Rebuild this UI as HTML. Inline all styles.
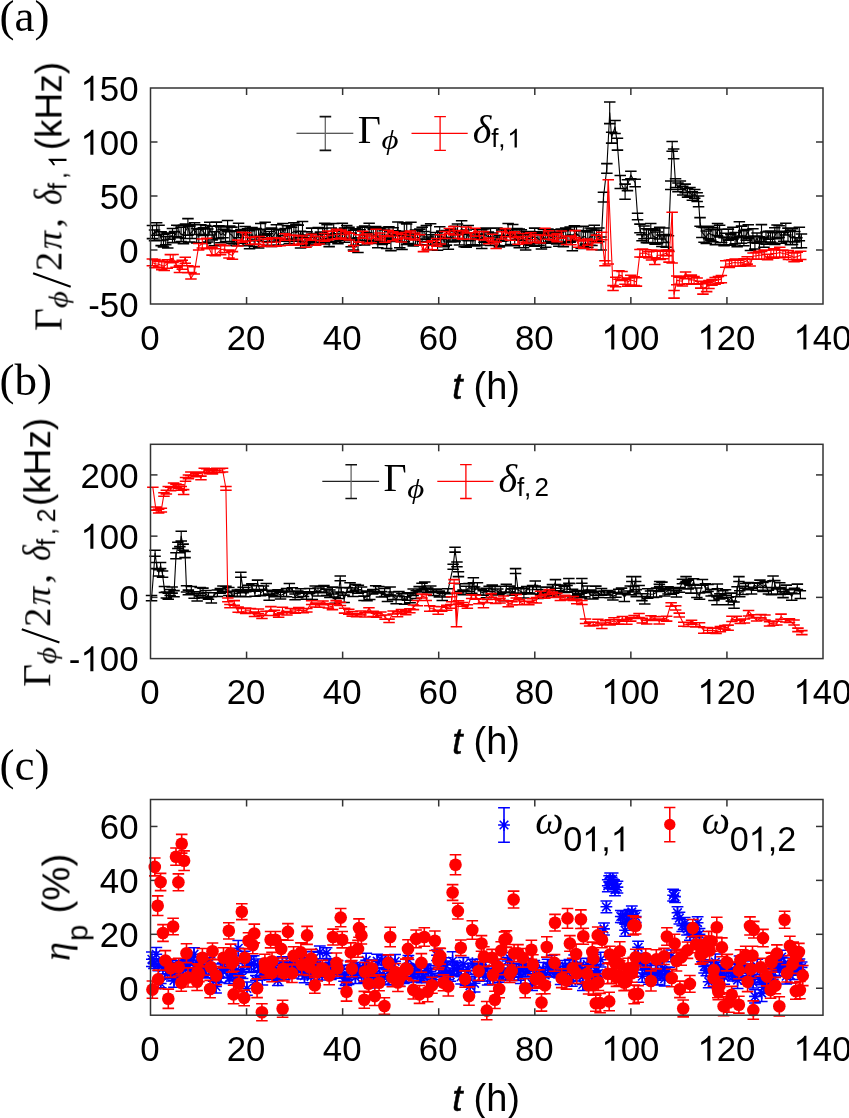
<!DOCTYPE html>
<html><head><meta charset="utf-8"><style>
html,body{margin:0;padding:0;background:#fff;overflow:hidden;}
svg{display:block;}
</style></head><body>
<svg width="849" height="1118" viewBox="0 0 849 1118">
<defs><filter id="gs" x="-20%" y="-30%" width="140%" height="160%"><feColorMatrix type="saturate" values="0"/></filter></defs>
<text filter="url(#gs)" x="140.32" y="349.50" font-family="Liberation Sans, sans-serif" font-size="34.8" >0</text>
<line x1="246.57" y1="304.0" x2="246.57" y2="297.0" stroke="#333" stroke-width="1.5"/>
<line x1="246.57" y1="88.0" x2="246.57" y2="95.0" stroke="#333" stroke-width="1.5"/>
<text filter="url(#gs)" x="226.72" y="349.50" font-family="Liberation Sans, sans-serif" font-size="34.8" >20</text>
<line x1="342.64" y1="304.0" x2="342.64" y2="297.0" stroke="#333" stroke-width="1.5"/>
<line x1="342.64" y1="88.0" x2="342.64" y2="95.0" stroke="#333" stroke-width="1.5"/>
<text filter="url(#gs)" x="322.79" y="349.50" font-family="Liberation Sans, sans-serif" font-size="34.8" >40</text>
<line x1="438.71" y1="304.0" x2="438.71" y2="297.0" stroke="#333" stroke-width="1.5"/>
<line x1="438.71" y1="88.0" x2="438.71" y2="95.0" stroke="#333" stroke-width="1.5"/>
<text filter="url(#gs)" x="418.86" y="349.50" font-family="Liberation Sans, sans-serif" font-size="34.8" >60</text>
<line x1="534.79" y1="304.0" x2="534.79" y2="297.0" stroke="#333" stroke-width="1.5"/>
<line x1="534.79" y1="88.0" x2="534.79" y2="95.0" stroke="#333" stroke-width="1.5"/>
<text filter="url(#gs)" x="514.93" y="349.50" font-family="Liberation Sans, sans-serif" font-size="34.8" >80</text>
<line x1="630.86" y1="304.0" x2="630.86" y2="297.0" stroke="#333" stroke-width="1.5"/>
<line x1="630.86" y1="88.0" x2="630.86" y2="95.0" stroke="#333" stroke-width="1.5"/>
<path transform="translate(601.33,349.50) scale(0.01699,-0.01699)" d="M763 0H583V1147Q518 1085 412.5 1023Q307 961 223 930V1104Q374 1175 487 1276Q600 1377 647 1472H763V0Z"/><text filter="url(#gs)" x="620.68" y="349.50" font-family="Liberation Sans, sans-serif" font-size="34.8" >00</text>
<line x1="726.93" y1="304.0" x2="726.93" y2="297.0" stroke="#333" stroke-width="1.5"/>
<line x1="726.93" y1="88.0" x2="726.93" y2="95.0" stroke="#333" stroke-width="1.5"/>
<path transform="translate(697.40,349.50) scale(0.01699,-0.01699)" d="M763 0H583V1147Q518 1085 412.5 1023Q307 961 223 930V1104Q374 1175 487 1276Q600 1377 647 1472H763V0Z"/><text filter="url(#gs)" x="716.75" y="349.50" font-family="Liberation Sans, sans-serif" font-size="34.8" >20</text>
<path transform="translate(793.47,349.50) scale(0.01699,-0.01699)" d="M763 0H583V1147Q518 1085 412.5 1023Q307 961 223 930V1104Q374 1175 487 1276Q600 1377 647 1472H763V0Z"/><text filter="url(#gs)" x="812.82" y="349.50" font-family="Liberation Sans, sans-serif" font-size="34.8" >40</text>
<text filter="url(#gs)" x="88.20" y="316.70" font-family="Liberation Sans, sans-serif" font-size="34.8" >-50</text>
<line x1="150.5" y1="250.00" x2="157.5" y2="250.00" stroke="#333" stroke-width="1.5"/>
<line x1="823.0" y1="250.00" x2="816.0" y2="250.00" stroke="#333" stroke-width="1.5"/>
<text filter="url(#gs)" x="119.15" y="262.70" font-family="Liberation Sans, sans-serif" font-size="34.8" >0</text>
<line x1="150.5" y1="196.00" x2="157.5" y2="196.00" stroke="#333" stroke-width="1.5"/>
<line x1="823.0" y1="196.00" x2="816.0" y2="196.00" stroke="#333" stroke-width="1.5"/>
<text filter="url(#gs)" x="99.79" y="208.70" font-family="Liberation Sans, sans-serif" font-size="34.8" >50</text>
<line x1="150.5" y1="142.00" x2="157.5" y2="142.00" stroke="#333" stroke-width="1.5"/>
<line x1="823.0" y1="142.00" x2="816.0" y2="142.00" stroke="#333" stroke-width="1.5"/>
<path transform="translate(80.44,154.70) scale(0.01699,-0.01699)" d="M763 0H583V1147Q518 1085 412.5 1023Q307 961 223 930V1104Q374 1175 487 1276Q600 1377 647 1472H763V0Z"/><text filter="url(#gs)" x="99.79" y="154.70" font-family="Liberation Sans, sans-serif" font-size="34.8" >00</text>
<path transform="translate(80.44,100.70) scale(0.01699,-0.01699)" d="M763 0H583V1147Q518 1085 412.5 1023Q307 961 223 930V1104Q374 1175 487 1276Q600 1377 647 1472H763V0Z"/><text filter="url(#gs)" x="99.79" y="100.70" font-family="Liberation Sans, sans-serif" font-size="34.8" >50</text>
<text filter="url(#gs)" x="140.32" y="704.10" font-family="Liberation Sans, sans-serif" font-size="34.8" >0</text>
<line x1="246.57" y1="658.6" x2="246.57" y2="651.6" stroke="#333" stroke-width="1.5"/>
<line x1="246.57" y1="444.3" x2="246.57" y2="451.3" stroke="#333" stroke-width="1.5"/>
<text filter="url(#gs)" x="226.72" y="704.10" font-family="Liberation Sans, sans-serif" font-size="34.8" >20</text>
<line x1="342.64" y1="658.6" x2="342.64" y2="651.6" stroke="#333" stroke-width="1.5"/>
<line x1="342.64" y1="444.3" x2="342.64" y2="451.3" stroke="#333" stroke-width="1.5"/>
<text filter="url(#gs)" x="322.79" y="704.10" font-family="Liberation Sans, sans-serif" font-size="34.8" >40</text>
<line x1="438.71" y1="658.6" x2="438.71" y2="651.6" stroke="#333" stroke-width="1.5"/>
<line x1="438.71" y1="444.3" x2="438.71" y2="451.3" stroke="#333" stroke-width="1.5"/>
<text filter="url(#gs)" x="418.86" y="704.10" font-family="Liberation Sans, sans-serif" font-size="34.8" >60</text>
<line x1="534.79" y1="658.6" x2="534.79" y2="651.6" stroke="#333" stroke-width="1.5"/>
<line x1="534.79" y1="444.3" x2="534.79" y2="451.3" stroke="#333" stroke-width="1.5"/>
<text filter="url(#gs)" x="514.93" y="704.10" font-family="Liberation Sans, sans-serif" font-size="34.8" >80</text>
<line x1="630.86" y1="658.6" x2="630.86" y2="651.6" stroke="#333" stroke-width="1.5"/>
<line x1="630.86" y1="444.3" x2="630.86" y2="451.3" stroke="#333" stroke-width="1.5"/>
<path transform="translate(601.33,704.10) scale(0.01699,-0.01699)" d="M763 0H583V1147Q518 1085 412.5 1023Q307 961 223 930V1104Q374 1175 487 1276Q600 1377 647 1472H763V0Z"/><text filter="url(#gs)" x="620.68" y="704.10" font-family="Liberation Sans, sans-serif" font-size="34.8" >00</text>
<line x1="726.93" y1="658.6" x2="726.93" y2="651.6" stroke="#333" stroke-width="1.5"/>
<line x1="726.93" y1="444.3" x2="726.93" y2="451.3" stroke="#333" stroke-width="1.5"/>
<path transform="translate(697.40,704.10) scale(0.01699,-0.01699)" d="M763 0H583V1147Q518 1085 412.5 1023Q307 961 223 930V1104Q374 1175 487 1276Q600 1377 647 1472H763V0Z"/><text filter="url(#gs)" x="716.75" y="704.10" font-family="Liberation Sans, sans-serif" font-size="34.8" >20</text>
<path transform="translate(793.47,704.10) scale(0.01699,-0.01699)" d="M763 0H583V1147Q518 1085 412.5 1023Q307 961 223 930V1104Q374 1175 487 1276Q600 1377 647 1472H763V0Z"/><text filter="url(#gs)" x="812.82" y="704.10" font-family="Liberation Sans, sans-serif" font-size="34.8" >40</text>
<text filter="url(#gs)" x="68.85" y="671.30" font-family="Liberation Sans, sans-serif" font-size="34.8" >-</text><path transform="translate(80.44,671.30) scale(0.01699,-0.01699)" d="M763 0H583V1147Q518 1085 412.5 1023Q307 961 223 930V1104Q374 1175 487 1276Q600 1377 647 1472H763V0Z"/><text filter="url(#gs)" x="99.79" y="671.30" font-family="Liberation Sans, sans-serif" font-size="34.8" >00</text>
<line x1="150.5" y1="597.37" x2="157.5" y2="597.37" stroke="#333" stroke-width="1.5"/>
<line x1="823.0" y1="597.37" x2="816.0" y2="597.37" stroke="#333" stroke-width="1.5"/>
<text filter="url(#gs)" x="119.15" y="610.07" font-family="Liberation Sans, sans-serif" font-size="34.8" >0</text>
<line x1="150.5" y1="536.14" x2="157.5" y2="536.14" stroke="#333" stroke-width="1.5"/>
<line x1="823.0" y1="536.14" x2="816.0" y2="536.14" stroke="#333" stroke-width="1.5"/>
<path transform="translate(80.44,548.84) scale(0.01699,-0.01699)" d="M763 0H583V1147Q518 1085 412.5 1023Q307 961 223 930V1104Q374 1175 487 1276Q600 1377 647 1472H763V0Z"/><text filter="url(#gs)" x="99.79" y="548.84" font-family="Liberation Sans, sans-serif" font-size="34.8" >00</text>
<line x1="150.5" y1="474.91" x2="157.5" y2="474.91" stroke="#333" stroke-width="1.5"/>
<line x1="823.0" y1="474.91" x2="816.0" y2="474.91" stroke="#333" stroke-width="1.5"/>
<text filter="url(#gs)" x="80.44" y="487.61" font-family="Liberation Sans, sans-serif" font-size="34.8" >200</text>
<text filter="url(#gs)" x="140.32" y="1060.70" font-family="Liberation Sans, sans-serif" font-size="34.8" >0</text>
<line x1="246.57" y1="1015.2" x2="246.57" y2="1008.2" stroke="#333" stroke-width="1.5"/>
<line x1="246.57" y1="799.5" x2="246.57" y2="806.5" stroke="#333" stroke-width="1.5"/>
<text filter="url(#gs)" x="226.72" y="1060.70" font-family="Liberation Sans, sans-serif" font-size="34.8" >20</text>
<line x1="342.64" y1="1015.2" x2="342.64" y2="1008.2" stroke="#333" stroke-width="1.5"/>
<line x1="342.64" y1="799.5" x2="342.64" y2="806.5" stroke="#333" stroke-width="1.5"/>
<text filter="url(#gs)" x="322.79" y="1060.70" font-family="Liberation Sans, sans-serif" font-size="34.8" >40</text>
<line x1="438.71" y1="1015.2" x2="438.71" y2="1008.2" stroke="#333" stroke-width="1.5"/>
<line x1="438.71" y1="799.5" x2="438.71" y2="806.5" stroke="#333" stroke-width="1.5"/>
<text filter="url(#gs)" x="418.86" y="1060.70" font-family="Liberation Sans, sans-serif" font-size="34.8" >60</text>
<line x1="534.79" y1="1015.2" x2="534.79" y2="1008.2" stroke="#333" stroke-width="1.5"/>
<line x1="534.79" y1="799.5" x2="534.79" y2="806.5" stroke="#333" stroke-width="1.5"/>
<text filter="url(#gs)" x="514.93" y="1060.70" font-family="Liberation Sans, sans-serif" font-size="34.8" >80</text>
<line x1="630.86" y1="1015.2" x2="630.86" y2="1008.2" stroke="#333" stroke-width="1.5"/>
<line x1="630.86" y1="799.5" x2="630.86" y2="806.5" stroke="#333" stroke-width="1.5"/>
<path transform="translate(601.33,1060.70) scale(0.01699,-0.01699)" d="M763 0H583V1147Q518 1085 412.5 1023Q307 961 223 930V1104Q374 1175 487 1276Q600 1377 647 1472H763V0Z"/><text filter="url(#gs)" x="620.68" y="1060.70" font-family="Liberation Sans, sans-serif" font-size="34.8" >00</text>
<line x1="726.93" y1="1015.2" x2="726.93" y2="1008.2" stroke="#333" stroke-width="1.5"/>
<line x1="726.93" y1="799.5" x2="726.93" y2="806.5" stroke="#333" stroke-width="1.5"/>
<path transform="translate(697.40,1060.70) scale(0.01699,-0.01699)" d="M763 0H583V1147Q518 1085 412.5 1023Q307 961 223 930V1104Q374 1175 487 1276Q600 1377 647 1472H763V0Z"/><text filter="url(#gs)" x="716.75" y="1060.70" font-family="Liberation Sans, sans-serif" font-size="34.8" >20</text>
<path transform="translate(793.47,1060.70) scale(0.01699,-0.01699)" d="M763 0H583V1147Q518 1085 412.5 1023Q307 961 223 930V1104Q374 1175 487 1276Q600 1377 647 1472H763V0Z"/><text filter="url(#gs)" x="812.82" y="1060.70" font-family="Liberation Sans, sans-serif" font-size="34.8" >40</text>
<line x1="150.5" y1="988.24" x2="157.5" y2="988.24" stroke="#333" stroke-width="1.5"/>
<line x1="823.0" y1="988.24" x2="816.0" y2="988.24" stroke="#333" stroke-width="1.5"/>
<text filter="url(#gs)" x="119.15" y="1000.94" font-family="Liberation Sans, sans-serif" font-size="34.8" >0</text>
<line x1="150.5" y1="934.31" x2="157.5" y2="934.31" stroke="#333" stroke-width="1.5"/>
<line x1="823.0" y1="934.31" x2="816.0" y2="934.31" stroke="#333" stroke-width="1.5"/>
<text filter="url(#gs)" x="99.79" y="947.01" font-family="Liberation Sans, sans-serif" font-size="34.8" >20</text>
<line x1="150.5" y1="880.39" x2="157.5" y2="880.39" stroke="#333" stroke-width="1.5"/>
<line x1="823.0" y1="880.39" x2="816.0" y2="880.39" stroke="#333" stroke-width="1.5"/>
<text filter="url(#gs)" x="99.79" y="893.09" font-family="Liberation Sans, sans-serif" font-size="34.8" >40</text>
<line x1="150.5" y1="826.46" x2="157.5" y2="826.46" stroke="#333" stroke-width="1.5"/>
<line x1="823.0" y1="826.46" x2="816.0" y2="826.46" stroke="#333" stroke-width="1.5"/>
<text filter="url(#gs)" x="99.79" y="839.16" font-family="Liberation Sans, sans-serif" font-size="34.8" >60</text>
<path d="M152.5 225.5V238.6M154.5 229.9V240.8M156.7 222.8V235.3M159.0 225.2V240.4M161.2 231.7V245.6M163.5 234.4V247.0M165.7 236.7V244.8M167.8 233.1V248.0M169.9 233.3V239.2M172.5 228.4V242.8M174.5 231.6V242.5M176.8 225.3V236.8M178.8 225.5V237.7M181.1 227.2V241.5M183.5 225.1V243.6M185.4 224.1V238.5M187.9 218.6V235.1M189.8 226.1V242.0M192.1 224.7V238.5M194.6 222.7V234.5M196.7 228.4V242.9M198.8 229.3V242.7M200.9 224.7V234.5M203.3 227.8V235.4M205.5 225.4V243.5M207.8 229.0V241.9M209.7 222.2V234.9M212.1 226.3V239.9M214.3 231.7V245.7M216.5 222.1V238.3M218.8 225.7V238.7M220.9 226.9V242.8M223.1 229.3V237.8M225.5 230.3V241.5M227.6 220.5V231.8M229.8 226.0V241.6M232.0 227.1V243.4M234.1 231.4V245.2M236.5 230.8V245.7M238.6 223.2V237.8M240.9 229.5V243.1M243.1 230.6V245.8M245.2 226.5V234.9M247.6 228.7V245.3M249.6 230.6V248.7M252.0 227.6V240.7M254.2 228.9V246.5M256.2 228.5V239.9M258.6 229.8V248.0M260.7 223.4V237.5M263.0 229.3V241.5M265.2 222.3V235.1M267.3 233.8V245.2M269.4 231.5V242.2M271.6 227.9V246.5M274.0 229.2V241.2M276.3 224.7V238.7M278.4 229.6V245.1M280.5 229.9V240.3M282.9 223.4V235.8M285.1 228.5V241.1M287.4 225.8V238.9M289.2 225.7V243.6M291.5 227.3V239.5M293.9 222.7V239.9M295.9 224.5V241.1M298.3 225.1V237.7M300.5 231.2V248.0M302.5 221.5V241.6M305.0 234.9V243.5M307.0 231.7V245.7M309.4 237.5V244.7M311.6 228.1V241.3M313.9 233.6V242.7M316.0 234.2V242.9M318.2 227.4V242.8M320.5 232.0V242.8M322.7 228.4V239.9M324.6 223.3V243.9M327.0 224.6V238.4M329.1 234.1V246.6M331.3 228.0V242.3M333.7 223.5V237.5M335.8 233.7V241.3M337.9 231.3V243.6M340.1 229.6V239.8M342.4 223.3V237.9M344.5 228.0V242.2M346.7 225.5V240.3M349.0 227.2V239.0M351.2 233.1V246.7M353.5 230.3V249.9M355.8 228.7V245.2M358.0 237.7V252.5M360.1 229.7V240.2M362.3 227.1V244.9M364.7 225.9V244.9M366.9 232.8V241.0M369.1 223.3V240.3M371.3 227.7V242.5M373.3 229.2V243.4M375.7 226.6V240.4M377.8 228.5V247.7M380.0 229.0V241.9M382.3 227.6V244.5M384.6 230.0V243.3M386.7 235.3V248.5M388.9 226.8V238.3M390.9 231.7V250.6M393.1 227.7V239.8M395.5 230.7V241.5M397.8 221.9V235.1M399.7 232.6V247.7M402.0 231.3V249.5M404.3 222.7V241.7M406.7 224.0V244.4M408.7 233.8V243.4M411.0 222.3V239.4M413.3 233.5V245.9M415.4 229.9V244.7M417.5 230.7V244.6M419.8 229.1V244.8M422.1 227.3V241.5M424.1 231.4V239.1M426.3 225.4V241.7M428.6 236.9V249.7M430.7 223.8V245.1M432.9 234.7V245.0M435.4 232.5V242.8M437.6 232.5V250.2M439.7 226.7V239.2M441.8 231.1V243.9M444.2 237.3V246.6M446.5 230.4V245.1M448.4 237.8V249.3M450.8 229.1V242.0M453.0 231.2V241.3M455.1 226.2V241.8M457.5 224.0V239.9M459.5 231.9V245.0M461.6 220.7V234.2M464.1 232.2V246.8M466.3 229.9V247.1M468.3 225.4V240.6M470.8 232.7V245.2M472.9 233.4V244.7M475.1 236.0V245.9M477.4 229.2V238.2M479.5 234.1V244.9M481.8 229.6V248.4M484.0 228.9V242.2M486.0 228.0V241.6M488.4 232.0V242.5M490.6 228.3V245.4M492.8 233.0V241.4M495.0 237.0V245.2M497.0 227.9V245.5M499.4 235.3V247.0M501.6 229.9V241.3M503.6 229.0V240.6M505.9 235.7V245.8M508.1 223.5V236.5M510.5 229.9V244.4M512.7 224.5V235.2M514.7 236.0V245.7M517.0 228.5V239.4M519.2 229.1V247.7M521.4 229.8V240.3M523.6 234.6V247.7M525.7 231.5V250.0M528.0 232.9V244.2M530.2 231.6V245.5M532.5 232.2V242.6M534.7 228.1V246.3M537.1 231.8V243.3M539.0 233.5V245.2M541.4 233.0V249.0M543.4 229.4V242.8M545.7 234.0V247.3M548.0 229.1V243.2M550.1 231.9V241.6M552.4 234.5V241.8M554.6 229.7V243.2M556.7 233.0V243.9M558.8 232.0V246.3M561.2 228.9V243.4M563.3 230.8V246.6M565.7 227.9V242.7M567.9 229.6V241.6M570.2 226.9V242.3M572.3 234.9V250.7M574.4 225.8V240.6M576.5 226.7V240.3M579.0 231.0V240.2M581.1 230.4V248.5M583.3 226.2V245.9M585.5 230.8V244.1M587.8 232.0V247.4M590.1 228.0V245.3M592.0 229.0V245.5M594.3 225.3V240.7M596.5 230.3V241.1M598.9 227.9V241.8M601.1 237.0V249.9M603.5 192.2V201.9M606.8 163.6V173.3M609.7 102.0V123.6M611.6 132.3V143.1M615.0 120.4V133.4M617.4 138.2V150.1M620.3 175.5V188.4M625.1 184.1V199.2M627.5 179.8V190.6M630.9 171.2V178.7M635.2 179.3V186.8M637.6 213.3V219.8M640.0 224.1V232.7M642.0 234.7V240.7M644.0 225.9V238.8M646.4 228.8V242.6M648.4 229.7V243.0M650.8 223.4V238.3M652.9 228.8V242.7M655.1 230.1V244.3M657.5 231.9V243.6M659.6 227.2V239.0M661.9 235.0V246.4M663.8 227.9V242.5M666.1 234.5V247.3M668.4 235.7V250.3M670.7 180.9V189.5M672.2 141.5V151.2M673.6 149.0V158.7M675.5 178.7V187.4M677.9 183.0V191.7M680.3 180.9V189.5M682.7 186.3V194.9M685.1 184.1V192.8M687.5 188.4V197.1M689.9 187.4V196.0M692.3 191.7V200.3M694.7 189.5V198.2M697.1 192.8V201.4M698.6 196.0V206.8M700.0 217.6V226.2M701.9 226.9V237.5M704.1 227.5V242.2M706.2 231.0V243.4M708.7 226.3V238.8M710.8 229.3V240.3M712.9 227.5V241.8M715.3 229.6V244.6M717.5 223.5V235.5M719.6 225.3V236.9M721.7 229.3V242.4M724.0 237.6V245.7M726.2 233.2V244.7M728.3 229.1V240.1M730.8 234.1V245.1M732.8 227.3V239.1M735.1 232.4V243.8M737.2 237.6V246.8M739.4 221.7V236.0M741.6 226.1V243.3M743.9 230.7V245.7M746.2 229.6V240.1M748.2 224.8V238.2M750.4 236.8V250.4M752.9 228.8V242.5M754.9 236.1V248.9M757.0 232.9V243.2M759.4 236.8V251.8M761.5 224.6V241.6M763.9 237.6V247.2M766.0 232.0V244.1M768.4 231.2V239.2M770.5 231.0V242.1M772.5 232.7V243.0M774.8 227.7V244.4M777.0 224.9V238.6M779.1 225.7V237.4M781.4 231.2V243.3M783.7 232.2V241.3M785.8 223.3V235.0M788.0 228.1V241.8M790.5 230.4V244.6M792.5 228.6V244.5M794.8 231.4V241.9M796.8 237.8V248.0M799.3 227.3V240.7M801.4 234.0V247.8" stroke="#000" stroke-width="1.15" fill="none"/>
<path d="M146.7 225.5h11.5M146.7 238.6h11.5M148.8 229.9h11.5M148.8 240.8h11.5M150.9 222.8h11.5M150.9 235.3h11.5M153.3 225.2h11.5M153.3 240.4h11.5M155.4 231.7h11.5M155.4 245.6h11.5M157.7 234.4h11.5M157.7 247.0h11.5M160.0 236.7h11.5M160.0 244.8h11.5M162.0 233.1h11.5M162.0 248.0h11.5M164.2 233.3h11.5M164.2 239.2h11.5M166.7 228.4h11.5M166.7 242.8h11.5M168.8 231.6h11.5M168.8 242.5h11.5M171.0 225.3h11.5M171.0 236.8h11.5M173.0 225.5h11.5M173.0 237.7h11.5M175.3 227.2h11.5M175.3 241.5h11.5M177.7 225.1h11.5M177.7 243.6h11.5M179.7 224.1h11.5M179.7 238.5h11.5M182.2 218.6h11.5M182.2 235.1h11.5M184.1 226.1h11.5M184.1 242.0h11.5M186.3 224.7h11.5M186.3 238.5h11.5M188.8 222.7h11.5M188.8 234.5h11.5M190.9 228.4h11.5M190.9 242.9h11.5M193.1 229.3h11.5M193.1 242.7h11.5M195.1 224.7h11.5M195.1 234.5h11.5M197.6 227.8h11.5M197.6 235.4h11.5M199.8 225.4h11.5M199.8 243.5h11.5M202.1 229.0h11.5M202.1 241.9h11.5M204.0 222.2h11.5M204.0 234.9h11.5M206.4 226.3h11.5M206.4 239.9h11.5M208.6 231.7h11.5M208.6 245.7h11.5M210.7 222.1h11.5M210.7 238.3h11.5M213.1 225.7h11.5M213.1 238.7h11.5M215.1 226.9h11.5M215.1 242.8h11.5M217.3 229.3h11.5M217.3 237.8h11.5M219.8 230.3h11.5M219.8 241.5h11.5M221.8 220.5h11.5M221.8 231.8h11.5M224.0 226.0h11.5M224.0 241.6h11.5M226.2 227.1h11.5M226.2 243.4h11.5M228.3 231.4h11.5M228.3 245.2h11.5M230.7 230.8h11.5M230.7 245.7h11.5M232.8 223.2h11.5M232.8 237.8h11.5M235.1 229.5h11.5M235.1 243.1h11.5M237.3 230.6h11.5M237.3 245.8h11.5M239.4 226.5h11.5M239.4 234.9h11.5M241.8 228.7h11.5M241.8 245.3h11.5M243.8 230.6h11.5M243.8 248.7h11.5M246.3 227.6h11.5M246.3 240.7h11.5M248.5 228.9h11.5M248.5 246.5h11.5M250.5 228.5h11.5M250.5 239.9h11.5M252.9 229.8h11.5M252.9 248.0h11.5M255.0 223.4h11.5M255.0 237.5h11.5M257.3 229.3h11.5M257.3 241.5h11.5M259.4 222.3h11.5M259.4 235.1h11.5M261.5 233.8h11.5M261.5 245.2h11.5M263.7 231.5h11.5M263.7 242.2h11.5M265.9 227.9h11.5M265.9 246.5h11.5M268.2 229.2h11.5M268.2 241.2h11.5M270.6 224.7h11.5M270.6 238.7h11.5M272.7 229.6h11.5M272.7 245.1h11.5M274.8 229.9h11.5M274.8 240.3h11.5M277.1 223.4h11.5M277.1 235.8h11.5M279.4 228.5h11.5M279.4 241.1h11.5M281.6 225.8h11.5M281.6 238.9h11.5M283.5 225.7h11.5M283.5 243.6h11.5M285.8 227.3h11.5M285.8 239.5h11.5M288.1 222.7h11.5M288.1 239.9h11.5M290.1 224.5h11.5M290.1 241.1h11.5M292.5 225.1h11.5M292.5 237.7h11.5M294.8 231.2h11.5M294.8 248.0h11.5M296.8 221.5h11.5M296.8 241.6h11.5M299.3 234.9h11.5M299.3 243.5h11.5M301.3 231.7h11.5M301.3 245.7h11.5M303.7 237.5h11.5M303.7 244.7h11.5M305.9 228.1h11.5M305.9 241.3h11.5M308.1 233.6h11.5M308.1 242.7h11.5M310.2 234.2h11.5M310.2 242.9h11.5M312.5 227.4h11.5M312.5 242.8h11.5M314.7 232.0h11.5M314.7 242.8h11.5M316.9 228.4h11.5M316.9 239.9h11.5M318.9 223.3h11.5M318.9 243.9h11.5M321.3 224.6h11.5M321.3 238.4h11.5M323.4 234.1h11.5M323.4 246.6h11.5M325.5 228.0h11.5M325.5 242.3h11.5M327.9 223.5h11.5M327.9 237.5h11.5M330.0 233.7h11.5M330.0 241.3h11.5M332.2 231.3h11.5M332.2 243.6h11.5M334.3 229.6h11.5M334.3 239.8h11.5M336.6 223.3h11.5M336.6 237.9h11.5M338.8 228.0h11.5M338.8 242.2h11.5M341.0 225.5h11.5M341.0 240.3h11.5M343.3 227.2h11.5M343.3 239.0h11.5M345.4 233.1h11.5M345.4 246.7h11.5M347.7 230.3h11.5M347.7 249.9h11.5M350.0 228.7h11.5M350.0 245.2h11.5M352.2 237.7h11.5M352.2 252.5h11.5M354.4 229.7h11.5M354.4 240.2h11.5M356.5 227.1h11.5M356.5 244.9h11.5M358.9 225.9h11.5M358.9 244.9h11.5M361.1 232.8h11.5M361.1 241.0h11.5M363.4 223.3h11.5M363.4 240.3h11.5M365.5 227.7h11.5M365.5 242.5h11.5M367.5 229.2h11.5M367.5 243.4h11.5M369.9 226.6h11.5M369.9 240.4h11.5M372.0 228.5h11.5M372.0 247.7h11.5M374.3 229.0h11.5M374.3 241.9h11.5M376.6 227.6h11.5M376.6 244.5h11.5M378.8 230.0h11.5M378.8 243.3h11.5M381.0 235.3h11.5M381.0 248.5h11.5M383.2 226.8h11.5M383.2 238.3h11.5M385.2 231.7h11.5M385.2 250.6h11.5M387.4 227.7h11.5M387.4 239.8h11.5M389.7 230.7h11.5M389.7 241.5h11.5M392.1 221.9h11.5M392.1 235.1h11.5M394.0 232.6h11.5M394.0 247.7h11.5M396.3 231.3h11.5M396.3 249.5h11.5M398.6 222.7h11.5M398.6 241.7h11.5M400.9 224.0h11.5M400.9 244.4h11.5M403.0 233.8h11.5M403.0 243.4h11.5M405.2 222.3h11.5M405.2 239.4h11.5M407.5 233.5h11.5M407.5 245.9h11.5M409.7 229.9h11.5M409.7 244.7h11.5M411.8 230.7h11.5M411.8 244.6h11.5M414.1 229.1h11.5M414.1 244.8h11.5M416.4 227.3h11.5M416.4 241.5h11.5M418.3 231.4h11.5M418.3 239.1h11.5M420.6 225.4h11.5M420.6 241.7h11.5M422.9 236.9h11.5M422.9 249.7h11.5M424.9 223.8h11.5M424.9 245.1h11.5M427.1 234.7h11.5M427.1 245.0h11.5M429.6 232.5h11.5M429.6 242.8h11.5M431.8 232.5h11.5M431.8 250.2h11.5M434.0 226.7h11.5M434.0 239.2h11.5M436.0 231.1h11.5M436.0 243.9h11.5M438.5 237.3h11.5M438.5 246.6h11.5M440.7 230.4h11.5M440.7 245.1h11.5M442.6 237.8h11.5M442.6 249.3h11.5M445.1 229.1h11.5M445.1 242.0h11.5M447.3 231.2h11.5M447.3 241.3h11.5M449.4 226.2h11.5M449.4 241.8h11.5M451.7 224.0h11.5M451.7 239.9h11.5M453.7 231.9h11.5M453.7 245.0h11.5M455.9 220.7h11.5M455.9 234.2h11.5M458.4 232.2h11.5M458.4 246.8h11.5M460.5 229.9h11.5M460.5 247.1h11.5M462.5 225.4h11.5M462.5 240.6h11.5M465.0 232.7h11.5M465.0 245.2h11.5M467.1 233.4h11.5M467.1 244.7h11.5M469.3 236.0h11.5M469.3 245.9h11.5M471.6 229.2h11.5M471.6 238.2h11.5M473.8 234.1h11.5M473.8 244.9h11.5M476.0 229.6h11.5M476.0 248.4h11.5M478.2 228.9h11.5M478.2 242.2h11.5M480.3 228.0h11.5M480.3 241.6h11.5M482.6 232.0h11.5M482.6 242.5h11.5M484.8 228.3h11.5M484.8 245.4h11.5M487.1 233.0h11.5M487.1 241.4h11.5M489.3 237.0h11.5M489.3 245.2h11.5M491.2 227.9h11.5M491.2 245.5h11.5M493.6 235.3h11.5M493.6 247.0h11.5M495.9 229.9h11.5M495.9 241.3h11.5M497.9 229.0h11.5M497.9 240.6h11.5M500.2 235.7h11.5M500.2 245.8h11.5M502.4 223.5h11.5M502.4 236.5h11.5M504.8 229.9h11.5M504.8 244.4h11.5M507.0 224.5h11.5M507.0 235.2h11.5M508.9 236.0h11.5M508.9 245.7h11.5M511.2 228.5h11.5M511.2 239.4h11.5M513.5 229.1h11.5M513.5 247.7h11.5M515.6 229.8h11.5M515.6 240.3h11.5M517.8 234.6h11.5M517.8 247.7h11.5M519.9 231.5h11.5M519.9 250.0h11.5M522.3 232.9h11.5M522.3 244.2h11.5M524.4 231.6h11.5M524.4 245.5h11.5M526.8 232.2h11.5M526.8 242.6h11.5M528.9 228.1h11.5M528.9 246.3h11.5M531.3 231.8h11.5M531.3 243.3h11.5M533.3 233.5h11.5M533.3 245.2h11.5M535.7 233.0h11.5M535.7 249.0h11.5M537.6 229.4h11.5M537.6 242.8h11.5M540.0 234.0h11.5M540.0 247.3h11.5M542.2 229.1h11.5M542.2 243.2h11.5M544.4 231.9h11.5M544.4 241.6h11.5M546.6 234.5h11.5M546.6 241.8h11.5M548.9 229.7h11.5M548.9 243.2h11.5M550.9 233.0h11.5M550.9 243.9h11.5M553.1 232.0h11.5M553.1 246.3h11.5M555.4 228.9h11.5M555.4 243.4h11.5M557.6 230.8h11.5M557.6 246.6h11.5M559.9 227.9h11.5M559.9 242.7h11.5M562.2 229.6h11.5M562.2 241.6h11.5M564.4 226.9h11.5M564.4 242.3h11.5M566.6 234.9h11.5M566.6 250.7h11.5M568.6 225.8h11.5M568.6 240.6h11.5M570.8 226.7h11.5M570.8 240.3h11.5M573.2 231.0h11.5M573.2 240.2h11.5M575.4 230.4h11.5M575.4 248.5h11.5M577.6 226.2h11.5M577.6 245.9h11.5M579.7 230.8h11.5M579.7 244.1h11.5M582.1 232.0h11.5M582.1 247.4h11.5M584.3 228.0h11.5M584.3 245.3h11.5M586.2 229.0h11.5M586.2 245.5h11.5M588.5 225.3h11.5M588.5 240.7h11.5M590.7 230.3h11.5M590.7 241.1h11.5M593.1 227.9h11.5M593.1 241.8h11.5M595.3 237.0h11.5M595.3 249.9h11.5M597.7 192.2h11.5M597.7 201.9h11.5M601.1 163.6h11.5M601.1 173.3h11.5M604.0 102.0h11.5M604.0 123.6h11.5M605.9 132.3h11.5M605.9 143.1h11.5M609.3 120.4h11.5M609.3 133.4h11.5M611.7 138.2h11.5M611.7 150.1h11.5M614.5 175.5h11.5M614.5 188.4h11.5M619.3 184.1h11.5M619.3 199.2h11.5M621.7 179.8h11.5M621.7 190.6h11.5M625.1 171.2h11.5M625.1 178.7h11.5M629.4 179.3h11.5M629.4 186.8h11.5M631.8 213.3h11.5M631.8 219.8h11.5M634.2 224.1h11.5M634.2 232.7h11.5M636.3 234.7h11.5M636.3 240.7h11.5M638.3 225.9h11.5M638.3 238.8h11.5M640.6 228.8h11.5M640.6 242.6h11.5M642.6 229.7h11.5M642.6 243.0h11.5M645.0 223.4h11.5M645.0 238.3h11.5M647.1 228.8h11.5M647.1 242.7h11.5M649.3 230.1h11.5M649.3 244.3h11.5M651.8 231.9h11.5M651.8 243.6h11.5M653.9 227.2h11.5M653.9 239.0h11.5M656.1 235.0h11.5M656.1 246.4h11.5M658.1 227.9h11.5M658.1 242.5h11.5M660.4 234.5h11.5M660.4 247.3h11.5M662.7 235.7h11.5M662.7 250.3h11.5M665.0 180.9h11.5M665.0 189.5h11.5M666.4 141.5h11.5M666.4 151.2h11.5M667.9 149.0h11.5M667.9 158.7h11.5M669.8 178.7h11.5M669.8 187.4h11.5M672.2 183.0h11.5M672.2 191.7h11.5M674.6 180.9h11.5M674.6 189.5h11.5M677.0 186.3h11.5M677.0 194.9h11.5M679.4 184.1h11.5M679.4 192.8h11.5M681.8 188.4h11.5M681.8 197.1h11.5M684.2 187.4h11.5M684.2 196.0h11.5M686.6 191.7h11.5M686.6 200.3h11.5M689.0 189.5h11.5M689.0 198.2h11.5M691.4 192.8h11.5M691.4 201.4h11.5M692.8 196.0h11.5M692.8 206.8h11.5M694.3 217.6h11.5M694.3 226.2h11.5M696.1 226.9h11.5M696.1 237.5h11.5M698.3 227.5h11.5M698.3 242.2h11.5M700.5 231.0h11.5M700.5 243.4h11.5M702.9 226.3h11.5M702.9 238.8h11.5M705.1 229.3h11.5M705.1 240.3h11.5M707.1 227.5h11.5M707.1 241.8h11.5M709.6 229.6h11.5M709.6 244.6h11.5M711.8 223.5h11.5M711.8 235.5h11.5M713.9 225.3h11.5M713.9 236.9h11.5M715.9 229.3h11.5M715.9 242.4h11.5M718.3 237.6h11.5M718.3 245.7h11.5M720.4 233.2h11.5M720.4 244.7h11.5M722.6 229.1h11.5M722.6 240.1h11.5M725.1 234.1h11.5M725.1 245.1h11.5M727.1 227.3h11.5M727.1 239.1h11.5M729.4 232.4h11.5M729.4 243.8h11.5M731.4 237.6h11.5M731.4 246.8h11.5M733.6 221.7h11.5M733.6 236.0h11.5M735.8 226.1h11.5M735.8 243.3h11.5M738.1 230.7h11.5M738.1 245.7h11.5M740.4 229.6h11.5M740.4 240.1h11.5M742.5 224.8h11.5M742.5 238.2h11.5M744.7 236.8h11.5M744.7 250.4h11.5M747.2 228.8h11.5M747.2 242.5h11.5M749.1 236.1h11.5M749.1 248.9h11.5M751.3 232.9h11.5M751.3 243.2h11.5M753.7 236.8h11.5M753.7 251.8h11.5M755.7 224.6h11.5M755.7 241.6h11.5M758.2 237.6h11.5M758.2 247.2h11.5M760.2 232.0h11.5M760.2 244.1h11.5M762.6 231.2h11.5M762.6 239.2h11.5M764.8 231.0h11.5M764.8 242.1h11.5M766.8 232.7h11.5M766.8 243.0h11.5M769.0 227.7h11.5M769.0 244.4h11.5M771.3 224.9h11.5M771.3 238.6h11.5M773.4 225.7h11.5M773.4 237.4h11.5M775.7 231.2h11.5M775.7 243.3h11.5M777.9 232.2h11.5M777.9 241.3h11.5M780.1 223.3h11.5M780.1 235.0h11.5M782.2 228.1h11.5M782.2 241.8h11.5M784.7 230.4h11.5M784.7 244.6h11.5M786.8 228.6h11.5M786.8 244.5h11.5M789.1 231.4h11.5M789.1 241.9h11.5M791.1 237.8h11.5M791.1 248.0h11.5M793.6 227.3h11.5M793.6 240.7h11.5M795.7 234.0h11.5M795.7 247.8h11.5" stroke="#000" stroke-width="1.55" fill="none"/>
<polyline points="152.5,232.0 154.5,235.3 156.7,229.0 159.0,232.8 161.2,238.6 163.5,240.7 165.7,240.8 167.8,240.5 169.9,236.3 172.5,235.6 174.5,237.0 176.8,231.1 178.8,231.6 181.1,234.4 183.5,234.4 185.4,231.3 187.9,226.8 189.8,234.0 192.1,231.6 194.6,228.6 196.7,235.7 198.8,236.0 200.9,229.6 203.3,231.6 205.5,234.5 207.8,235.5 209.7,228.5 212.1,233.1 214.3,238.7 216.5,230.2 218.8,232.2 220.9,234.8 223.1,233.5 225.5,235.9 227.6,226.2 229.8,233.8 232.0,235.2 234.1,238.3 236.5,238.2 238.6,230.5 240.9,236.3 243.1,238.2 245.2,230.7 247.6,237.0 249.6,239.7 252.0,234.2 254.2,237.7 256.2,234.2 258.6,238.9 260.7,230.5 263.0,235.4 265.2,228.7 267.3,239.5 269.4,236.9 271.6,237.2 274.0,235.2 276.3,231.7 278.4,237.4 280.5,235.1 282.9,229.6 285.1,234.8 287.4,232.3 289.2,234.7 291.5,233.4 293.9,231.3 295.9,232.8 298.3,231.4 300.5,239.6 302.5,231.6 305.0,239.2 307.0,238.7 309.4,241.1 311.6,234.7 313.9,238.1 316.0,238.6 318.2,235.1 320.5,237.4 322.7,234.1 324.6,233.6 327.0,231.5 329.1,240.4 331.3,235.2 333.7,230.5 335.8,237.5 337.9,237.5 340.1,234.7 342.4,230.6 344.5,235.1 346.7,232.9 349.0,233.1 351.2,239.9 353.5,240.1 355.8,236.9 358.0,245.1 360.1,235.0 362.3,236.0 364.7,235.4 366.9,236.9 369.1,231.8 371.3,235.1 373.3,236.3 375.7,233.5 377.8,238.1 380.0,235.5 382.3,236.0 384.6,236.7 386.7,241.9 388.9,232.6 390.9,241.2 393.1,233.7 395.5,236.1 397.8,228.5 399.7,240.1 402.0,240.4 404.3,232.2 406.7,234.2 408.7,238.6 411.0,230.8 413.3,239.7 415.4,237.3 417.5,237.7 419.8,236.9 422.1,234.4 424.1,235.2 426.3,233.5 428.6,243.3 430.7,234.5 432.9,239.9 435.4,237.6 437.6,241.4 439.7,232.9 441.8,237.5 444.2,242.0 446.5,237.8 448.4,243.6 450.8,235.6 453.0,236.2 455.1,234.0 457.5,231.9 459.5,238.5 461.6,227.5 464.1,239.5 466.3,238.5 468.3,233.0 470.8,238.9 472.9,239.1 475.1,240.9 477.4,233.7 479.5,239.5 481.8,239.0 484.0,235.6 486.0,234.8 488.4,237.2 490.6,236.8 492.8,237.2 495.0,241.1 497.0,236.7 499.4,241.2 501.6,235.6 503.6,234.8 505.9,240.7 508.1,230.0 510.5,237.2 512.7,229.8 514.7,240.9 517.0,233.9 519.2,238.4 521.4,235.0 523.6,241.1 525.7,240.7 528.0,238.6 530.2,238.5 532.5,237.4 534.7,237.2 537.1,237.6 539.0,239.3 541.4,241.0 543.4,236.1 545.7,240.6 548.0,236.2 550.1,236.8 552.4,238.2 554.6,236.5 556.7,238.5 558.8,239.1 561.2,236.1 563.3,238.7 565.7,235.3 567.9,235.6 570.2,234.6 572.3,242.8 574.4,233.2 576.5,233.5 579.0,235.6 581.1,239.4 583.3,236.0 585.5,237.4 587.8,239.7 590.1,236.6 592.0,237.3 594.3,233.0 596.5,235.7 598.9,234.8 601.1,243.5 603.5,197.1 606.8,168.5 609.7,112.8 611.6,137.7 615.0,126.9 617.4,144.2 620.3,182.0 625.1,191.7 627.5,185.2 630.9,174.9 635.2,183.0 637.6,216.5 640.0,228.4 642.0,237.7 644.0,232.3 646.4,235.7 648.4,236.4 650.8,230.8 652.9,235.7 655.1,237.2 657.5,237.8 659.6,233.1 661.9,240.7 663.8,235.2 666.1,240.9 668.4,243.0 670.7,185.2 672.2,146.3 673.6,153.9 675.5,183.0 677.9,187.4 680.3,185.2 682.7,190.6 685.1,188.4 687.5,192.8 689.9,191.7 692.3,196.0 694.7,193.8 697.1,197.1 698.6,201.4 700.0,221.9 701.9,232.2 704.1,234.9 706.2,237.2 708.7,232.6 710.8,234.8 712.9,234.6 715.3,237.1 717.5,229.5 719.6,231.1 721.7,235.8 724.0,241.7 726.2,238.9 728.3,234.6 730.8,239.6 732.8,233.2 735.1,238.1 737.2,242.2 739.4,228.8 741.6,234.7 743.9,238.2 746.2,234.9 748.2,231.5 750.4,243.6 752.9,235.6 754.9,242.5 757.0,238.0 759.4,244.3 761.5,233.1 763.9,242.4 766.0,238.1 768.4,235.2 770.5,236.6 772.5,237.8 774.8,236.1 777.0,231.8 779.1,231.5 781.4,237.3 783.7,236.7 785.8,229.2 788.0,235.0 790.5,237.5 792.5,236.6 794.8,236.7 796.8,242.9 799.3,234.0 801.4,240.9" stroke="#000" stroke-width="1.1" fill="none" stroke-linejoin="round"/>
<path d="M152.4 259.0V265.8M155.1 259.6V267.7M158.8 261.1V267.2M161.8 261.4V269.6M164.2 261.8V270.4M167.3 259.8V268.3M170.3 254.6V262.8M173.1 254.4V262.4M176.1 261.3V267.2M179.5 265.6V272.5M182.3 260.3V269.2M185.3 257.2V263.3M187.9 265.8V272.6M190.9 272.6V279.0M194.2 266.6V273.9M198.6 243.4V250.0M202.3 238.9V247.9M206.8 238.3V248.8M212.0 247.1V255.1M215.2 248.8V255.7M220.7 244.6V254.6M224.7 245.6V252.4M228.9 249.9V258.0M232.5 251.6V259.3M237.8 240.1V245.9M242.4 232.3V242.2M245.8 232.7V240.9M250.4 237.5V244.5M255.3 236.8V244.0M259.2 236.4V244.4M263.3 238.9V246.5M267.9 239.3V245.9M271.4 237.7V246.4M276.4 237.8V246.3M280.1 238.5V245.7M284.8 233.8V240.3M289.9 235.1V245.3M294.0 235.3V245.1M298.1 235.6V244.2M302.1 235.9V243.6M306.1 238.4V247.3M311.3 234.2V240.1M315.8 236.3V245.2M319.3 236.4V244.0M324.5 233.5V241.1M327.8 231.0V239.9M332.5 231.1V239.3M336.7 229.3V239.0M341.0 230.1V238.0M345.7 231.7V239.2M349.2 233.3V239.9M353.6 245.4V251.3M358.9 234.7V242.1M362.7 231.2V238.1M367.5 234.0V243.7M371.4 235.9V242.8M376.1 229.3V238.3M379.8 233.0V239.9M385.0 235.7V242.3M388.2 230.2V236.4M392.8 231.8V240.8M397.5 233.1V239.1M401.2 234.4V241.9M405.8 232.5V238.0M410.3 231.0V239.0M414.8 232.9V239.9M419.6 234.8V245.3M423.4 245.3V251.6M427.3 242.3V249.6M432.2 240.8V249.7M436.7 238.5V246.1M440.4 234.8V244.0M445.1 231.4V238.4M449.4 228.4V233.7M453.8 226.4V234.9M457.9 230.5V238.3M462.7 231.0V239.2M466.0 227.0V232.9M470.9 232.7V238.9M475.1 228.3V236.1M479.5 231.6V239.4M483.7 231.6V239.9M488.7 238.1V243.8M492.2 234.3V241.2M496.2 241.9V248.5M501.7 231.7V238.9M505.3 228.6V236.7M510.5 233.0V240.2M514.8 231.8V237.8M518.0 236.6V244.2M523.0 233.5V241.9M526.5 236.5V243.4M530.8 232.7V239.8M535.2 234.7V242.1M540.4 235.0V243.0M545.0 228.3V235.4M548.7 230.8V239.3M553.3 234.9V240.0M557.1 233.6V241.6M561.4 231.0V238.2M566.5 235.9V244.5M570.9 236.1V244.7M575.0 230.6V237.6M578.7 239.6V247.3M583.7 241.0V248.3M587.7 239.1V245.2M591.9 240.5V249.6M596.4 235.1V242.7M601.8 232.2V239.7M604.9 260.8V265.7M608.3 179.8V264.0M613.1 285.6V290.5M615.8 277.2V286.7M619.0 270.7V279.3M622.1 271.4V280.4M625.0 279.2V284.2M627.8 278.0V286.1M630.7 275.2V284.9M634.2 276.7V285.5M636.5 277.7V286.1M639.9 249.5V257.0M642.6 249.1V257.3M645.7 249.7V256.7M648.9 251.7V258.0M651.5 250.0V260.0M654.8 257.8V264.4M657.3 251.1V259.3M660.3 251.1V259.5M663.1 250.3V258.7M666.6 250.1V255.6M669.0 251.5V262.1M672.2 212.2V263.0M674.1 290.5V298.1M676.8 275.9V284.7M679.3 277.2V284.2M682.3 276.2V286.0M685.6 271.9V278.6M688.8 275.9V283.8M691.4 275.1V284.3M694.1 276.4V283.8M697.2 277.9V284.2M700.7 281.3V288.1M702.9 283.8V294.1M706.7 282.1V291.6M708.9 280.4V288.5M712.1 279.4V285.3M715.2 277.5V284.2M718.4 276.4V283.3M721.3 275.4V282.8M725.7 260.8V267.2M729.4 260.2V267.5M731.8 259.8V266.2M735.1 258.9V266.1M738.0 260.1V265.9M740.7 259.1V266.1M744.0 258.8V265.4M747.2 256.7V264.1M750.1 259.0V266.0M753.1 252.9V259.1M756.0 252.6V259.3M758.9 251.3V258.9M761.7 251.4V259.3M764.3 250.1V259.0M767.5 254.2V259.8M770.9 250.0V257.0M773.7 248.8V258.2M776.4 250.0V257.0M779.7 247.2V257.6M782.9 250.1V257.1M785.4 250.4V257.3M788.4 250.6V259.4M791.9 252.7V259.7M794.0 253.0V261.8M797.3 252.2V261.1M800.7 251.2V259.4" stroke="#f00" stroke-width="1.15" fill="none"/>
<path d="M146.6 259.0h11.5M146.6 265.8h11.5M149.3 259.6h11.5M149.3 267.7h11.5M153.1 261.1h11.5M153.1 267.2h11.5M156.0 261.4h11.5M156.0 269.6h11.5M158.5 261.8h11.5M158.5 270.4h11.5M161.5 259.8h11.5M161.5 268.3h11.5M164.6 254.6h11.5M164.6 262.8h11.5M167.3 254.4h11.5M167.3 262.4h11.5M170.3 261.3h11.5M170.3 267.2h11.5M173.7 265.6h11.5M173.7 272.5h11.5M176.5 260.3h11.5M176.5 269.2h11.5M179.5 257.2h11.5M179.5 263.3h11.5M182.1 265.8h11.5M182.1 272.6h11.5M185.2 272.6h11.5M185.2 279.0h11.5M188.5 266.6h11.5M188.5 273.9h11.5M192.9 243.4h11.5M192.9 250.0h11.5M196.6 238.9h11.5M196.6 247.9h11.5M201.0 238.3h11.5M201.0 248.8h11.5M206.3 247.1h11.5M206.3 255.1h11.5M209.5 248.8h11.5M209.5 255.7h11.5M214.9 244.6h11.5M214.9 254.6h11.5M219.0 245.6h11.5M219.0 252.4h11.5M223.2 249.9h11.5M223.2 258.0h11.5M226.7 251.6h11.5M226.7 259.3h11.5M232.1 240.1h11.5M232.1 245.9h11.5M236.6 232.3h11.5M236.6 242.2h11.5M240.1 232.7h11.5M240.1 240.9h11.5M244.7 237.5h11.5M244.7 244.5h11.5M249.6 236.8h11.5M249.6 244.0h11.5M253.4 236.4h11.5M253.4 244.4h11.5M257.6 238.9h11.5M257.6 246.5h11.5M262.1 239.3h11.5M262.1 245.9h11.5M265.7 237.7h11.5M265.7 246.4h11.5M270.7 237.8h11.5M270.7 246.3h11.5M274.4 238.5h11.5M274.4 245.7h11.5M279.1 233.8h11.5M279.1 240.3h11.5M284.2 235.1h11.5M284.2 245.3h11.5M288.3 235.3h11.5M288.3 245.1h11.5M292.4 235.6h11.5M292.4 244.2h11.5M296.4 235.9h11.5M296.4 243.6h11.5M300.3 238.4h11.5M300.3 247.3h11.5M305.6 234.2h11.5M305.6 240.1h11.5M310.0 236.3h11.5M310.0 245.2h11.5M313.6 236.4h11.5M313.6 244.0h11.5M318.7 233.5h11.5M318.7 241.1h11.5M322.0 231.0h11.5M322.0 239.9h11.5M326.7 231.1h11.5M326.7 239.3h11.5M331.0 229.3h11.5M331.0 239.0h11.5M335.2 230.1h11.5M335.2 238.0h11.5M340.0 231.7h11.5M340.0 239.2h11.5M343.5 233.3h11.5M343.5 239.9h11.5M347.9 245.4h11.5M347.9 251.3h11.5M353.1 234.7h11.5M353.1 242.1h11.5M357.0 231.2h11.5M357.0 238.1h11.5M361.7 234.0h11.5M361.7 243.7h11.5M365.6 235.9h11.5M365.6 242.8h11.5M370.3 229.3h11.5M370.3 238.3h11.5M374.1 233.0h11.5M374.1 239.9h11.5M379.2 235.7h11.5M379.2 242.3h11.5M382.5 230.2h11.5M382.5 236.4h11.5M387.1 231.8h11.5M387.1 240.8h11.5M391.7 233.1h11.5M391.7 239.1h11.5M395.5 234.4h11.5M395.5 241.9h11.5M400.0 232.5h11.5M400.0 238.0h11.5M404.6 231.0h11.5M404.6 239.0h11.5M409.0 232.9h11.5M409.0 239.9h11.5M413.9 234.8h11.5M413.9 245.3h11.5M417.7 245.3h11.5M417.7 251.6h11.5M421.5 242.3h11.5M421.5 249.6h11.5M426.4 240.8h11.5M426.4 249.7h11.5M431.0 238.5h11.5M431.0 246.1h11.5M434.6 234.8h11.5M434.6 244.0h11.5M439.3 231.4h11.5M439.3 238.4h11.5M443.6 228.4h11.5M443.6 233.7h11.5M448.0 226.4h11.5M448.0 234.9h11.5M452.2 230.5h11.5M452.2 238.3h11.5M457.0 231.0h11.5M457.0 239.2h11.5M460.3 227.0h11.5M460.3 232.9h11.5M465.1 232.7h11.5M465.1 238.9h11.5M469.4 228.3h11.5M469.4 236.1h11.5M473.8 231.6h11.5M473.8 239.4h11.5M478.0 231.6h11.5M478.0 239.9h11.5M483.0 238.1h11.5M483.0 243.8h11.5M486.5 234.3h11.5M486.5 241.2h11.5M490.4 241.9h11.5M490.4 248.5h11.5M496.0 231.7h11.5M496.0 238.9h11.5M499.6 228.6h11.5M499.6 236.7h11.5M504.7 233.0h11.5M504.7 240.2h11.5M509.0 231.8h11.5M509.0 237.8h11.5M512.3 236.6h11.5M512.3 244.2h11.5M517.2 233.5h11.5M517.2 241.9h11.5M520.8 236.5h11.5M520.8 243.4h11.5M525.1 232.7h11.5M525.1 239.8h11.5M529.4 234.7h11.5M529.4 242.1h11.5M534.6 235.0h11.5M534.6 243.0h11.5M539.3 228.3h11.5M539.3 235.4h11.5M543.0 230.8h11.5M543.0 239.3h11.5M547.6 234.9h11.5M547.6 240.0h11.5M551.3 233.6h11.5M551.3 241.6h11.5M555.7 231.0h11.5M555.7 238.2h11.5M560.8 235.9h11.5M560.8 244.5h11.5M565.2 236.1h11.5M565.2 244.7h11.5M569.3 230.6h11.5M569.3 237.6h11.5M572.9 239.6h11.5M572.9 247.3h11.5M578.0 241.0h11.5M578.0 248.3h11.5M582.0 239.1h11.5M582.0 245.2h11.5M586.2 240.5h11.5M586.2 249.6h11.5M590.7 235.1h11.5M590.7 242.7h11.5M596.0 232.2h11.5M596.0 239.7h11.5M599.2 260.8h11.5M599.2 265.7h11.5M602.5 179.8h11.5M602.5 264.0h11.5M607.3 285.6h11.5M607.3 290.5h11.5M610.0 277.2h11.5M610.0 286.7h11.5M613.2 270.7h11.5M613.2 279.3h11.5M616.3 271.4h11.5M616.3 280.4h11.5M619.2 279.2h11.5M619.2 284.2h11.5M622.0 278.0h11.5M622.0 286.1h11.5M625.0 275.2h11.5M625.0 284.9h11.5M628.4 276.7h11.5M628.4 285.5h11.5M630.7 277.7h11.5M630.7 286.1h11.5M634.2 249.5h11.5M634.2 257.0h11.5M636.8 249.1h11.5M636.8 257.3h11.5M639.9 249.7h11.5M639.9 256.7h11.5M643.1 251.7h11.5M643.1 258.0h11.5M645.8 250.0h11.5M645.8 260.0h11.5M649.0 257.8h11.5M649.0 264.4h11.5M651.6 251.1h11.5M651.6 259.3h11.5M654.6 251.1h11.5M654.6 259.5h11.5M657.3 250.3h11.5M657.3 258.7h11.5M660.8 250.1h11.5M660.8 255.6h11.5M663.3 251.5h11.5M663.3 262.1h11.5M666.4 212.2h11.5M666.4 263.0h11.5M668.3 290.5h11.5M668.3 298.1h11.5M671.0 275.9h11.5M671.0 284.7h11.5M673.6 277.2h11.5M673.6 284.2h11.5M676.6 276.2h11.5M676.6 286.0h11.5M679.8 271.9h11.5M679.8 278.6h11.5M683.1 275.9h11.5M683.1 283.8h11.5M685.6 275.1h11.5M685.6 284.3h11.5M688.3 276.4h11.5M688.3 283.8h11.5M691.4 277.9h11.5M691.4 284.2h11.5M695.0 281.3h11.5M695.0 288.1h11.5M697.2 283.8h11.5M697.2 294.1h11.5M700.9 282.1h11.5M700.9 291.6h11.5M703.2 280.4h11.5M703.2 288.5h11.5M706.3 279.4h11.5M706.3 285.3h11.5M709.4 277.5h11.5M709.4 284.2h11.5M712.7 276.4h11.5M712.7 283.3h11.5M715.6 275.4h11.5M715.6 282.8h11.5M720.0 260.8h11.5M720.0 267.2h11.5M723.6 260.2h11.5M723.6 267.5h11.5M726.1 259.8h11.5M726.1 266.2h11.5M729.4 258.9h11.5M729.4 266.1h11.5M732.3 260.1h11.5M732.3 265.9h11.5M734.9 259.1h11.5M734.9 266.1h11.5M738.3 258.8h11.5M738.3 265.4h11.5M741.4 256.7h11.5M741.4 264.1h11.5M744.4 259.0h11.5M744.4 266.0h11.5M747.3 252.9h11.5M747.3 259.1h11.5M750.3 252.6h11.5M750.3 259.3h11.5M753.1 251.3h11.5M753.1 258.9h11.5M755.9 251.4h11.5M755.9 259.3h11.5M758.5 250.1h11.5M758.5 259.0h11.5M761.8 254.2h11.5M761.8 259.8h11.5M765.2 250.0h11.5M765.2 257.0h11.5M767.9 248.8h11.5M767.9 258.2h11.5M770.7 250.0h11.5M770.7 257.0h11.5M774.0 247.2h11.5M774.0 257.6h11.5M777.1 250.1h11.5M777.1 257.1h11.5M779.6 250.4h11.5M779.6 257.3h11.5M782.7 250.6h11.5M782.7 259.4h11.5M786.2 252.7h11.5M786.2 259.7h11.5M788.3 253.0h11.5M788.3 261.8h11.5M791.5 252.2h11.5M791.5 261.1h11.5M795.0 251.2h11.5M795.0 259.4h11.5" stroke="#f00" stroke-width="1.55" fill="none"/>
<polyline points="152.4,262.4 155.1,263.7 158.8,264.2 161.8,265.5 164.2,266.1 167.3,264.1 170.3,258.7 173.1,258.4 176.1,264.2 179.5,271.9 182.3,264.8 185.3,257.8 187.9,269.2 190.9,278.5 194.2,273.3 198.6,246.7 202.3,243.4 206.8,243.5 212.0,254.4 215.2,255.1 220.7,249.6 224.7,249.0 228.9,254.0 232.5,255.5 237.8,245.4 242.4,237.2 245.8,233.4 250.4,241.0 255.3,240.4 259.2,240.4 263.3,242.7 267.9,242.6 271.4,242.1 276.4,242.1 280.1,242.1 284.8,234.4 289.9,240.2 294.0,240.2 298.1,239.9 302.1,239.8 306.1,242.9 311.3,234.7 315.8,240.7 319.3,240.2 324.5,237.3 327.8,235.4 332.5,235.2 336.7,234.2 341.0,234.0 345.7,235.4 349.2,233.9 353.6,250.8 358.9,238.4 362.7,231.8 367.5,238.9 371.4,239.3 376.1,233.8 379.8,236.5 385.0,239.0 388.2,230.8 392.8,236.3 397.5,236.1 401.2,238.2 405.8,235.2 410.3,235.0 414.8,236.4 419.6,240.0 423.4,251.1 427.3,246.0 432.2,245.2 436.7,242.3 440.4,239.4 445.1,234.9 449.4,231.0 453.8,230.6 457.9,234.4 462.7,235.1 466.0,227.5 470.9,235.8 475.1,229.0 479.5,235.5 483.7,235.8 488.7,243.3 492.2,237.8 496.2,248.0 501.7,235.3 505.3,229.3 510.5,236.6 514.8,232.3 518.0,240.4 523.0,237.7 526.5,240.0 530.8,233.3 535.2,238.4 540.4,242.3 545.0,228.9 548.7,235.0 553.3,237.4 557.1,237.6 561.4,234.6 566.5,240.2 570.9,240.4 575.0,234.1 578.7,246.6 583.7,247.7 587.7,242.1 591.9,245.0 596.4,238.9 601.8,236.0 604.9,265.1 608.3,179.8 613.1,290.0 615.8,281.9 619.0,275.0 622.1,275.9 625.0,281.7 627.8,282.0 630.7,280.0 634.2,281.1 636.5,281.9 639.9,253.2 642.6,253.2 645.7,253.2 648.9,254.8 651.5,255.0 654.8,263.8 657.3,255.2 660.3,255.3 663.1,254.5 666.6,252.9 669.0,256.8 672.2,212.2 674.1,294.3 676.8,280.3 679.3,280.7 682.3,281.1 685.6,272.4 688.8,279.9 691.4,279.7 694.1,280.1 697.2,281.1 700.7,284.7 702.9,289.0 706.7,286.8 708.9,284.4 712.1,282.3 715.2,280.8 718.4,279.9 721.3,279.1 725.7,264.0 729.4,263.9 731.8,263.0 735.1,262.5 738.0,263.0 740.7,262.6 744.0,262.1 747.2,260.4 750.1,265.4 753.1,256.0 756.0,256.0 758.9,255.1 761.7,255.3 764.3,254.5 767.5,259.3 770.9,253.5 773.7,253.5 776.4,253.5 779.7,252.4 782.9,253.6 785.4,253.8 788.4,255.0 791.9,256.2 794.0,257.4 797.3,256.6 800.7,255.3" stroke="#f00" stroke-width="1.1" fill="none" stroke-linejoin="round"/>
<path d="M151.6 595.4V600.8M155.1 550.2V556.3M156.7 562.5V568.6M158.7 569.8V575.9M160.6 562.5V568.6M162.5 571.0V577.2M164.4 586.4V592.5M166.4 591.9V598.0M168.3 593.1V599.2M170.2 589.4V595.5M172.1 587.0V593.1M174.0 590.6V596.8M176.0 552.7V558.8M177.9 542.3V548.4M179.8 546.6V552.7M181.2 531.2V541.0M183.2 544.1V550.2M185.1 551.5V557.6M186.5 585.7V591.9M188.3 590.1V594.8M191.3 586.4V593.7M194.2 591.8V598.2M197.1 593.5V601.0M200.1 587.4V595.6M203.0 588.1V597.6M205.9 590.5V598.0M208.5 592.8V599.3M211.4 596.8V602.9M214.2 592.7V596.5M217.4 590.0V596.5M220.3 588.6V593.2M222.9 585.9V591.2M225.9 586.3V592.1M228.8 587.4V595.4M231.8 591.8V596.6M234.4 591.3V596.4M237.3 590.1V596.7M240.3 589.6V596.2M240.8 572.3V577.2M243.1 587.2V592.6M245.9 591.7V596.7M248.7 585.2V590.4M251.9 583.8V589.4M254.9 591.1V596.2M257.6 580.1V585.8M260.6 589.6V595.7M263.5 585.9V595.3M266.3 583.5V590.3M269.1 594.0V600.2M271.9 591.7V594.9M274.8 590.9V596.6M277.9 589.8V596.7M280.5 592.2V599.0M283.7 591.0V596.5M286.6 588.6V596.7M289.4 583.5V591.1M292.3 587.7V591.9M295.1 593.9V599.7M297.8 591.0V597.5M300.7 588.8V593.1M303.6 591.8V596.4M306.5 593.0V599.3M309.6 588.5V593.4M312.3 592.5V599.5M315.1 586.0V591.7M318.0 588.0V595.9M320.9 586.2V592.8M324.0 585.6V591.9M326.6 589.1V595.6M329.9 590.0V597.5M332.4 587.1V594.0M335.2 597.0V603.2M338.2 591.9V598.4M340.2 575.9V580.8M341.2 587.6V592.9M344.2 595.1V602.4M347.1 587.5V592.5M350.0 582.7V587.9M352.9 591.5V596.4M355.4 584.6V590.0M358.4 585.3V593.3M361.6 587.0V592.1M364.0 596.1V600.4M367.0 591.1V600.8M369.8 591.9V599.5M372.7 589.5V594.0M375.6 585.8V591.4M378.8 586.4V592.9M381.4 591.6V596.9M384.6 588.4V596.4M387.4 594.4V601.4M390.1 587.0V594.9M393.1 591.9V599.6M396.1 595.9V603.8M399.0 591.6V595.9M401.8 593.7V599.6M404.6 596.8V604.3M407.5 592.8V600.2M410.2 593.6V602.7M413.2 588.9V595.5M416.2 590.7V598.5M419.2 586.6V591.9M422.0 583.2V590.0M424.7 581.9V588.8M427.7 588.1V592.7M430.8 586.0V591.5M433.6 589.0V595.4M436.5 589.1V592.5M439.3 591.0V597.0M442.2 593.1V600.4M444.9 592.6V596.9M447.8 588.8V593.8M453.1 564.3V569.2M455.0 547.2V552.1M457.0 561.9V566.8M458.4 571.7V576.6M460.1 583.7V591.6M463.0 589.9V594.7M466.1 586.3V594.3M469.1 583.6V591.2M471.8 586.3V593.3M473.3 577.8V582.7M474.6 586.9V594.7M477.4 582.7V588.9M480.7 589.0V595.0M483.2 590.6V595.1M486.5 588.2V597.7M489.1 586.3V591.2M492.2 585.1V594.1M495.1 586.4V593.2M497.8 588.9V594.9M500.7 586.3V593.4M503.5 592.1V600.6M506.3 584.2V592.7M509.2 586.1V592.1M512.4 588.9V595.2M515.2 588.1V594.3M515.6 568.6V573.5M518.1 587.8V592.9M521.0 588.7V594.3M523.9 588.6V597.9M526.6 586.4V592.7M529.6 586.7V592.9M532.5 585.5V593.9M535.3 581.0V586.1M538.0 589.5V598.5M540.9 587.0V594.7M543.9 591.5V597.3M547.0 587.1V593.3M549.9 590.0V595.8M552.5 584.6V593.2M555.4 579.6V584.5M555.5 588.2V593.9M558.2 590.8V596.9M561.1 585.1V591.6M564.3 586.5V592.5M567.0 585.4V592.2M568.9 578.4V583.3M569.8 583.5V591.7M572.6 589.3V597.9M575.6 591.2V595.9M578.5 590.8V594.8M581.4 593.2V597.8M581.9 578.4V583.3M584.1 590.5V596.8M587.3 585.9V591.8M590.0 590.1V599.0M592.9 592.6V598.9M595.9 586.1V595.2M598.6 591.2V597.4M601.5 588.5V595.1M604.3 590.9V594.2M607.2 590.5V595.0M610.1 591.0V597.8M612.9 592.5V600.0M616.0 592.8V597.2M618.7 589.2V593.2M621.5 588.1V593.9M624.4 593.1V601.4M627.6 590.9V594.7M630.2 586.0V594.8M631.8 576.6V581.5M633.3 586.5V592.0M635.7 576.6V581.5M636.3 589.6V596.6M639.1 585.5V593.8M642.0 593.7V600.6M644.8 596.5V604.0M647.7 588.8V598.3M650.5 591.0V597.5M653.5 590.5V597.4M656.5 588.1V596.9M659.3 584.3V591.4M659.7 581.5V586.4M662.0 582.1V588.4M664.8 589.9V595.9M668.0 586.8V594.0M670.8 587.9V594.2M673.6 588.6V593.2M676.5 590.5V597.0M679.4 587.4V592.3M682.4 579.3V583.7M685.2 583.0V588.8M686.1 576.6V581.5M688.1 580.1V589.0M690.9 585.2V593.1M693.6 578.8V584.4M696.8 588.0V597.4M699.5 593.0V599.2M702.5 579.4V585.3M705.4 583.7V592.4M708.1 584.4V591.5M711.1 589.5V595.9M713.9 595.4V600.5M716.9 596.6V604.7M717.3 583.9V588.8M719.9 593.8V599.0M722.8 590.7V598.1M725.5 589.8V595.3M728.2 597.3V604.8M731.4 593.1V601.1M734.1 601.9V608.3M737.0 586.7V596.7M738.9 576.6V581.5M739.7 590.8V596.8M743.0 586.2V594.5M745.6 583.5V588.5M748.4 582.4V589.8M751.5 588.3V594.0M754.3 582.7V587.2M757.4 583.2V590.3M760.0 580.1V587.2M763.0 582.4V591.4M765.7 581.5V587.5M768.5 590.3V593.9M771.4 587.6V594.7M773.0 575.9V580.8M774.7 580.6V587.4M777.5 588.9V594.1M779.8 582.7V587.6M780.2 588.1V594.5M783.1 591.6V597.6M786.2 585.1V594.3M788.9 589.6V593.6M791.7 592.9V600.3M794.5 588.3V593.8M797.3 584.1V589.5M800.4 590.7V598.4" stroke="#000" stroke-width="1.15" fill="none"/>
<path d="M145.8 595.4h11.5M145.8 600.8h11.5M149.3 550.2h11.5M149.3 556.3h11.5M151.0 562.5h11.5M151.0 568.6h11.5M152.9 569.8h11.5M152.9 575.9h11.5M154.8 562.5h11.5M154.8 568.6h11.5M156.8 571.0h11.5M156.8 577.2h11.5M158.7 586.4h11.5M158.7 592.5h11.5M160.6 591.9h11.5M160.6 598.0h11.5M162.5 593.1h11.5M162.5 599.2h11.5M164.4 589.4h11.5M164.4 595.5h11.5M166.4 587.0h11.5M166.4 593.1h11.5M168.3 590.6h11.5M168.3 596.8h11.5M170.2 552.7h11.5M170.2 558.8h11.5M172.1 542.3h11.5M172.1 548.4h11.5M174.1 546.6h11.5M174.1 552.7h11.5M175.5 531.2h11.5M175.5 541.0h11.5M177.4 544.1h11.5M177.4 550.2h11.5M179.3 551.5h11.5M179.3 557.6h11.5M180.8 585.7h11.5M180.8 591.9h11.5M182.6 590.1h11.5M182.6 594.8h11.5M185.5 586.4h11.5M185.5 593.7h11.5M188.4 591.8h11.5M188.4 598.2h11.5M191.4 593.5h11.5M191.4 601.0h11.5M194.4 587.4h11.5M194.4 595.6h11.5M197.2 588.1h11.5M197.2 597.6h11.5M200.1 590.5h11.5M200.1 598.0h11.5M202.7 592.8h11.5M202.7 599.3h11.5M205.6 596.8h11.5M205.6 602.9h11.5M208.4 592.7h11.5M208.4 596.5h11.5M211.6 590.0h11.5M211.6 596.5h11.5M214.6 588.6h11.5M214.6 593.2h11.5M217.2 585.9h11.5M217.2 591.2h11.5M220.2 586.3h11.5M220.2 592.1h11.5M223.1 587.4h11.5M223.1 595.4h11.5M226.0 591.8h11.5M226.0 596.6h11.5M228.6 591.3h11.5M228.6 596.4h11.5M231.6 590.1h11.5M231.6 596.7h11.5M234.6 589.6h11.5M234.6 596.2h11.5M235.1 572.3h11.5M235.1 577.2h11.5M237.4 587.2h11.5M237.4 592.6h11.5M240.1 591.7h11.5M240.1 596.7h11.5M243.0 585.2h11.5M243.0 590.4h11.5M246.1 583.8h11.5M246.1 589.4h11.5M249.2 591.1h11.5M249.2 596.2h11.5M251.8 580.1h11.5M251.8 585.8h11.5M254.8 589.6h11.5M254.8 595.7h11.5M257.7 585.9h11.5M257.7 595.3h11.5M260.5 583.5h11.5M260.5 590.3h11.5M263.4 594.0h11.5M263.4 600.2h11.5M266.2 591.7h11.5M266.2 594.9h11.5M269.0 590.9h11.5M269.0 596.6h11.5M272.1 589.8h11.5M272.1 596.7h11.5M274.8 592.2h11.5M274.8 599.0h11.5M278.0 591.0h11.5M278.0 596.5h11.5M280.8 588.6h11.5M280.8 596.7h11.5M283.6 583.5h11.5M283.6 591.1h11.5M286.6 587.7h11.5M286.6 591.9h11.5M289.3 593.9h11.5M289.3 599.7h11.5M292.1 591.0h11.5M292.1 597.5h11.5M295.0 588.8h11.5M295.0 593.1h11.5M297.8 591.8h11.5M297.8 596.4h11.5M300.7 593.0h11.5M300.7 599.3h11.5M303.8 588.5h11.5M303.8 593.4h11.5M306.6 592.5h11.5M306.6 599.5h11.5M309.4 586.0h11.5M309.4 591.7h11.5M312.3 588.0h11.5M312.3 595.9h11.5M315.2 586.2h11.5M315.2 592.8h11.5M318.2 585.6h11.5M318.2 591.9h11.5M320.9 589.1h11.5M320.9 595.6h11.5M324.1 590.0h11.5M324.1 597.5h11.5M326.7 587.1h11.5M326.7 594.0h11.5M329.5 597.0h11.5M329.5 603.2h11.5M332.5 591.9h11.5M332.5 598.4h11.5M334.5 575.9h11.5M334.5 580.8h11.5M335.5 587.6h11.5M335.5 592.9h11.5M338.4 595.1h11.5M338.4 602.4h11.5M341.4 587.5h11.5M341.4 592.5h11.5M344.3 582.7h11.5M344.3 587.9h11.5M347.2 591.5h11.5M347.2 596.4h11.5M349.7 584.6h11.5M349.7 590.0h11.5M352.6 585.3h11.5M352.6 593.3h11.5M355.8 587.0h11.5M355.8 592.1h11.5M358.3 596.1h11.5M358.3 600.4h11.5M361.3 591.1h11.5M361.3 600.8h11.5M364.0 591.9h11.5M364.0 599.5h11.5M367.0 589.5h11.5M367.0 594.0h11.5M369.9 585.8h11.5M369.9 591.4h11.5M373.0 586.4h11.5M373.0 592.9h11.5M375.7 591.6h11.5M375.7 596.9h11.5M378.9 588.4h11.5M378.9 596.4h11.5M381.7 594.4h11.5M381.7 601.4h11.5M384.4 587.0h11.5M384.4 594.9h11.5M387.4 591.9h11.5M387.4 599.6h11.5M390.4 595.9h11.5M390.4 603.8h11.5M393.2 591.6h11.5M393.2 595.9h11.5M396.1 593.7h11.5M396.1 599.6h11.5M398.9 596.8h11.5M398.9 604.3h11.5M401.7 592.8h11.5M401.7 600.2h11.5M404.4 593.6h11.5M404.4 602.7h11.5M407.4 588.9h11.5M407.4 595.5h11.5M410.5 590.7h11.5M410.5 598.5h11.5M413.4 586.6h11.5M413.4 591.9h11.5M416.3 583.2h11.5M416.3 590.0h11.5M419.0 581.9h11.5M419.0 588.8h11.5M422.0 588.1h11.5M422.0 592.7h11.5M425.0 586.0h11.5M425.0 591.5h11.5M427.9 589.0h11.5M427.9 595.4h11.5M430.7 589.1h11.5M430.7 592.5h11.5M433.6 591.0h11.5M433.6 597.0h11.5M436.5 593.1h11.5M436.5 600.4h11.5M439.1 592.6h11.5M439.1 596.9h11.5M442.0 588.8h11.5M442.0 593.8h11.5M447.4 564.3h11.5M447.4 569.2h11.5M449.3 547.2h11.5M449.3 552.1h11.5M451.2 561.9h11.5M451.2 566.8h11.5M452.7 571.7h11.5M452.7 576.6h11.5M454.4 583.7h11.5M454.4 591.6h11.5M457.3 589.9h11.5M457.3 594.7h11.5M460.4 586.3h11.5M460.4 594.3h11.5M463.3 583.6h11.5M463.3 591.2h11.5M466.1 586.3h11.5M466.1 593.3h11.5M467.6 577.8h11.5M467.6 582.7h11.5M468.9 586.9h11.5M468.9 594.7h11.5M471.7 582.7h11.5M471.7 588.9h11.5M474.9 589.0h11.5M474.9 595.0h11.5M477.4 590.6h11.5M477.4 595.1h11.5M480.7 588.2h11.5M480.7 597.7h11.5M483.4 586.3h11.5M483.4 591.2h11.5M486.5 585.1h11.5M486.5 594.1h11.5M489.4 586.4h11.5M489.4 593.2h11.5M492.0 588.9h11.5M492.0 594.9h11.5M494.9 586.3h11.5M494.9 593.4h11.5M497.7 592.1h11.5M497.7 600.6h11.5M500.6 584.2h11.5M500.6 592.7h11.5M503.5 586.1h11.5M503.5 592.1h11.5M506.6 588.9h11.5M506.6 595.2h11.5M509.5 588.1h11.5M509.5 594.3h11.5M509.8 568.6h11.5M509.8 573.5h11.5M512.4 587.8h11.5M512.4 592.9h11.5M515.3 588.7h11.5M515.3 594.3h11.5M518.1 588.6h11.5M518.1 597.9h11.5M520.9 586.4h11.5M520.9 592.7h11.5M523.9 586.7h11.5M523.9 592.9h11.5M526.8 585.5h11.5M526.8 593.9h11.5M529.5 581.0h11.5M529.5 586.1h11.5M532.2 589.5h11.5M532.2 598.5h11.5M535.1 587.0h11.5M535.1 594.7h11.5M538.1 591.5h11.5M538.1 597.3h11.5M541.3 587.1h11.5M541.3 593.3h11.5M544.1 590.0h11.5M544.1 595.8h11.5M546.7 584.6h11.5M546.7 593.2h11.5M549.7 579.6h11.5M549.7 584.5h11.5M549.7 588.2h11.5M549.7 593.9h11.5M552.5 590.8h11.5M552.5 596.9h11.5M555.3 585.1h11.5M555.3 591.6h11.5M558.5 586.5h11.5M558.5 592.5h11.5M561.3 585.4h11.5M561.3 592.2h11.5M563.1 578.4h11.5M563.1 583.3h11.5M564.0 583.5h11.5M564.0 591.7h11.5M566.8 589.3h11.5M566.8 597.9h11.5M569.9 591.2h11.5M569.9 595.9h11.5M572.8 590.8h11.5M572.8 594.8h11.5M575.7 593.2h11.5M575.7 597.8h11.5M576.1 578.4h11.5M576.1 583.3h11.5M578.4 590.5h11.5M578.4 596.8h11.5M581.5 585.9h11.5M581.5 591.8h11.5M584.2 590.1h11.5M584.2 599.0h11.5M587.2 592.6h11.5M587.2 598.9h11.5M590.1 586.1h11.5M590.1 595.2h11.5M592.9 591.2h11.5M592.9 597.4h11.5M595.8 588.5h11.5M595.8 595.1h11.5M598.5 590.9h11.5M598.5 594.2h11.5M601.5 590.5h11.5M601.5 595.0h11.5M604.3 591.0h11.5M604.3 597.8h11.5M607.1 592.5h11.5M607.1 600.0h11.5M610.2 592.8h11.5M610.2 597.2h11.5M613.0 589.2h11.5M613.0 593.2h11.5M615.8 588.1h11.5M615.8 593.9h11.5M618.6 593.1h11.5M618.6 601.4h11.5M621.8 590.9h11.5M621.8 594.7h11.5M624.5 586.0h11.5M624.5 594.8h11.5M626.1 576.6h11.5M626.1 581.5h11.5M627.6 586.5h11.5M627.6 592.0h11.5M629.9 576.6h11.5M629.9 581.5h11.5M630.5 589.6h11.5M630.5 596.6h11.5M633.4 585.5h11.5M633.4 593.8h11.5M636.2 593.7h11.5M636.2 600.6h11.5M639.0 596.5h11.5M639.0 604.0h11.5M642.0 588.8h11.5M642.0 598.3h11.5M644.8 591.0h11.5M644.8 597.5h11.5M647.7 590.5h11.5M647.7 597.4h11.5M650.8 588.1h11.5M650.8 596.9h11.5M653.6 584.3h11.5M653.6 591.4h11.5M653.9 581.5h11.5M653.9 586.4h11.5M656.2 582.1h11.5M656.2 588.4h11.5M659.0 589.9h11.5M659.0 595.9h11.5M662.3 586.8h11.5M662.3 594.0h11.5M665.1 587.9h11.5M665.1 594.2h11.5M667.9 588.6h11.5M667.9 593.2h11.5M670.7 590.5h11.5M670.7 597.0h11.5M673.6 587.4h11.5M673.6 592.3h11.5M676.7 579.3h11.5M676.7 583.7h11.5M679.4 583.0h11.5M679.4 588.8h11.5M680.3 576.6h11.5M680.3 581.5h11.5M682.4 580.1h11.5M682.4 589.0h11.5M685.1 585.2h11.5M685.1 593.1h11.5M687.8 578.8h11.5M687.8 584.4h11.5M691.1 588.0h11.5M691.1 597.4h11.5M693.8 593.0h11.5M693.8 599.2h11.5M696.7 579.4h11.5M696.7 585.3h11.5M699.6 583.7h11.5M699.6 592.4h11.5M702.3 584.4h11.5M702.3 591.5h11.5M705.4 589.5h11.5M705.4 595.9h11.5M708.2 595.4h11.5M708.2 600.5h11.5M711.2 596.6h11.5M711.2 604.7h11.5M711.6 583.9h11.5M711.6 588.8h11.5M714.1 593.8h11.5M714.1 599.0h11.5M717.0 590.7h11.5M717.0 598.1h11.5M719.8 589.8h11.5M719.8 595.3h11.5M722.5 597.3h11.5M722.5 604.8h11.5M725.6 593.1h11.5M725.6 601.1h11.5M728.3 601.9h11.5M728.3 608.3h11.5M731.3 586.7h11.5M731.3 596.7h11.5M733.2 576.6h11.5M733.2 581.5h11.5M734.0 590.8h11.5M734.0 596.8h11.5M737.2 586.2h11.5M737.2 594.5h11.5M739.8 583.5h11.5M739.8 588.5h11.5M742.6 582.4h11.5M742.6 589.8h11.5M745.8 588.3h11.5M745.8 594.0h11.5M748.6 582.7h11.5M748.6 587.2h11.5M751.6 583.2h11.5M751.6 590.3h11.5M754.2 580.1h11.5M754.2 587.2h11.5M757.2 582.4h11.5M757.2 591.4h11.5M759.9 581.5h11.5M759.9 587.5h11.5M762.7 590.3h11.5M762.7 593.9h11.5M765.6 587.6h11.5M765.6 594.7h11.5M767.3 575.9h11.5M767.3 580.8h11.5M769.0 580.6h11.5M769.0 587.4h11.5M771.7 588.9h11.5M771.7 594.1h11.5M774.0 582.7h11.5M774.0 587.6h11.5M774.5 588.1h11.5M774.5 594.5h11.5M777.3 591.6h11.5M777.3 597.6h11.5M780.5 585.1h11.5M780.5 594.3h11.5M783.2 589.6h11.5M783.2 593.6h11.5M786.0 592.9h11.5M786.0 600.3h11.5M788.7 588.3h11.5M788.7 593.8h11.5M791.6 584.1h11.5M791.6 589.5h11.5M794.6 590.7h11.5M794.6 598.4h11.5" stroke="#000" stroke-width="1.55" fill="none"/>
<polyline points="151.6,598.1 155.1,553.3 156.7,565.5 158.7,572.9 160.6,565.5 162.5,574.1 164.4,589.4 166.4,594.9 168.3,596.1 170.2,592.5 172.1,590.0 174.0,593.7 176.0,555.7 177.9,545.3 179.8,549.6 181.2,536.1 183.2,547.2 185.1,554.5 186.5,588.8 188.3,592.4 191.3,590.0 194.2,595.0 197.1,597.3 200.1,591.5 203.0,592.9 205.9,594.2 208.5,596.0 211.4,599.9 214.2,594.6 217.4,593.2 220.3,590.9 222.9,588.6 225.9,589.2 228.8,591.4 231.8,594.2 234.4,593.8 237.3,593.4 240.3,592.9 240.8,574.7 243.1,589.9 245.9,594.2 248.7,587.8 251.9,586.6 254.9,593.7 257.6,582.9 260.6,592.7 263.5,590.6 266.3,586.9 269.1,597.1 271.9,593.3 274.8,593.8 277.9,593.2 280.5,595.6 283.7,593.7 286.6,592.7 289.4,587.3 292.3,589.8 295.1,596.8 297.8,594.3 300.7,591.0 303.6,594.1 306.5,596.2 309.6,591.0 312.3,596.0 315.1,588.8 318.0,591.9 320.9,589.5 324.0,588.8 326.6,592.3 329.9,593.8 332.4,590.5 335.2,600.1 338.2,595.2 340.2,578.4 341.2,590.2 344.2,598.8 347.1,590.0 350.0,585.3 352.9,593.9 355.4,587.3 358.4,589.3 361.6,589.5 364.0,598.2 367.0,595.9 369.8,595.7 372.7,591.8 375.6,588.6 378.8,589.7 381.4,594.2 384.6,592.4 387.4,597.9 390.1,591.0 393.1,595.7 396.1,599.9 399.0,593.7 401.8,596.7 404.6,600.6 407.5,596.5 410.2,598.1 413.2,592.2 416.2,594.6 419.2,589.2 422.0,586.6 424.7,585.4 427.7,590.4 430.8,588.7 433.6,592.2 436.5,590.8 439.3,594.0 442.2,596.7 444.9,594.8 447.8,591.3 453.1,566.8 455.0,549.6 457.0,564.3 458.4,574.1 460.1,587.7 463.0,592.3 466.1,590.3 469.1,587.4 471.8,589.8 473.3,580.2 474.6,590.8 477.4,585.8 480.7,592.0 483.2,592.8 486.5,592.9 489.1,588.7 492.2,589.6 495.1,589.8 497.8,591.9 500.7,589.8 503.5,596.4 506.3,588.4 509.2,589.1 512.4,592.1 515.2,591.2 515.6,571.0 518.1,590.3 521.0,591.5 523.9,593.3 526.6,589.5 529.6,589.8 532.5,589.7 535.3,583.6 538.0,594.0 540.9,590.8 543.9,594.4 547.0,590.2 549.9,592.9 552.5,588.9 555.4,582.1 555.5,591.0 558.2,593.8 561.1,588.3 564.3,589.5 567.0,588.8 568.9,580.8 569.8,587.6 572.6,593.6 575.6,593.6 578.5,592.8 581.4,595.5 581.9,580.8 584.1,593.6 587.3,588.9 590.0,594.6 592.9,595.7 595.9,590.6 598.6,594.3 601.5,591.8 604.3,592.6 607.2,592.7 610.1,594.4 612.9,596.2 616.0,595.0 618.7,591.2 621.5,591.0 624.4,597.3 627.6,592.8 630.2,590.4 631.8,579.0 633.3,589.2 635.7,579.0 636.3,593.1 639.1,589.7 642.0,597.1 644.8,600.3 647.7,593.6 650.5,594.2 653.5,594.0 656.5,592.5 659.3,587.9 659.7,583.9 662.0,585.3 664.8,592.9 668.0,590.4 670.8,591.0 673.6,590.9 676.5,593.8 679.4,589.8 682.4,581.5 685.2,585.9 686.1,579.0 688.1,584.5 690.9,589.2 693.6,581.6 696.8,592.7 699.5,596.1 702.5,582.3 705.4,588.1 708.1,587.9 711.1,592.7 713.9,598.0 716.9,600.6 717.3,586.4 719.9,596.4 722.8,594.4 725.5,592.5 728.2,601.1 731.4,597.1 734.1,605.1 737.0,591.7 738.9,579.0 739.7,593.8 743.0,590.4 745.6,586.0 748.4,586.1 751.5,591.2 754.3,584.9 757.4,586.7 760.0,583.7 763.0,586.9 765.7,584.5 768.5,592.1 771.4,591.1 773.0,578.4 774.7,584.0 777.5,591.5 779.8,585.1 780.2,591.3 783.1,594.6 786.2,589.7 788.9,591.6 791.7,596.6 794.5,591.1 797.3,586.8 800.4,594.5" stroke="#000" stroke-width="1.1" fill="none" stroke-linejoin="round"/>
<path d="M152.8 487.2V487.2M156.0 507.0V510.1M158.7 509.2V512.9M161.3 508.2V511.9M163.9 492.7V496.3M166.4 490.2V493.9M168.3 486.5V490.2M170.7 487.2V490.8M173.6 482.9V486.5M176.0 484.1V487.8M178.8 484.7V488.4M181.2 486.5V490.2M183.6 489.6V494.5M185.6 477.5V481.2M188.4 474.9V478.6M190.8 471.9V475.5M193.7 471.9V475.5M196.1 473.1V476.8M197.6 471.9V475.5M200.9 476.1V479.8M204.3 468.2V471.9M206.7 468.8V472.5M209.6 470.0V473.7M212.5 470.2V473.9M214.9 468.8V472.5M216.8 468.2V471.9M219.7 468.8V472.5M222.6 468.2V471.9M225.9 486.5V490.2M227.8 598.0V601.7M230.0 604.4V607.8M234.3 600.6V605.2M238.1 607.1V612.2M241.5 608.4V612.4M245.7 608.0V613.5M250.4 608.6V612.9M254.6 611.9V616.4M258.5 609.0V613.5M261.9 615.3V618.5M266.0 611.3V615.4M270.8 606.6V611.1M274.4 610.3V615.5M278.7 614.0V617.2M282.5 607.2V612.5M286.9 611.4V615.0M290.5 608.5V612.7M295.2 609.0V613.3M298.8 607.4V612.7M303.3 608.7V612.7M306.8 608.5V612.0M311.7 600.7V604.5M315.7 603.1V606.9M319.4 603.2V607.2M323.1 600.9V604.8M328.3 603.6V607.9M332.4 604.3V609.6M336.2 600.6V604.5M340.4 602.2V605.5M344.6 608.3V613.1M348.8 609.3V614.1M352.2 611.4V616.1M356.6 613.4V616.8M361.0 610.9V614.9M364.9 612.7V617.0M368.9 607.8V612.1M373.2 611.2V616.6M376.4 613.1V617.3M380.9 611.9V615.5M385.1 615.0V619.1M389.1 619.1V622.4M393.1 610.9V614.0M397.5 611.8V616.7M401.5 609.6V613.4M405.7 611.1V614.7M409.9 608.8V612.7M413.5 604.9V609.6M417.4 600.4V605.8M422.0 593.9V597.9M426.3 594.6V600.4M429.7 605.7V611.3M433.9 606.5V611.0M438.2 610.3V614.2M441.8 606.8V611.1M446.7 605.2V610.3M450.7 604.4V608.3M451.7 596.8V601.7M454.1 579.6V583.3M456.5 593.1V626.8M458.5 600.8V604.1M462.9 602.5V606.3M467.3 604.8V608.3M471.6 594.8V598.4M475.5 595.2V599.1M479.0 598.8V603.8M483.5 602.4V607.8M487.4 599.4V602.7M491.3 593.6V597.2M495.8 599.3V603.4M500.0 598.3V602.9M503.5 596.0V600.8M508.3 600.8V606.7M512.0 601.6V605.0M516.2 594.4V597.9M519.6 599.6V604.8M524.4 601.4V604.7M528.9 601.3V604.7M532.3 598.8V602.8M536.3 597.4V602.9M540.5 591.2V595.7M545.0 594.7V598.3M549.3 589.6V594.1M552.5 592.1V597.3M556.9 593.2V597.5M560.4 596.9V600.5M564.9 595.3V599.6M569.6 596.5V600.0M573.3 596.5V600.4M576.7 599.3V603.8M582.0 600.4V604.5M585.6 618.9V623.5M589.7 621.9V626.0M593.2 622.3V625.6M597.9 619.2V624.9M601.9 622.9V628.4M605.5 620.8V624.7M610.2 619.8V625.0M614.0 617.7V623.7M618.6 619.8V624.1M622.3 616.5V621.3M626.8 619.3V624.3M630.8 617.6V621.1M634.0 615.5V618.5M639.1 613.4V617.6M642.3 618.3V622.9M646.8 620.1V623.9M651.0 615.8V619.5M654.9 616.7V620.4M659.2 619.0V623.9M663.5 616.4V619.9M666.6 616.3V621.1M671.2 602.7V606.3M675.7 605.8V610.0M679.3 613.1V617.0M683.8 622.3V626.3M688.1 622.2V626.4M691.5 620.2V624.2M695.8 622.8V627.0M699.6 622.7V626.7M703.7 627.5V633.3M707.5 627.6V633.1M712.6 628.2V632.5M716.0 628.1V633.4M720.4 626.5V631.7M724.9 625.5V628.9M728.1 625.1V630.3M731.9 616.3V621.4M736.4 616.3V619.7M740.3 620.2V623.5M744.4 619.0V622.9M748.5 610.4V615.9M753.2 614.7V617.9M756.6 617.6V621.0M761.0 614.6V618.0M765.0 615.0V620.0M769.5 621.8V625.9M773.2 621.0V625.2M776.8 621.2V625.0M781.1 614.1V619.3M785.7 619.2V622.0M789.4 618.7V622.5M794.0 619.9V624.9M798.0 628.1V631.6M801.9 630.6V634.6" stroke="#f00" stroke-width="1.15" fill="none"/>
<path d="M147.1 487.2h11.5M147.1 487.2h11.5M150.2 507.0h11.5M150.2 510.1h11.5M152.9 509.2h11.5M152.9 512.9h11.5M155.6 508.2h11.5M155.6 511.9h11.5M158.2 492.7h11.5M158.2 496.3h11.5M160.6 490.2h11.5M160.6 493.9h11.5M162.5 486.5h11.5M162.5 490.2h11.5M164.9 487.2h11.5M164.9 490.8h11.5M167.8 482.9h11.5M167.8 486.5h11.5M170.2 484.1h11.5M170.2 487.8h11.5M173.1 484.7h11.5M173.1 488.4h11.5M175.5 486.5h11.5M175.5 490.2h11.5M177.9 489.6h11.5M177.9 494.5h11.5M179.8 477.5h11.5M179.8 481.2h11.5M182.7 474.9h11.5M182.7 478.6h11.5M185.1 471.9h11.5M185.1 475.5h11.5M188.0 471.9h11.5M188.0 475.5h11.5M190.4 473.1h11.5M190.4 476.8h11.5M191.8 471.9h11.5M191.8 475.5h11.5M195.2 476.1h11.5M195.2 479.8h11.5M198.5 468.2h11.5M198.5 471.9h11.5M201.0 468.8h11.5M201.0 472.5h11.5M203.8 470.0h11.5M203.8 473.7h11.5M206.7 470.2h11.5M206.7 473.9h11.5M209.1 468.8h11.5M209.1 472.5h11.5M211.0 468.2h11.5M211.0 471.9h11.5M213.9 468.8h11.5M213.9 472.5h11.5M216.8 468.2h11.5M216.8 471.9h11.5M220.2 486.5h11.5M220.2 490.2h11.5M222.1 598.0h11.5M222.1 601.7h11.5M224.2 604.4h11.5M224.2 607.8h11.5M228.5 600.6h11.5M228.5 605.2h11.5M232.4 607.1h11.5M232.4 612.2h11.5M235.8 608.4h11.5M235.8 612.4h11.5M240.0 608.0h11.5M240.0 613.5h11.5M244.7 608.6h11.5M244.7 612.9h11.5M248.8 611.9h11.5M248.8 616.4h11.5M252.7 609.0h11.5M252.7 613.5h11.5M256.2 615.3h11.5M256.2 618.5h11.5M260.3 611.3h11.5M260.3 615.4h11.5M265.1 606.6h11.5M265.1 611.1h11.5M268.7 610.3h11.5M268.7 615.5h11.5M272.9 614.0h11.5M272.9 617.2h11.5M276.7 607.2h11.5M276.7 612.5h11.5M281.2 611.4h11.5M281.2 615.0h11.5M284.7 608.5h11.5M284.7 612.7h11.5M289.5 609.0h11.5M289.5 613.3h11.5M293.0 607.4h11.5M293.0 612.7h11.5M297.5 608.7h11.5M297.5 612.7h11.5M301.1 608.5h11.5M301.1 612.0h11.5M305.9 600.7h11.5M305.9 604.5h11.5M309.9 603.1h11.5M309.9 606.9h11.5M313.7 603.2h11.5M313.7 607.2h11.5M317.3 600.9h11.5M317.3 604.8h11.5M322.6 603.6h11.5M322.6 607.9h11.5M326.7 604.3h11.5M326.7 609.6h11.5M330.4 600.6h11.5M330.4 604.5h11.5M334.7 602.2h11.5M334.7 605.5h11.5M338.8 608.3h11.5M338.8 613.1h11.5M343.0 609.3h11.5M343.0 614.1h11.5M346.5 611.4h11.5M346.5 616.1h11.5M350.8 613.4h11.5M350.8 616.8h11.5M355.2 610.9h11.5M355.2 614.9h11.5M359.2 612.7h11.5M359.2 617.0h11.5M363.2 607.8h11.5M363.2 612.1h11.5M367.4 611.2h11.5M367.4 616.6h11.5M370.7 613.1h11.5M370.7 617.3h11.5M375.1 611.9h11.5M375.1 615.5h11.5M379.3 615.0h11.5M379.3 619.1h11.5M383.3 619.1h11.5M383.3 622.4h11.5M387.4 610.9h11.5M387.4 614.0h11.5M391.8 611.8h11.5M391.8 616.7h11.5M395.7 609.6h11.5M395.7 613.4h11.5M400.0 611.1h11.5M400.0 614.7h11.5M404.1 608.8h11.5M404.1 612.7h11.5M407.7 604.9h11.5M407.7 609.6h11.5M411.6 600.4h11.5M411.6 605.8h11.5M416.3 593.9h11.5M416.3 597.9h11.5M420.5 594.6h11.5M420.5 600.4h11.5M424.0 605.7h11.5M424.0 611.3h11.5M428.2 606.5h11.5M428.2 611.0h11.5M432.4 610.3h11.5M432.4 614.2h11.5M436.0 606.8h11.5M436.0 611.1h11.5M441.0 605.2h11.5M441.0 610.3h11.5M445.0 604.4h11.5M445.0 608.3h11.5M445.9 596.8h11.5M445.9 601.7h11.5M448.3 579.6h11.5M448.3 583.3h11.5M450.7 593.1h11.5M450.7 626.8h11.5M452.8 600.8h11.5M452.8 604.1h11.5M457.1 602.5h11.5M457.1 606.3h11.5M461.6 604.8h11.5M461.6 608.3h11.5M465.9 594.8h11.5M465.9 598.4h11.5M469.7 595.2h11.5M469.7 599.1h11.5M473.2 598.8h11.5M473.2 603.8h11.5M477.7 602.4h11.5M477.7 607.8h11.5M481.7 599.4h11.5M481.7 602.7h11.5M485.5 593.6h11.5M485.5 597.2h11.5M490.0 599.3h11.5M490.0 603.4h11.5M494.3 598.3h11.5M494.3 602.9h11.5M497.8 596.0h11.5M497.8 600.8h11.5M502.5 600.8h11.5M502.5 606.7h11.5M506.3 601.6h11.5M506.3 605.0h11.5M510.5 594.4h11.5M510.5 597.9h11.5M513.8 599.6h11.5M513.8 604.8h11.5M518.6 601.4h11.5M518.6 604.7h11.5M523.1 601.3h11.5M523.1 604.7h11.5M526.5 598.8h11.5M526.5 602.8h11.5M530.6 597.4h11.5M530.6 602.9h11.5M534.8 591.2h11.5M534.8 595.7h11.5M539.2 594.7h11.5M539.2 598.3h11.5M543.6 589.6h11.5M543.6 594.1h11.5M546.7 592.1h11.5M546.7 597.3h11.5M551.1 593.2h11.5M551.1 597.5h11.5M554.6 596.9h11.5M554.6 600.5h11.5M559.1 595.3h11.5M559.1 599.6h11.5M563.8 596.5h11.5M563.8 600.0h11.5M567.6 596.5h11.5M567.6 600.4h11.5M571.0 599.3h11.5M571.0 603.8h11.5M576.2 600.4h11.5M576.2 604.5h11.5M579.8 618.9h11.5M579.8 623.5h11.5M583.9 621.9h11.5M583.9 626.0h11.5M587.4 622.3h11.5M587.4 625.6h11.5M592.2 619.2h11.5M592.2 624.9h11.5M596.1 622.9h11.5M596.1 628.4h11.5M599.8 620.8h11.5M599.8 624.7h11.5M604.4 619.8h11.5M604.4 625.0h11.5M608.2 617.7h11.5M608.2 623.7h11.5M612.9 619.8h11.5M612.9 624.1h11.5M616.6 616.5h11.5M616.6 621.3h11.5M621.1 619.3h11.5M621.1 624.3h11.5M625.0 617.6h11.5M625.0 621.1h11.5M628.3 615.5h11.5M628.3 618.5h11.5M633.3 613.4h11.5M633.3 617.6h11.5M636.5 618.3h11.5M636.5 622.9h11.5M641.0 620.1h11.5M641.0 623.9h11.5M645.2 615.8h11.5M645.2 619.5h11.5M649.2 616.7h11.5M649.2 620.4h11.5M653.4 619.0h11.5M653.4 623.9h11.5M657.7 616.4h11.5M657.7 619.9h11.5M660.9 616.3h11.5M660.9 621.1h11.5M665.4 602.7h11.5M665.4 606.3h11.5M669.9 605.8h11.5M669.9 610.0h11.5M673.5 613.1h11.5M673.5 617.0h11.5M678.0 622.3h11.5M678.0 626.3h11.5M682.3 622.2h11.5M682.3 626.4h11.5M685.8 620.2h11.5M685.8 624.2h11.5M690.0 622.8h11.5M690.0 627.0h11.5M693.8 622.7h11.5M693.8 626.7h11.5M698.0 627.5h11.5M698.0 633.3h11.5M701.7 627.6h11.5M701.7 633.1h11.5M706.9 628.2h11.5M706.9 632.5h11.5M710.3 628.1h11.5M710.3 633.4h11.5M714.6 626.5h11.5M714.6 631.7h11.5M719.1 625.5h11.5M719.1 628.9h11.5M722.4 625.1h11.5M722.4 630.3h11.5M726.2 616.3h11.5M726.2 621.4h11.5M730.6 616.3h11.5M730.6 619.7h11.5M734.5 620.2h11.5M734.5 623.5h11.5M738.7 619.0h11.5M738.7 622.9h11.5M742.8 610.4h11.5M742.8 615.9h11.5M747.5 614.7h11.5M747.5 617.9h11.5M750.9 617.6h11.5M750.9 621.0h11.5M755.3 614.6h11.5M755.3 618.0h11.5M759.2 615.0h11.5M759.2 620.0h11.5M763.8 621.8h11.5M763.8 625.9h11.5M767.5 621.0h11.5M767.5 625.2h11.5M771.1 621.2h11.5M771.1 625.0h11.5M775.3 614.1h11.5M775.3 619.3h11.5M780.0 619.2h11.5M780.0 622.0h11.5M783.7 618.7h11.5M783.7 622.5h11.5M788.3 619.9h11.5M788.3 624.9h11.5M792.2 628.1h11.5M792.2 631.6h11.5M796.1 630.6h11.5M796.1 634.6h11.5" stroke="#f00" stroke-width="1.55" fill="none"/>
<polyline points="152.8,487.2 156.0,510.1 158.7,511.0 161.3,510.1 163.9,494.5 166.4,492.1 168.3,488.4 170.7,489.0 173.6,484.7 176.0,485.9 178.8,486.5 181.2,488.4 183.6,494.5 185.6,479.3 188.4,476.8 190.8,473.7 193.7,473.7 196.1,474.9 197.6,473.7 200.9,478.0 204.3,470.0 206.7,470.6 209.6,471.9 212.5,472.0 214.9,470.6 216.8,470.0 219.7,470.6 222.6,470.0 225.9,488.4 227.8,599.8 230.0,606.1 234.3,602.9 238.1,611.8 241.5,612.0 245.7,610.7 250.4,610.7 254.6,616.0 258.5,611.3 261.9,618.2 266.0,613.4 270.8,608.8 274.4,612.9 278.7,616.9 282.5,609.9 286.9,613.2 290.5,610.6 295.2,611.2 298.8,610.1 303.3,610.7 306.8,610.3 311.7,602.6 315.7,605.0 319.4,605.2 323.1,601.2 328.3,605.7 332.4,606.9 336.2,604.1 340.4,602.5 344.6,610.7 348.8,611.7 352.2,613.8 356.6,615.1 361.0,612.9 364.9,614.8 368.9,608.2 373.2,613.9 376.4,615.2 380.9,612.2 385.1,617.1 389.1,620.7 393.1,612.5 397.5,614.2 401.5,611.5 405.7,612.9 409.9,610.8 413.5,607.2 417.4,603.1 422.0,595.9 426.3,597.5 429.7,608.5 433.9,608.8 438.2,612.3 441.8,607.2 446.7,607.7 450.7,606.3 451.7,599.2 454.1,583.3 456.5,626.8 458.5,602.5 462.9,606.0 467.3,608.0 471.6,595.2 475.5,595.6 479.0,601.3 483.5,605.1 487.4,599.7 491.3,593.9 495.8,601.3 500.0,598.7 503.5,598.4 508.3,603.7 512.0,603.3 516.2,594.7 519.6,602.2 524.4,604.4 528.9,604.4 532.3,600.8 536.3,600.1 540.5,591.6 545.0,598.0 549.3,590.0 552.5,594.7 556.9,595.4 560.4,598.7 564.9,599.2 569.6,598.2 573.3,598.4 576.7,601.6 582.0,602.4 585.6,621.2 589.7,625.6 593.2,625.4 597.9,622.1 601.9,625.6 605.5,622.8 610.2,622.4 614.0,620.7 618.6,623.7 622.3,618.9 626.8,621.8 630.8,617.9 634.0,618.2 639.1,615.5 642.3,622.5 646.8,622.0 651.0,617.7 654.9,618.6 659.2,621.4 663.5,618.2 666.6,618.7 671.2,603.0 675.7,607.9 679.3,615.1 683.8,624.3 688.1,624.3 691.5,620.6 695.8,624.9 699.6,624.7 703.7,630.4 707.5,630.4 712.6,630.4 716.0,630.8 720.4,629.1 724.9,627.2 728.1,627.7 731.9,618.8 736.4,616.6 740.3,621.8 744.4,620.9 748.5,610.8 753.2,616.3 756.6,620.7 761.0,617.7 765.0,617.5 769.5,623.8 773.2,623.1 776.8,623.1 781.1,616.7 785.7,620.6 789.4,620.6 794.0,624.5 798.0,631.3 801.9,632.6" stroke="#f00" stroke-width="1.1" fill="none" stroke-linejoin="round"/>
<path d="M151.9 952.1V966.4M146.0 952.1h11.8M146.0 966.4h11.8M154.0 958.8V968.4M148.1 958.8h11.8M148.1 968.4h11.8M156.3 947.4V961.1M150.4 947.4h11.8M150.4 961.1h11.8M158.4 958.8V970.8M152.5 958.8h11.8M152.5 970.8h11.8M160.7 979.2V987.8M154.8 979.2h11.8M154.8 987.8h11.8M162.8 961.8V974.1M156.9 961.8h11.8M156.9 974.1h11.8M165.2 960.0V967.2M159.3 960.0h11.8M159.3 967.2h11.8M167.5 969.0V978.6M161.6 969.0h11.8M161.6 978.6h11.8M169.6 962.9V975.2M163.7 962.9h11.8M163.7 975.2h11.8M171.9 962.6V981.0M166.0 962.6h11.8M166.0 981.0h11.8M174.0 973.6V987.2M168.1 973.6h11.8M168.1 987.2h11.8M176.2 960.6V970.5M170.3 960.6h11.8M170.3 970.5h11.8M178.3 969.5V979.4M172.4 969.5h11.8M172.4 979.4h11.8M180.8 962.5V977.4M174.9 962.5h11.8M174.9 977.4h11.8M183.0 961.8V977.2M177.1 961.8h11.8M177.1 977.2h11.8M185.1 958.7V967.8M179.2 958.7h11.8M179.2 967.8h11.8M187.4 959.7V968.9M181.5 959.7h11.8M181.5 968.9h11.8M189.5 964.8V976.4M183.6 964.8h11.8M183.6 976.4h11.8M191.7 957.3V963.4M185.8 957.3h11.8M185.8 963.4h11.8M194.0 947.7V960.7M188.1 947.7h11.8M188.1 960.7h11.8M196.2 956.5V974.4M190.3 956.5h11.8M190.3 974.4h11.8M198.2 963.9V976.3M192.3 963.9h11.8M192.3 976.3h11.8M200.5 962.2V977.0M194.6 962.2h11.8M194.6 977.0h11.8M202.9 964.8V975.9M197.0 964.8h11.8M197.0 975.9h11.8M204.8 965.4V978.0M198.9 965.4h11.8M198.9 978.0h11.8M207.2 953.4V966.0M201.3 953.4h11.8M201.3 966.0h11.8M209.5 957.5V968.5M203.6 957.5h11.8M203.6 968.5h11.8M211.5 964.0V977.6M205.6 964.0h11.8M205.6 977.6h11.8M213.7 968.2V981.3M207.8 968.2h11.8M207.8 981.3h11.8M216.0 979.8V993.0M210.1 979.8h11.8M210.1 993.0h11.8M218.2 973.5V982.7M212.3 973.5h11.8M212.3 982.7h11.8M220.5 964.0V982.6M214.6 964.0h11.8M214.6 982.6h11.8M222.8 963.1V977.3M216.9 963.1h11.8M216.9 977.3h11.8M224.7 955.4V969.5M218.8 955.4h11.8M218.8 969.5h11.8M227.1 961.2V977.8M221.2 961.2h11.8M221.2 977.8h11.8M229.4 972.1V983.4M223.5 972.1h11.8M223.5 983.4h11.8M231.3 969.1V981.0M225.4 969.1h11.8M225.4 981.0h11.8M233.6 965.5V979.6M227.7 965.5h11.8M227.7 979.6h11.8M235.8 961.4V979.9M229.9 961.4h11.8M229.9 979.9h11.8M238.3 940.5V956.1M232.4 940.5h11.8M232.4 956.1h11.8M240.3 971.5V976.9M234.4 971.5h11.8M234.4 976.9h11.8M242.5 960.4V978.5M236.6 960.4h11.8M236.6 978.5h11.8M244.7 951.2V963.5M238.8 951.2h11.8M238.8 963.5h11.8M246.9 981.9V995.2M241.0 981.9h11.8M241.0 995.2h11.8M249.1 959.3V972.5M243.2 959.3h11.8M243.2 972.5h11.8M251.3 956.7V971.5M245.4 956.7h11.8M245.4 971.5h11.8M253.7 955.7V971.6M247.8 955.7h11.8M247.8 971.6h11.8M255.9 975.6V984.8M250.0 975.6h11.8M250.0 984.8h11.8M257.9 959.1V972.3M252.0 959.1h11.8M252.0 972.3h11.8M260.2 964.0V977.0M254.3 964.0h11.8M254.3 977.0h11.8M262.3 966.2V985.0M256.4 966.2h11.8M256.4 985.0h11.8M264.6 970.2V979.7M258.7 970.2h11.8M258.7 979.7h11.8M266.8 967.1V978.1M260.9 967.1h11.8M260.9 978.1h11.8M269.2 959.2V971.6M263.3 959.2h11.8M263.3 971.6h11.8M271.2 967.9V977.8M265.3 967.9h11.8M265.3 977.8h11.8M273.6 958.3V977.9M267.7 958.3h11.8M267.7 977.9h11.8M275.8 964.0V979.3M269.9 964.0h11.8M269.9 979.3h11.8M277.8 975.2V985.6M271.9 975.2h11.8M271.9 985.6h11.8M280.2 962.0V974.6M274.3 962.0h11.8M274.3 974.6h11.8M282.4 956.8V970.7M276.5 956.8h11.8M276.5 970.7h11.8M284.6 967.5V979.8M278.7 967.5h11.8M278.7 979.8h11.8M286.6 957.7V970.8M280.7 957.7h11.8M280.7 970.8h11.8M288.8 968.4V977.6M282.9 968.4h11.8M282.9 977.6h11.8M291.0 958.3V972.4M285.1 958.3h11.8M285.1 972.4h11.8M293.4 962.7V978.0M287.5 962.7h11.8M287.5 978.0h11.8M295.5 958.1V969.4M289.6 958.1h11.8M289.6 969.4h11.8M297.6 964.7V974.9M291.7 964.7h11.8M291.7 974.9h11.8M299.9 957.7V969.4M294.0 957.7h11.8M294.0 969.4h11.8M302.4 966.6V978.9M296.5 966.6h11.8M296.5 978.9h11.8M304.5 968.6V982.7M298.6 968.6h11.8M298.6 982.7h11.8M306.4 951.8V966.4M300.5 951.8h11.8M300.5 966.4h11.8M308.7 967.7V976.8M302.8 967.7h11.8M302.8 976.8h11.8M311.1 968.9V984.4M305.2 968.9h11.8M305.2 984.4h11.8M313.3 951.6V966.5M307.4 951.6h11.8M307.4 966.5h11.8M315.3 962.3V975.8M309.4 962.3h11.8M309.4 975.8h11.8M317.6 958.7V969.8M311.7 958.7h11.8M311.7 969.8h11.8M319.8 946.0V958.7M313.9 946.0h11.8M313.9 958.7h11.8M322.2 971.0V980.1M316.3 971.0h11.8M316.3 980.1h11.8M324.4 963.4V977.2M318.5 963.4h11.8M318.5 977.2h11.8M326.5 947.8V958.4M320.6 947.8h11.8M320.6 958.4h11.8M328.8 959.3V973.3M322.9 959.3h11.8M322.9 973.3h11.8M330.8 962.2V979.5M324.9 962.2h11.8M324.9 979.5h11.8M333.1 960.1V976.4M327.2 960.1h11.8M327.2 976.4h11.8M335.3 960.6V974.4M329.4 960.6h11.8M329.4 974.4h11.8M337.5 960.8V973.5M331.6 960.8h11.8M331.6 973.5h11.8M339.7 968.0V978.2M333.8 968.0h11.8M333.8 978.2h11.8M341.8 965.2V972.6M335.9 965.2h11.8M335.9 972.6h11.8M344.1 973.9V988.6M338.2 973.9h11.8M338.2 988.6h11.8M346.3 969.3V985.6M340.4 969.3h11.8M340.4 985.6h11.8M348.5 974.4V984.4M342.6 974.4h11.8M342.6 984.4h11.8M350.7 961.1V976.7M344.8 961.1h11.8M344.8 976.7h11.8M353.2 964.5V974.2M347.3 964.5h11.8M347.3 974.2h11.8M355.4 970.9V983.4M349.5 970.9h11.8M349.5 983.4h11.8M357.3 962.8V977.5M351.4 962.8h11.8M351.4 977.5h11.8M359.8 962.5V972.9M353.9 962.5h11.8M353.9 972.9h11.8M361.7 967.4V983.5M355.8 967.4h11.8M355.8 983.5h11.8M364.1 966.1V982.3M358.2 966.1h11.8M358.2 982.3h11.8M366.2 953.3V967.6M360.3 953.3h11.8M360.3 967.6h11.8M368.6 960.1V970.9M362.7 960.1h11.8M362.7 970.9h11.8M370.6 974.5V988.1M364.7 974.5h11.8M364.7 988.1h11.8M372.8 965.8V977.6M366.9 965.8h11.8M366.9 977.6h11.8M375.1 968.6V979.6M369.2 968.6h11.8M369.2 979.6h11.8M377.2 954.3V968.2M371.3 954.3h11.8M371.3 968.2h11.8M379.4 968.1V982.7M373.5 968.1h11.8M373.5 982.7h11.8M381.8 955.7V965.0M375.9 955.7h11.8M375.9 965.0h11.8M384.1 967.4V983.9M378.2 967.4h11.8M378.2 983.9h11.8M386.3 958.5V969.7M380.4 958.5h11.8M380.4 969.7h11.8M388.4 973.5V984.8M382.5 973.5h11.8M382.5 984.8h11.8M390.5 954.7V971.2M384.6 954.7h11.8M384.6 971.2h11.8M392.8 972.4V985.0M386.9 972.4h11.8M386.9 985.0h11.8M395.1 954.4V968.2M389.2 954.4h11.8M389.2 968.2h11.8M397.1 970.5V978.0M391.2 970.5h11.8M391.2 978.0h11.8M399.6 972.4V986.3M393.7 972.4h11.8M393.7 986.3h11.8M401.7 971.2V983.1M395.8 971.2h11.8M395.8 983.1h11.8M403.8 973.1V983.5M397.9 973.1h11.8M397.9 983.5h11.8M406.2 970.6V982.4M400.3 970.6h11.8M400.3 982.4h11.8M408.4 955.4V963.6M402.5 955.4h11.8M402.5 963.6h11.8M410.5 965.0V977.7M404.6 965.0h11.8M404.6 977.7h11.8M412.5 966.3V981.9M406.6 966.3h11.8M406.6 981.9h11.8M415.0 966.1V979.1M409.1 966.1h11.8M409.1 979.1h11.8M417.1 965.1V980.8M411.2 965.1h11.8M411.2 980.8h11.8M419.1 964.2V977.0M413.2 964.2h11.8M413.2 977.0h11.8M421.6 972.6V982.7M415.7 972.6h11.8M415.7 982.7h11.8M423.6 971.8V981.9M417.7 971.8h11.8M417.7 981.9h11.8M425.8 964.1V972.3M419.9 964.1h11.8M419.9 972.3h11.8M428.3 965.4V978.0M422.4 965.4h11.8M422.4 978.0h11.8M430.4 965.8V977.1M424.5 965.8h11.8M424.5 977.1h11.8M432.4 973.2V985.8M426.5 973.2h11.8M426.5 985.8h11.8M434.6 973.2V985.8M428.7 973.2h11.8M428.7 985.8h11.8M437.0 949.9V960.5M431.1 949.9h11.8M431.1 960.5h11.8M439.0 960.9V974.0M433.1 960.9h11.8M433.1 974.0h11.8M441.6 962.5V975.8M435.7 962.5h11.8M435.7 975.8h11.8M443.5 963.0V977.1M437.6 963.0h11.8M437.6 977.1h11.8M445.8 957.8V971.9M439.9 957.8h11.8M439.9 971.9h11.8M448.1 973.3V985.9M442.2 973.3h11.8M442.2 985.9h11.8M450.3 968.1V981.3M444.4 968.1h11.8M444.4 981.3h11.8M452.6 951.7V970.5M446.7 951.7h11.8M446.7 970.5h11.8M454.5 962.9V975.2M448.6 962.9h11.8M448.6 975.2h11.8M457.0 962.2V975.3M451.1 962.2h11.8M451.1 975.3h11.8M458.9 965.8V976.0M453.0 965.8h11.8M453.0 976.0h11.8M461.2 969.6V983.9M455.3 969.6h11.8M455.3 983.9h11.8M463.4 957.6V970.5M457.5 957.6h11.8M457.5 970.5h11.8M465.6 970.9V985.4M459.7 970.9h11.8M459.7 985.4h11.8M468.1 963.7V976.9M462.2 963.7h11.8M462.2 976.9h11.8M470.0 978.9V992.7M464.1 978.9h11.8M464.1 992.7h11.8M472.4 959.3V966.9M466.5 959.3h11.8M466.5 966.9h11.8M474.6 974.6V992.0M468.7 974.6h11.8M468.7 992.0h11.8M476.7 965.0V976.5M470.8 965.0h11.8M470.8 976.5h11.8M479.1 966.5V981.2M473.2 966.5h11.8M473.2 981.2h11.8M481.1 958.9V970.9M475.2 958.9h11.8M475.2 970.9h11.8M483.3 967.2V981.1M477.4 967.2h11.8M477.4 981.1h11.8M485.5 962.1V975.6M479.6 962.1h11.8M479.6 975.6h11.8M487.7 968.2V985.1M481.8 968.2h11.8M481.8 985.1h11.8M490.0 971.4V984.1M484.1 971.4h11.8M484.1 984.1h11.8M492.1 954.3V960.9M486.2 954.3h11.8M486.2 960.9h11.8M494.4 961.3V971.2M488.5 961.3h11.8M488.5 971.2h11.8M496.8 959.5V976.9M490.9 959.5h11.8M490.9 976.9h11.8M499.0 974.5V990.1M493.1 974.5h11.8M493.1 990.1h11.8M500.9 970.0V977.0M495.0 970.0h11.8M495.0 977.0h11.8M503.2 964.6V980.5M497.3 964.6h11.8M497.3 980.5h11.8M505.4 967.9V979.6M499.5 967.9h11.8M499.5 979.6h11.8M507.6 957.4V964.6M501.7 957.4h11.8M501.7 964.6h11.8M509.8 952.6V964.6M503.9 952.6h11.8M503.9 964.6h11.8M512.3 964.7V977.3M506.4 964.7h11.8M506.4 977.3h11.8M514.3 968.3V980.4M508.4 968.3h11.8M508.4 980.4h11.8M516.4 963.3V974.0M510.5 963.3h11.8M510.5 974.0h11.8M518.7 963.7V980.2M512.8 963.7h11.8M512.8 980.2h11.8M520.8 969.5V983.5M514.9 969.5h11.8M514.9 983.5h11.8M523.1 960.1V974.1M517.2 960.1h11.8M517.2 974.1h11.8M525.3 958.4V976.2M519.4 958.4h11.8M519.4 976.2h11.8M527.6 965.2V977.0M521.7 965.2h11.8M521.7 977.0h11.8M529.7 960.8V973.5M523.8 960.8h11.8M523.8 973.5h11.8M532.1 976.7V990.5M526.2 976.7h11.8M526.2 990.5h11.8M534.2 960.4V969.8M528.3 960.4h11.8M528.3 969.8h11.8M536.5 967.4V981.4M530.6 967.4h11.8M530.6 981.4h11.8M538.5 970.6V981.9M532.6 970.6h11.8M532.6 981.9h11.8M540.7 973.0V981.1M534.8 973.0h11.8M534.8 981.1h11.8M543.2 962.4V977.8M537.3 962.4h11.8M537.3 977.8h11.8M545.2 968.0V981.9M539.3 968.0h11.8M539.3 981.9h11.8M547.6 959.3V973.1M541.7 959.3h11.8M541.7 973.1h11.8M549.7 963.8V976.9M543.8 963.8h11.8M543.8 976.9h11.8M551.7 955.3V972.9M545.8 955.3h11.8M545.8 972.9h11.8M554.1 969.3V976.2M548.2 969.3h11.8M548.2 976.2h11.8M556.3 969.8V976.9M550.4 969.8h11.8M550.4 976.9h11.8M558.6 960.6V971.6M552.7 960.6h11.8M552.7 971.6h11.8M560.7 969.5V984.4M554.8 969.5h11.8M554.8 984.4h11.8M563.0 963.2V981.4M557.1 963.2h11.8M557.1 981.4h11.8M565.1 960.5V973.1M559.2 960.5h11.8M559.2 973.1h11.8M567.5 963.2V977.3M561.6 963.2h11.8M561.6 977.3h11.8M569.5 959.4V975.7M563.6 959.4h11.8M563.6 975.7h11.8M571.8 975.9V986.2M565.9 975.9h11.8M565.9 986.2h11.8M574.2 955.1V969.7M568.3 955.1h11.8M568.3 969.7h11.8M576.3 971.1V980.9M570.4 971.1h11.8M570.4 980.9h11.8M578.4 963.8V974.4M572.5 963.8h11.8M572.5 974.4h11.8M580.6 958.5V972.0M574.7 958.5h11.8M574.7 972.0h11.8M582.9 978.4V990.6M577.0 978.4h11.8M577.0 990.6h11.8M585.0 965.6V977.4M579.1 965.6h11.8M579.1 977.4h11.8M587.3 958.2V971.0M581.4 958.2h11.8M581.4 971.0h11.8M589.5 970.7V982.0M583.6 970.7h11.8M583.6 982.0h11.8M591.7 971.8V981.3M585.8 971.8h11.8M585.8 981.3h11.8M593.7 954.3V967.8M587.8 954.3h11.8M587.8 967.8h11.8M596.2 964.3V976.4M590.3 964.3h11.8M590.3 976.4h11.8M598.5 965.0V981.8M592.6 965.0h11.8M592.6 981.8h11.8M600.6 952.3V967.1M594.7 952.3h11.8M594.7 967.1h11.8M604.0 923.0V934.9M598.1 923.0h11.8M598.1 934.9h11.8M606.4 900.9V912.7M600.5 900.9h11.8M600.5 912.7h11.8M607.8 879.8V891.7M601.9 879.8h11.8M601.9 891.7h11.8M609.2 875.8V887.7M603.3 875.8h11.8M603.3 887.7h11.8M610.2 873.1V885.0M604.3 873.1h11.8M604.3 885.0h11.8M611.6 877.2V889.0M605.7 877.2h11.8M605.7 889.0h11.8M612.6 873.1V885.0M606.7 873.1h11.8M606.7 885.0h11.8M614.0 879.8V891.7M608.1 879.8h11.8M608.1 891.7h11.8M615.0 883.9V895.8M609.1 883.9h11.8M609.1 895.8h11.8M617.4 881.2V893.1M611.5 881.2h11.8M611.5 893.1h11.8M620.8 910.6V922.4M614.9 910.6h11.8M614.9 922.4h11.8M622.7 910.9V922.7M616.8 910.9h11.8M616.8 922.7h11.8M625.1 924.3V936.2M619.2 924.3h11.8M619.2 936.2h11.8M627.0 914.1V926.0M621.1 914.1h11.8M621.1 926.0h11.8M629.4 909.5V921.4M623.5 909.5h11.8M623.5 921.4h11.8M631.8 906.0V917.9M625.9 906.0h11.8M625.9 917.9h11.8M633.3 910.9V922.7M627.4 910.9h11.8M627.4 922.7h11.8M635.7 910.6V922.4M629.8 910.6h11.8M629.8 922.4h11.8M638.1 941.3V953.2M632.2 941.3h11.8M632.2 953.2h11.8M640.5 958.0V969.9M634.6 958.0h11.8M634.6 969.9h11.8M642.3 970.0V982.3M636.4 970.0h11.8M636.4 982.3h11.8M644.5 958.8V972.9M638.6 958.8h11.8M638.6 972.9h11.8M646.9 964.0V974.8M641.0 964.0h11.8M641.0 974.8h11.8M648.8 968.5V984.2M642.9 968.5h11.8M642.9 984.2h11.8M651.2 962.9V982.2M645.3 962.9h11.8M645.3 982.2h11.8M653.4 972.0V984.9M647.5 972.0h11.8M647.5 984.9h11.8M655.6 965.6V980.2M649.7 965.6h11.8M649.7 980.2h11.8M657.8 963.0V984.4M651.9 963.0h11.8M651.9 984.4h11.8M660.1 968.5V980.1M654.2 968.5h11.8M654.2 980.1h11.8M662.4 960.7V975.7M656.5 960.7h11.8M656.5 975.7h11.8M664.6 971.5V985.9M658.7 971.5h11.8M658.7 985.9h11.8M666.7 967.1V976.0M660.8 967.1h11.8M660.8 976.0h11.8M669.0 967.3V980.2M663.1 967.3h11.8M663.1 980.2h11.8M671.2 950.0V961.8M665.3 950.0h11.8M665.3 961.8h11.8M673.1 889.3V901.1M667.2 889.3h11.8M667.2 901.1h11.8M675.0 890.6V902.5M669.1 890.6h11.8M669.1 902.5h11.8M677.5 906.8V918.7M671.6 906.8h11.8M671.6 918.7h11.8M679.4 912.2V924.1M673.5 912.2h11.8M673.5 924.1h11.8M682.3 919.8V931.6M676.4 919.8h11.8M676.4 931.6h11.8M684.7 917.6V929.5M678.8 917.6h11.8M678.8 929.5h11.8M687.1 923.0V934.9M681.2 923.0h11.8M681.2 934.9h11.8M689.9 928.4V940.2M684.0 928.4h11.8M684.0 940.2h11.8M692.8 923.0V934.9M686.9 923.0h11.8M686.9 934.9h11.8M695.7 925.7V937.5M689.8 925.7h11.8M689.8 937.5h11.8M697.6 916.8V928.7M691.7 916.8h11.8M691.7 928.7h11.8M699.5 928.4V940.2M693.6 928.4h11.8M693.6 940.2h11.8M702.0 950.0V961.8M696.1 950.0h11.8M696.1 961.8h11.8M704.2 959.7V973.0M698.3 959.7h11.8M698.3 973.0h11.8M706.4 965.1V975.7M700.5 965.1h11.8M700.5 975.7h11.8M708.7 975.7V987.7M702.8 975.7h11.8M702.8 987.7h11.8M710.9 961.6V976.8M705.0 961.6h11.8M705.0 976.8h11.8M713.3 960.5V971.2M707.4 960.5h11.8M707.4 971.2h11.8M715.3 954.1V970.1M709.4 954.1h11.8M709.4 970.1h11.8M717.6 967.5V983.4M711.7 967.5h11.8M711.7 983.4h11.8M719.9 965.0V978.8M714.0 965.0h11.8M714.0 978.8h11.8M721.9 960.5V973.5M716.0 960.5h11.8M716.0 973.5h11.8M724.2 969.8V984.2M718.3 969.8h11.8M718.3 984.2h11.8M726.4 960.8V976.8M720.5 960.8h11.8M720.5 976.8h11.8M728.7 964.4V979.0M722.8 964.4h11.8M722.8 979.0h11.8M731.0 963.7V975.9M725.1 963.7h11.8M725.1 975.9h11.8M732.9 971.8V981.0M727.0 971.8h11.8M727.0 981.0h11.8M735.4 962.5V979.2M729.5 962.5h11.8M729.5 979.2h11.8M737.6 971.7V988.5M731.7 971.7h11.8M731.7 988.5h11.8M739.6 955.9V969.0M733.7 955.9h11.8M733.7 969.0h11.8M741.8 960.4V977.9M735.9 960.4h11.8M735.9 977.9h11.8M744.1 961.0V973.1M738.2 961.0h11.8M738.2 973.1h11.8M746.4 975.5V984.2M740.5 975.5h11.8M740.5 984.2h11.8M748.4 963.9V982.5M742.5 963.9h11.8M742.5 982.5h11.8M750.8 969.8V982.1M744.9 969.8h11.8M744.9 982.1h11.8M753.1 977.2V987.9M747.2 977.2h11.8M747.2 987.9h11.8M755.0 989.7V1003.1M749.1 989.7h11.8M749.1 1003.1h11.8M757.3 959.2V974.2M751.4 959.2h11.8M751.4 974.2h11.8M759.6 974.4V984.0M753.7 974.4h11.8M753.7 984.0h11.8M761.7 984.7V1001.5M755.8 984.7h11.8M755.8 1001.5h11.8M764.0 980.9V993.6M758.1 980.9h11.8M758.1 993.6h11.8M766.3 968.6V982.6M760.4 968.6h11.8M760.4 982.6h11.8M768.5 974.0V987.2M762.6 974.0h11.8M762.6 987.2h11.8M770.7 975.2V985.1M764.8 975.2h11.8M764.8 985.1h11.8M772.8 971.3V987.2M766.9 971.3h11.8M766.9 987.2h11.8M775.2 958.0V975.6M769.3 958.0h11.8M769.3 975.6h11.8M777.1 961.8V972.3M771.2 961.8h11.8M771.2 972.3h11.8M779.5 958.9V975.9M773.6 958.9h11.8M773.6 975.9h11.8M781.6 950.2V964.0M775.7 950.2h11.8M775.7 964.0h11.8M784.0 957.9V970.9M778.1 957.9h11.8M778.1 970.9h11.8M786.2 968.4V984.0M780.3 968.4h11.8M780.3 984.0h11.8M788.2 962.0V971.1M782.3 962.0h11.8M782.3 971.1h11.8M790.5 967.7V982.9M784.6 967.7h11.8M784.6 982.9h11.8M792.6 963.4V979.5M786.7 963.4h11.8M786.7 979.5h11.8M794.9 962.3V973.9M789.0 962.3h11.8M789.0 973.9h11.8M797.1 959.3V973.4M791.2 959.3h11.8M791.2 973.4h11.8M799.4 959.0V969.8M793.5 959.0h11.8M793.5 969.8h11.8M801.6 961.9V973.0M795.7 961.9h11.8M795.7 973.0h11.8" stroke="#00f" stroke-width="1.5" fill="none"/>
<path d="M146.0 959.3h11.8M151.9 953.4v11.8M147.6 955.0l8.6 8.6M147.6 963.6l8.6 -8.6M148.1 963.6h11.8M154.0 957.7v11.8M149.7 959.3l8.6 8.6M149.7 967.9l8.6 -8.6M150.4 954.3h11.8M156.3 948.4v11.8M152.0 950.0l8.6 8.6M152.0 958.6l8.6 -8.6M152.5 964.8h11.8M158.4 958.9v11.8M154.1 960.5l8.6 8.6M154.1 969.1l8.6 -8.6M154.8 983.5h11.8M160.7 977.6v11.8M156.4 979.2l8.6 8.6M156.4 987.8l8.6 -8.6M156.9 967.9h11.8M162.8 962.0v11.8M158.5 963.6l8.6 8.6M158.5 972.2l8.6 -8.6M159.3 963.6h11.8M165.2 957.7v11.8M160.9 959.3l8.6 8.6M160.9 967.9l8.6 -8.6M161.6 973.8h11.8M167.5 967.9v11.8M163.2 969.5l8.6 8.6M163.2 978.1l8.6 -8.6M163.7 969.1h11.8M169.6 963.2v11.8M165.3 964.8l8.6 8.6M165.3 973.4l8.6 -8.6M166.0 971.8h11.8M171.9 965.9v11.8M167.6 967.5l8.6 8.6M167.6 976.1l8.6 -8.6M168.1 980.4h11.8M174.0 974.5v11.8M169.7 976.1l8.6 8.6M169.7 984.7l8.6 -8.6M170.3 965.5h11.8M176.2 959.6v11.8M171.9 961.2l8.6 8.6M171.9 969.8l8.6 -8.6M172.4 974.5h11.8M178.3 968.6v11.8M174.0 970.2l8.6 8.6M174.0 978.8l8.6 -8.6M174.9 969.9h11.8M180.8 964.0v11.8M176.5 965.6l8.6 8.6M176.5 974.2l8.6 -8.6M177.1 969.5h11.8M183.0 963.6v11.8M178.7 965.2l8.6 8.6M178.7 973.8l8.6 -8.6M179.2 963.3h11.8M185.1 957.4v11.8M180.8 959.0l8.6 8.6M180.8 967.6l8.6 -8.6M181.5 964.3h11.8M187.4 958.4v11.8M183.1 960.0l8.6 8.6M183.1 968.6l8.6 -8.6M183.6 970.6h11.8M189.5 964.7v11.8M185.2 966.3l8.6 8.6M185.2 974.9l8.6 -8.6M185.8 960.4h11.8M191.7 954.5v11.8M187.4 956.1l8.6 8.6M187.4 964.7l8.6 -8.6M188.1 954.2h11.8M194.0 948.3v11.8M189.7 949.9l8.6 8.6M189.7 958.5l8.6 -8.6M190.3 965.4h11.8M196.2 959.5v11.8M191.9 961.1l8.6 8.6M191.9 969.7l8.6 -8.6M192.3 970.1h11.8M198.2 964.2v11.8M193.9 965.8l8.6 8.6M193.9 974.4l8.6 -8.6M194.6 969.6h11.8M200.5 963.7v11.8M196.2 965.3l8.6 8.6M196.2 973.9l8.6 -8.6M197.0 970.4h11.8M202.9 964.5v11.8M198.6 966.1l8.6 8.6M198.6 974.7l8.6 -8.6M198.9 971.7h11.8M204.8 965.8v11.8M200.5 967.4l8.6 8.6M200.5 976.0l8.6 -8.6M201.3 959.7h11.8M207.2 953.8v11.8M202.9 955.4l8.6 8.6M202.9 964.0l8.6 -8.6M203.6 963.0h11.8M209.5 957.1v11.8M205.2 958.7l8.6 8.6M205.2 967.3l8.6 -8.6M205.6 970.8h11.8M211.5 964.9v11.8M207.2 966.5l8.6 8.6M207.2 975.1l8.6 -8.6M207.8 974.7h11.8M213.7 968.8v11.8M209.4 970.4l8.6 8.6M209.4 979.0l8.6 -8.6M210.1 986.4h11.8M216.0 980.5v11.8M211.7 982.1l8.6 8.6M211.7 990.7l8.6 -8.6M212.3 978.1h11.8M218.2 972.2v11.8M213.9 973.8l8.6 8.6M213.9 982.4l8.6 -8.6M214.6 973.3h11.8M220.5 967.4v11.8M216.2 969.0l8.6 8.6M216.2 977.6l8.6 -8.6M216.9 970.2h11.8M222.8 964.3v11.8M218.5 965.9l8.6 8.6M218.5 974.5l8.6 -8.6M218.8 962.4h11.8M224.7 956.5v11.8M220.4 958.1l8.6 8.6M220.4 966.7l8.6 -8.6M221.2 969.5h11.8M227.1 963.6v11.8M222.8 965.2l8.6 8.6M222.8 973.8l8.6 -8.6M223.5 977.7h11.8M229.4 971.8v11.8M225.1 973.4l8.6 8.6M225.1 982.0l8.6 -8.6M225.4 975.1h11.8M231.3 969.2v11.8M227.0 970.8l8.6 8.6M227.0 979.4l8.6 -8.6M227.7 972.5h11.8M233.6 966.6v11.8M229.3 968.2l8.6 8.6M229.3 976.8l8.6 -8.6M229.9 970.6h11.8M235.8 964.7v11.8M231.5 966.3l8.6 8.6M231.5 974.9l8.6 -8.6M232.4 948.3h11.8M238.3 942.4v11.8M234.0 944.0l8.6 8.6M234.0 952.6l8.6 -8.6M234.4 974.2h11.8M240.3 968.3v11.8M236.0 969.9l8.6 8.6M236.0 978.5l8.6 -8.6M236.6 969.5h11.8M242.5 963.6v11.8M238.2 965.2l8.6 8.6M238.2 973.8l8.6 -8.6M238.8 957.4h11.8M244.7 951.5v11.8M240.4 953.1l8.6 8.6M240.4 961.7l8.6 -8.6M241.0 988.5h11.8M246.9 982.6v11.8M242.6 984.2l8.6 8.6M242.6 992.8l8.6 -8.6M243.2 965.9h11.8M249.1 960.0v11.8M244.8 961.6l8.6 8.6M244.8 970.2l8.6 -8.6M245.4 964.1h11.8M251.3 958.2v11.8M247.0 959.8l8.6 8.6M247.0 968.4l8.6 -8.6M247.8 963.6h11.8M253.7 957.7v11.8M249.4 959.3l8.6 8.6M249.4 967.9l8.6 -8.6M250.0 980.2h11.8M255.9 974.3v11.8M251.6 975.9l8.6 8.6M251.6 984.5l8.6 -8.6M252.0 965.7h11.8M257.9 959.8v11.8M253.6 961.4l8.6 8.6M253.6 970.0l8.6 -8.6M254.3 970.5h11.8M260.2 964.6v11.8M255.9 966.2l8.6 8.6M255.9 974.8l8.6 -8.6M256.4 975.6h11.8M262.3 969.7v11.8M258.0 971.3l8.6 8.6M258.0 979.9l8.6 -8.6M258.7 975.0h11.8M264.6 969.1v11.8M260.3 970.7l8.6 8.6M260.3 979.3l8.6 -8.6M260.9 972.6h11.8M266.8 966.7v11.8M262.5 968.3l8.6 8.6M262.5 976.9l8.6 -8.6M263.3 965.4h11.8M269.2 959.5v11.8M264.9 961.1l8.6 8.6M264.9 969.7l8.6 -8.6M265.3 972.9h11.8M271.2 967.0v11.8M266.9 968.6l8.6 8.6M266.9 977.2l8.6 -8.6M267.7 968.1h11.8M273.6 962.2v11.8M269.3 963.8l8.6 8.6M269.3 972.4l8.6 -8.6M269.9 971.7h11.8M275.8 965.8v11.8M271.5 967.4l8.6 8.6M271.5 976.0l8.6 -8.6M271.9 980.4h11.8M277.8 974.5v11.8M273.5 976.1l8.6 8.6M273.5 984.7l8.6 -8.6M274.3 968.3h11.8M280.2 962.4v11.8M275.9 964.0l8.6 8.6M275.9 972.6l8.6 -8.6M276.5 963.8h11.8M282.4 957.9v11.8M278.1 959.5l8.6 8.6M278.1 968.1l8.6 -8.6M278.7 973.6h11.8M284.6 967.7v11.8M280.3 969.3l8.6 8.6M280.3 977.9l8.6 -8.6M280.7 964.3h11.8M286.6 958.4v11.8M282.3 960.0l8.6 8.6M282.3 968.6l8.6 -8.6M282.9 973.0h11.8M288.8 967.1v11.8M284.5 968.7l8.6 8.6M284.5 977.3l8.6 -8.6M285.1 965.3h11.8M291.0 959.4v11.8M286.7 961.0l8.6 8.6M286.7 969.6l8.6 -8.6M287.5 970.3h11.8M293.4 964.4v11.8M289.1 966.0l8.6 8.6M289.1 974.6l8.6 -8.6M289.6 963.7h11.8M295.5 957.8v11.8M291.2 959.4l8.6 8.6M291.2 968.0l8.6 -8.6M291.7 969.8h11.8M297.6 963.9v11.8M293.3 965.5l8.6 8.6M293.3 974.1l8.6 -8.6M294.0 963.5h11.8M299.9 957.6v11.8M295.6 959.2l8.6 8.6M295.6 967.8l8.6 -8.6M296.5 972.7h11.8M302.4 966.8v11.8M298.1 968.4l8.6 8.6M298.1 977.0l8.6 -8.6M298.6 975.7h11.8M304.5 969.8v11.8M300.2 971.4l8.6 8.6M300.2 980.0l8.6 -8.6M300.5 959.1h11.8M306.4 953.2v11.8M302.1 954.8l8.6 8.6M302.1 963.4l8.6 -8.6M302.8 972.3h11.8M308.7 966.4v11.8M304.4 968.0l8.6 8.6M304.4 976.6l8.6 -8.6M305.2 976.7h11.8M311.1 970.8v11.8M306.8 972.4l8.6 8.6M306.8 981.0l8.6 -8.6M307.4 959.0h11.8M313.3 953.1v11.8M309.0 954.7l8.6 8.6M309.0 963.3l8.6 -8.6M309.4 969.1h11.8M315.3 963.2v11.8M311.0 964.8l8.6 8.6M311.0 973.4l8.6 -8.6M311.7 964.2h11.8M317.6 958.3v11.8M313.3 959.9l8.6 8.6M313.3 968.5l8.6 -8.6M313.9 952.3h11.8M319.8 946.4v11.8M315.5 948.0l8.6 8.6M315.5 956.6l8.6 -8.6M316.3 975.6h11.8M322.2 969.7v11.8M317.9 971.3l8.6 8.6M317.9 979.9l8.6 -8.6M318.5 970.3h11.8M324.4 964.4v11.8M320.1 966.0l8.6 8.6M320.1 974.6l8.6 -8.6M320.6 953.1h11.8M326.5 947.2v11.8M322.2 948.8l8.6 8.6M322.2 957.4l8.6 -8.6M322.9 966.3h11.8M328.8 960.4v11.8M324.5 962.0l8.6 8.6M324.5 970.6l8.6 -8.6M324.9 970.9h11.8M330.8 965.0v11.8M326.5 966.6l8.6 8.6M326.5 975.2l8.6 -8.6M327.2 968.3h11.8M333.1 962.4v11.8M328.8 964.0l8.6 8.6M328.8 972.6l8.6 -8.6M329.4 967.5h11.8M335.3 961.6v11.8M331.0 963.2l8.6 8.6M331.0 971.8l8.6 -8.6M331.6 967.1h11.8M337.5 961.2v11.8M333.2 962.8l8.6 8.6M333.2 971.4l8.6 -8.6M333.8 973.1h11.8M339.7 967.2v11.8M335.4 968.8l8.6 8.6M335.4 977.4l8.6 -8.6M335.9 968.9h11.8M341.8 963.0v11.8M337.5 964.6l8.6 8.6M337.5 973.2l8.6 -8.6M338.2 981.3h11.8M344.1 975.4v11.8M339.8 977.0l8.6 8.6M339.8 985.6l8.6 -8.6M340.4 977.4h11.8M346.3 971.5v11.8M342.0 973.1l8.6 8.6M342.0 981.7l8.6 -8.6M342.6 979.4h11.8M348.5 973.5v11.8M344.2 975.1l8.6 8.6M344.2 983.7l8.6 -8.6M344.8 968.9h11.8M350.7 963.0v11.8M346.4 964.6l8.6 8.6M346.4 973.2l8.6 -8.6M347.3 969.4h11.8M353.2 963.5v11.8M348.9 965.1l8.6 8.6M348.9 973.7l8.6 -8.6M349.5 977.2h11.8M355.4 971.3v11.8M351.1 972.9l8.6 8.6M351.1 981.5l8.6 -8.6M351.4 970.1h11.8M357.3 964.2v11.8M353.0 965.8l8.6 8.6M353.0 974.4l8.6 -8.6M353.9 967.7h11.8M359.8 961.8v11.8M355.5 963.4l8.6 8.6M355.5 972.0l8.6 -8.6M355.8 975.4h11.8M361.7 969.5v11.8M357.4 971.1l8.6 8.6M357.4 979.7l8.6 -8.6M358.2 974.2h11.8M364.1 968.3v11.8M359.8 969.9l8.6 8.6M359.8 978.5l8.6 -8.6M360.3 960.4h11.8M366.2 954.5v11.8M361.9 956.1l8.6 8.6M361.9 964.7l8.6 -8.6M362.7 965.5h11.8M368.6 959.6v11.8M364.3 961.2l8.6 8.6M364.3 969.8l8.6 -8.6M364.7 981.3h11.8M370.6 975.4v11.8M366.3 977.0l8.6 8.6M366.3 985.6l8.6 -8.6M366.9 971.7h11.8M372.8 965.8v11.8M368.5 967.4l8.6 8.6M368.5 976.0l8.6 -8.6M369.2 974.1h11.8M375.1 968.2v11.8M370.8 969.8l8.6 8.6M370.8 978.4l8.6 -8.6M371.3 961.2h11.8M377.2 955.3v11.8M372.9 956.9l8.6 8.6M372.9 965.5l8.6 -8.6M373.5 975.4h11.8M379.4 969.5v11.8M375.1 971.1l8.6 8.6M375.1 979.7l8.6 -8.6M375.9 960.4h11.8M381.8 954.5v11.8M377.5 956.1l8.6 8.6M377.5 964.7l8.6 -8.6M378.2 975.7h11.8M384.1 969.8v11.8M379.8 971.4l8.6 8.6M379.8 980.0l8.6 -8.6M380.4 964.1h11.8M386.3 958.2v11.8M382.0 959.8l8.6 8.6M382.0 968.4l8.6 -8.6M382.5 979.1h11.8M388.4 973.2v11.8M384.1 974.8l8.6 8.6M384.1 983.4l8.6 -8.6M384.6 963.0h11.8M390.5 957.1v11.8M386.2 958.7l8.6 8.6M386.2 967.3l8.6 -8.6M386.9 978.7h11.8M392.8 972.8v11.8M388.5 974.4l8.6 8.6M388.5 983.0l8.6 -8.6M389.2 961.3h11.8M395.1 955.4v11.8M390.8 957.0l8.6 8.6M390.8 965.6l8.6 -8.6M391.2 974.3h11.8M397.1 968.4v11.8M392.8 970.0l8.6 8.6M392.8 978.6l8.6 -8.6M393.7 979.3h11.8M399.6 973.4v11.8M395.3 975.0l8.6 8.6M395.3 983.6l8.6 -8.6M395.8 977.2h11.8M401.7 971.3v11.8M397.4 972.9l8.6 8.6M397.4 981.5l8.6 -8.6M397.9 978.3h11.8M403.8 972.4v11.8M399.5 974.0l8.6 8.6M399.5 982.6l8.6 -8.6M400.3 976.5h11.8M406.2 970.6v11.8M401.9 972.2l8.6 8.6M401.9 980.8l8.6 -8.6M402.5 959.5h11.8M408.4 953.6v11.8M404.1 955.2l8.6 8.6M404.1 963.8l8.6 -8.6M404.6 971.4h11.8M410.5 965.5v11.8M406.2 967.1l8.6 8.6M406.2 975.7l8.6 -8.6M406.6 974.1h11.8M412.5 968.2v11.8M408.2 969.8l8.6 8.6M408.2 978.4l8.6 -8.6M409.1 972.6h11.8M415.0 966.7v11.8M410.7 968.3l8.6 8.6M410.7 976.9l8.6 -8.6M411.2 973.0h11.8M417.1 967.1v11.8M412.8 968.7l8.6 8.6M412.8 977.3l8.6 -8.6M413.2 970.6h11.8M419.1 964.7v11.8M414.8 966.3l8.6 8.6M414.8 974.9l8.6 -8.6M415.7 977.6h11.8M421.6 971.7v11.8M417.3 973.3l8.6 8.6M417.3 981.9l8.6 -8.6M417.7 976.9h11.8M423.6 971.0v11.8M419.3 972.6l8.6 8.6M419.3 981.2l8.6 -8.6M419.9 968.2h11.8M425.8 962.3v11.8M421.5 963.9l8.6 8.6M421.5 972.5l8.6 -8.6M422.4 971.7h11.8M428.3 965.8v11.8M424.0 967.4l8.6 8.6M424.0 976.0l8.6 -8.6M424.5 971.5h11.8M430.4 965.6v11.8M426.1 967.2l8.6 8.6M426.1 975.8l8.6 -8.6M426.5 979.5h11.8M432.4 973.6v11.8M428.1 975.2l8.6 8.6M428.1 983.8l8.6 -8.6M428.7 979.5h11.8M434.6 973.6v11.8M430.3 975.2l8.6 8.6M430.3 983.8l8.6 -8.6M431.1 955.2h11.8M437.0 949.3v11.8M432.7 950.9l8.6 8.6M432.7 959.5l8.6 -8.6M433.1 967.4h11.8M439.0 961.5v11.8M434.7 963.1l8.6 8.6M434.7 971.7l8.6 -8.6M435.7 969.2h11.8M441.6 963.3v11.8M437.3 964.9l8.6 8.6M437.3 973.5l8.6 -8.6M437.6 970.0h11.8M443.5 964.1v11.8M439.2 965.7l8.6 8.6M439.2 974.3l8.6 -8.6M439.9 964.9h11.8M445.8 959.0v11.8M441.5 960.6l8.6 8.6M441.5 969.2l8.6 -8.6M442.2 979.6h11.8M448.1 973.7v11.8M443.8 975.3l8.6 8.6M443.8 983.9l8.6 -8.6M444.4 974.7h11.8M450.3 968.8v11.8M446.0 970.4l8.6 8.6M446.0 979.0l8.6 -8.6M446.7 961.1h11.8M452.6 955.2v11.8M448.3 956.8l8.6 8.6M448.3 965.4l8.6 -8.6M448.6 969.0h11.8M454.5 963.1v11.8M450.2 964.7l8.6 8.6M450.2 973.3l8.6 -8.6M451.1 968.8h11.8M457.0 962.9v11.8M452.7 964.5l8.6 8.6M452.7 973.1l8.6 -8.6M453.0 970.9h11.8M458.9 965.0v11.8M454.6 966.6l8.6 8.6M454.6 975.2l8.6 -8.6M455.3 976.7h11.8M461.2 970.8v11.8M456.9 972.4l8.6 8.6M456.9 981.0l8.6 -8.6M457.5 964.0h11.8M463.4 958.1v11.8M459.1 959.7l8.6 8.6M459.1 968.3l8.6 -8.6M459.7 978.1h11.8M465.6 972.2v11.8M461.3 973.8l8.6 8.6M461.3 982.4l8.6 -8.6M462.2 970.3h11.8M468.1 964.4v11.8M463.8 966.0l8.6 8.6M463.8 974.6l8.6 -8.6M464.1 985.8h11.8M470.0 979.9v11.8M465.7 981.5l8.6 8.6M465.7 990.1l8.6 -8.6M466.5 963.1h11.8M472.4 957.2v11.8M468.1 958.8l8.6 8.6M468.1 967.4l8.6 -8.6M468.7 983.3h11.8M474.6 977.4v11.8M470.3 979.0l8.6 8.6M470.3 987.6l8.6 -8.6M470.8 970.7h11.8M476.7 964.8v11.8M472.4 966.4l8.6 8.6M472.4 975.0l8.6 -8.6M473.2 973.9h11.8M479.1 968.0v11.8M474.8 969.6l8.6 8.6M474.8 978.2l8.6 -8.6M475.2 964.9h11.8M481.1 959.0v11.8M476.8 960.6l8.6 8.6M476.8 969.2l8.6 -8.6M477.4 974.1h11.8M483.3 968.2v11.8M479.0 969.8l8.6 8.6M479.0 978.4l8.6 -8.6M479.6 968.9h11.8M485.5 963.0v11.8M481.2 964.6l8.6 8.6M481.2 973.2l8.6 -8.6M481.8 976.7h11.8M487.7 970.8v11.8M483.4 972.4l8.6 8.6M483.4 981.0l8.6 -8.6M484.1 977.7h11.8M490.0 971.8v11.8M485.7 973.4l8.6 8.6M485.7 982.0l8.6 -8.6M486.2 957.6h11.8M492.1 951.7v11.8M487.8 953.3l8.6 8.6M487.8 961.9l8.6 -8.6M488.5 966.3h11.8M494.4 960.4v11.8M490.1 962.0l8.6 8.6M490.1 970.6l8.6 -8.6M490.9 968.2h11.8M496.8 962.3v11.8M492.5 963.9l8.6 8.6M492.5 972.5l8.6 -8.6M493.1 982.3h11.8M499.0 976.4v11.8M494.7 978.0l8.6 8.6M494.7 986.6l8.6 -8.6M495.0 973.5h11.8M500.9 967.6v11.8M496.6 969.2l8.6 8.6M496.6 977.8l8.6 -8.6M497.3 972.5h11.8M503.2 966.6v11.8M498.9 968.2l8.6 8.6M498.9 976.8l8.6 -8.6M499.5 973.8h11.8M505.4 967.9v11.8M501.1 969.5l8.6 8.6M501.1 978.1l8.6 -8.6M501.7 961.0h11.8M507.6 955.1v11.8M503.3 956.7l8.6 8.6M503.3 965.3l8.6 -8.6M503.9 958.6h11.8M509.8 952.7v11.8M505.5 954.3l8.6 8.6M505.5 962.9l8.6 -8.6M506.4 971.0h11.8M512.3 965.1v11.8M508.0 966.7l8.6 8.6M508.0 975.3l8.6 -8.6M508.4 974.4h11.8M514.3 968.5v11.8M510.0 970.1l8.6 8.6M510.0 978.7l8.6 -8.6M510.5 968.6h11.8M516.4 962.7v11.8M512.1 964.3l8.6 8.6M512.1 972.9l8.6 -8.6M512.8 971.9h11.8M518.7 966.0v11.8M514.4 967.6l8.6 8.6M514.4 976.2l8.6 -8.6M514.9 976.5h11.8M520.8 970.6v11.8M516.5 972.2l8.6 8.6M516.5 980.8l8.6 -8.6M517.2 967.1h11.8M523.1 961.2v11.8M518.8 962.8l8.6 8.6M518.8 971.4l8.6 -8.6M519.4 967.3h11.8M525.3 961.4v11.8M521.0 963.0l8.6 8.6M521.0 971.6l8.6 -8.6M521.7 971.1h11.8M527.6 965.2v11.8M523.3 966.8l8.6 8.6M523.3 975.4l8.6 -8.6M523.8 967.2h11.8M529.7 961.3v11.8M525.4 962.9l8.6 8.6M525.4 971.5l8.6 -8.6M526.2 983.6h11.8M532.1 977.7v11.8M527.8 979.3l8.6 8.6M527.8 987.9l8.6 -8.6M528.3 965.1h11.8M534.2 959.2v11.8M529.9 960.8l8.6 8.6M529.9 969.4l8.6 -8.6M530.6 974.4h11.8M536.5 968.5v11.8M532.2 970.1l8.6 8.6M532.2 978.7l8.6 -8.6M532.6 976.3h11.8M538.5 970.4v11.8M534.2 972.0l8.6 8.6M534.2 980.6l8.6 -8.6M534.8 977.0h11.8M540.7 971.1v11.8M536.4 972.7l8.6 8.6M536.4 981.3l8.6 -8.6M537.3 970.1h11.8M543.2 964.2v11.8M538.9 965.8l8.6 8.6M538.9 974.4l8.6 -8.6M539.3 974.9h11.8M545.2 969.0v11.8M540.9 970.6l8.6 8.6M540.9 979.2l8.6 -8.6M541.7 966.2h11.8M547.6 960.3v11.8M543.3 961.9l8.6 8.6M543.3 970.5l8.6 -8.6M543.8 970.4h11.8M549.7 964.5v11.8M545.4 966.1l8.6 8.6M545.4 974.7l8.6 -8.6M545.8 964.1h11.8M551.7 958.2v11.8M547.4 959.8l8.6 8.6M547.4 968.4l8.6 -8.6M548.2 972.8h11.8M554.1 966.9v11.8M549.8 968.5l8.6 8.6M549.8 977.1l8.6 -8.6M550.4 973.3h11.8M556.3 967.4v11.8M552.0 969.0l8.6 8.6M552.0 977.6l8.6 -8.6M552.7 966.1h11.8M558.6 960.2v11.8M554.3 961.8l8.6 8.6M554.3 970.4l8.6 -8.6M554.8 976.9h11.8M560.7 971.0v11.8M556.4 972.6l8.6 8.6M556.4 981.2l8.6 -8.6M557.1 972.3h11.8M563.0 966.4v11.8M558.7 968.0l8.6 8.6M558.7 976.6l8.6 -8.6M559.2 966.8h11.8M565.1 960.9v11.8M560.8 962.5l8.6 8.6M560.8 971.1l8.6 -8.6M561.6 970.3h11.8M567.5 964.4v11.8M563.2 966.0l8.6 8.6M563.2 974.6l8.6 -8.6M563.6 967.6h11.8M569.5 961.7v11.8M565.2 963.3l8.6 8.6M565.2 971.9l8.6 -8.6M565.9 981.0h11.8M571.8 975.1v11.8M567.5 976.7l8.6 8.6M567.5 985.3l8.6 -8.6M568.3 962.4h11.8M574.2 956.5v11.8M569.9 958.1l8.6 8.6M569.9 966.7l8.6 -8.6M570.4 976.0h11.8M576.3 970.1v11.8M572.0 971.7l8.6 8.6M572.0 980.3l8.6 -8.6M572.5 969.1h11.8M578.4 963.2v11.8M574.1 964.8l8.6 8.6M574.1 973.4l8.6 -8.6M574.7 965.2h11.8M580.6 959.3v11.8M576.3 960.9l8.6 8.6M576.3 969.5l8.6 -8.6M577.0 984.5h11.8M582.9 978.6v11.8M578.6 980.2l8.6 8.6M578.6 988.8l8.6 -8.6M579.1 971.5h11.8M585.0 965.6v11.8M580.7 967.2l8.6 8.6M580.7 975.8l8.6 -8.6M581.4 964.6h11.8M587.3 958.7v11.8M583.0 960.3l8.6 8.6M583.0 968.9l8.6 -8.6M583.6 976.4h11.8M589.5 970.5v11.8M585.2 972.1l8.6 8.6M585.2 980.7l8.6 -8.6M585.8 976.6h11.8M591.7 970.7v11.8M587.4 972.3l8.6 8.6M587.4 980.9l8.6 -8.6M587.8 961.1h11.8M593.7 955.2v11.8M589.4 956.8l8.6 8.6M589.4 965.4l8.6 -8.6M590.3 970.4h11.8M596.2 964.5v11.8M591.9 966.1l8.6 8.6M591.9 974.7l8.6 -8.6M592.6 973.4h11.8M598.5 967.5v11.8M594.2 969.1l8.6 8.6M594.2 977.7l8.6 -8.6M594.7 959.7h11.8M600.6 953.8v11.8M596.3 955.4l8.6 8.6M596.3 964.0l8.6 -8.6M598.1 928.9h11.8M604.0 923.0v11.8M599.7 924.6l8.6 8.6M599.7 933.2l8.6 -8.6M600.5 906.8h11.8M606.4 900.9v11.8M602.1 902.5l8.6 8.6M602.1 911.1l8.6 -8.6M601.9 885.8h11.8M607.8 879.9v11.8M603.5 881.5l8.6 8.6M603.5 890.1l8.6 -8.6M603.3 881.7h11.8M609.2 875.8v11.8M604.9 877.4l8.6 8.6M604.9 886.0l8.6 -8.6M604.3 879.0h11.8M610.2 873.1v11.8M605.9 874.7l8.6 8.6M605.9 883.3l8.6 -8.6M605.7 883.1h11.8M611.6 877.2v11.8M607.3 878.8l8.6 8.6M607.3 887.4l8.6 -8.6M606.7 879.0h11.8M612.6 873.1v11.8M608.3 874.7l8.6 8.6M608.3 883.3l8.6 -8.6M608.1 885.8h11.8M614.0 879.9v11.8M609.7 881.5l8.6 8.6M609.7 890.1l8.6 -8.6M609.1 889.8h11.8M615.0 883.9v11.8M610.7 885.5l8.6 8.6M610.7 894.1l8.6 -8.6M611.5 887.1h11.8M617.4 881.2v11.8M613.1 882.8l8.6 8.6M613.1 891.4l8.6 -8.6M614.9 916.5h11.8M620.8 910.6v11.8M616.5 912.2l8.6 8.6M616.5 920.8l8.6 -8.6M616.8 916.8h11.8M622.7 910.9v11.8M618.4 912.5l8.6 8.6M618.4 921.1l8.6 -8.6M619.2 930.3h11.8M625.1 924.4v11.8M620.8 926.0l8.6 8.6M620.8 934.6l8.6 -8.6M621.1 920.0h11.8M627.0 914.1v11.8M622.7 915.7l8.6 8.6M622.7 924.3l8.6 -8.6M623.5 915.4h11.8M629.4 909.5v11.8M625.1 911.1l8.6 8.6M625.1 919.7l8.6 -8.6M625.9 911.9h11.8M631.8 906.0v11.8M627.5 907.6l8.6 8.6M627.5 916.2l8.6 -8.6M627.4 916.8h11.8M633.3 910.9v11.8M629.0 912.5l8.6 8.6M629.0 921.1l8.6 -8.6M629.8 916.5h11.8M635.7 910.6v11.8M631.4 912.2l8.6 8.6M631.4 920.8l8.6 -8.6M632.2 947.3h11.8M638.1 941.4v11.8M633.8 943.0l8.6 8.6M633.8 951.6l8.6 -8.6M634.6 964.0h11.8M640.5 958.1v11.8M636.2 959.7l8.6 8.6M636.2 968.3l8.6 -8.6M636.4 976.2h11.8M642.3 970.3v11.8M638.0 971.9l8.6 8.6M638.0 980.5l8.6 -8.6M638.6 965.8h11.8M644.5 959.9v11.8M640.2 961.5l8.6 8.6M640.2 970.1l8.6 -8.6M641.0 969.4h11.8M646.9 963.5v11.8M642.6 965.1l8.6 8.6M642.6 973.7l8.6 -8.6M642.9 976.3h11.8M648.8 970.4v11.8M644.5 972.0l8.6 8.6M644.5 980.6l8.6 -8.6M645.3 972.6h11.8M651.2 966.7v11.8M646.9 968.3l8.6 8.6M646.9 976.9l8.6 -8.6M647.5 978.5h11.8M653.4 972.6v11.8M649.1 974.2l8.6 8.6M649.1 982.8l8.6 -8.6M649.7 972.9h11.8M655.6 967.0v11.8M651.3 968.6l8.6 8.6M651.3 977.2l8.6 -8.6M651.9 973.7h11.8M657.8 967.8v11.8M653.5 969.4l8.6 8.6M653.5 978.0l8.6 -8.6M654.2 974.3h11.8M660.1 968.4v11.8M655.8 970.0l8.6 8.6M655.8 978.6l8.6 -8.6M656.5 968.2h11.8M662.4 962.3v11.8M658.1 963.9l8.6 8.6M658.1 972.5l8.6 -8.6M658.7 978.7h11.8M664.6 972.8v11.8M660.3 974.4l8.6 8.6M660.3 983.0l8.6 -8.6M660.8 971.6h11.8M666.7 965.7v11.8M662.4 967.3l8.6 8.6M662.4 975.9l8.6 -8.6M663.1 973.7h11.8M669.0 967.8v11.8M664.7 969.4l8.6 8.6M664.7 978.0l8.6 -8.6M665.3 955.9h11.8M671.2 950.0v11.8M666.9 951.6l8.6 8.6M666.9 960.2l8.6 -8.6M667.2 895.2h11.8M673.1 889.3v11.8M668.8 890.9l8.6 8.6M668.8 899.5l8.6 -8.6M669.1 896.6h11.8M675.0 890.7v11.8M670.8 892.3l8.6 8.6M670.8 900.9l8.6 -8.6M671.6 912.7h11.8M677.5 906.8v11.8M673.2 908.4l8.6 8.6M673.2 917.0l8.6 -8.6M673.5 918.1h11.8M679.4 912.2v11.8M675.1 913.8l8.6 8.6M675.1 922.4l8.6 -8.6M676.4 925.7h11.8M682.3 919.8v11.8M678.0 921.4l8.6 8.6M678.0 930.0l8.6 -8.6M678.8 923.5h11.8M684.7 917.6v11.8M680.4 919.2l8.6 8.6M680.4 927.8l8.6 -8.6M681.2 928.9h11.8M687.1 923.0v11.8M682.8 924.6l8.6 8.6M682.8 933.2l8.6 -8.6M684.0 934.3h11.8M689.9 928.4v11.8M685.6 930.0l8.6 8.6M685.6 938.6l8.6 -8.6M686.9 928.9h11.8M692.8 923.0v11.8M688.5 924.6l8.6 8.6M688.5 933.2l8.6 -8.6M689.8 931.6h11.8M695.7 925.7v11.8M691.4 927.3l8.6 8.6M691.4 935.9l8.6 -8.6M691.7 922.7h11.8M697.6 916.8v11.8M693.3 918.4l8.6 8.6M693.3 927.0l8.6 -8.6M693.6 934.3h11.8M699.5 928.4v11.8M695.2 930.0l8.6 8.6M695.2 938.6l8.6 -8.6M696.1 955.9h11.8M702.0 950.0v11.8M697.7 951.6l8.6 8.6M697.7 960.2l8.6 -8.6M698.3 966.4h11.8M704.2 960.5v11.8M699.9 962.1l8.6 8.6M699.9 970.7l8.6 -8.6M700.5 970.4h11.8M706.4 964.5v11.8M702.1 966.1l8.6 8.6M702.1 974.7l8.6 -8.6M702.8 981.7h11.8M708.7 975.8v11.8M704.4 977.4l8.6 8.6M704.4 986.0l8.6 -8.6M705.0 969.2h11.8M710.9 963.3v11.8M706.6 964.9l8.6 8.6M706.6 973.5l8.6 -8.6M707.4 965.8h11.8M713.3 959.9v11.8M709.0 961.5l8.6 8.6M709.0 970.1l8.6 -8.6M709.4 962.1h11.8M715.3 956.2v11.8M711.0 957.8l8.6 8.6M711.0 966.4l8.6 -8.6M711.7 975.4h11.8M717.6 969.5v11.8M713.3 971.1l8.6 8.6M713.3 979.7l8.6 -8.6M714.0 971.9h11.8M719.9 966.0v11.8M715.6 967.6l8.6 8.6M715.6 976.2l8.6 -8.6M716.0 967.0h11.8M721.9 961.1v11.8M717.6 962.7l8.6 8.6M717.6 971.3l8.6 -8.6M718.3 977.0h11.8M724.2 971.1v11.8M719.9 972.7l8.6 8.6M719.9 981.3l8.6 -8.6M720.5 968.8h11.8M726.4 962.9v11.8M722.1 964.5l8.6 8.6M722.1 973.1l8.6 -8.6M722.8 971.7h11.8M728.7 965.8v11.8M724.4 967.4l8.6 8.6M724.4 976.0l8.6 -8.6M725.1 969.8h11.8M731.0 963.9v11.8M726.7 965.5l8.6 8.6M726.7 974.1l8.6 -8.6M727.0 976.4h11.8M732.9 970.5v11.8M728.6 972.1l8.6 8.6M728.6 980.7l8.6 -8.6M729.5 970.8h11.8M735.4 964.9v11.8M731.1 966.5l8.6 8.6M731.1 975.1l8.6 -8.6M731.7 980.1h11.8M737.6 974.2v11.8M733.3 975.8l8.6 8.6M733.3 984.4l8.6 -8.6M733.7 962.5h11.8M739.6 956.6v11.8M735.3 958.2l8.6 8.6M735.3 966.8l8.6 -8.6M735.9 969.2h11.8M741.8 963.3v11.8M737.5 964.9l8.6 8.6M737.5 973.5l8.6 -8.6M738.2 967.0h11.8M744.1 961.1v11.8M739.8 962.7l8.6 8.6M739.8 971.3l8.6 -8.6M740.5 979.9h11.8M746.4 974.0v11.8M742.1 975.6l8.6 8.6M742.1 984.2l8.6 -8.6M742.5 973.2h11.8M748.4 967.3v11.8M744.1 968.9l8.6 8.6M744.1 977.5l8.6 -8.6M744.9 975.9h11.8M750.8 970.0v11.8M746.5 971.6l8.6 8.6M746.5 980.2l8.6 -8.6M747.2 982.5h11.8M753.1 976.6v11.8M748.8 978.2l8.6 8.6M748.8 986.8l8.6 -8.6M749.1 996.4h11.8M755.0 990.5v11.8M750.7 992.1l8.6 8.6M750.7 1000.7l8.6 -8.6M751.4 966.7h11.8M757.3 960.8v11.8M753.0 962.4l8.6 8.6M753.0 971.0l8.6 -8.6M753.7 979.2h11.8M759.6 973.3v11.8M755.3 974.9l8.6 8.6M755.3 983.5l8.6 -8.6M755.8 993.1h11.8M761.7 987.2v11.8M757.4 988.8l8.6 8.6M757.4 997.4l8.6 -8.6M758.1 987.3h11.8M764.0 981.4v11.8M759.7 983.0l8.6 8.6M759.7 991.6l8.6 -8.6M760.4 975.6h11.8M766.3 969.7v11.8M762.0 971.3l8.6 8.6M762.0 979.9l8.6 -8.6M762.6 980.6h11.8M768.5 974.7v11.8M764.2 976.3l8.6 8.6M764.2 984.9l8.6 -8.6M764.8 980.2h11.8M770.7 974.3v11.8M766.4 975.9l8.6 8.6M766.4 984.5l8.6 -8.6M766.9 979.2h11.8M772.8 973.3v11.8M768.5 974.9l8.6 8.6M768.5 983.5l8.6 -8.6M769.3 966.8h11.8M775.2 960.9v11.8M770.9 962.5l8.6 8.6M770.9 971.1l8.6 -8.6M771.2 967.1h11.8M777.1 961.2v11.8M772.8 962.8l8.6 8.6M772.8 971.4l8.6 -8.6M773.6 967.4h11.8M779.5 961.5v11.8M775.2 963.1l8.6 8.6M775.2 971.7l8.6 -8.6M775.7 957.1h11.8M781.6 951.2v11.8M777.3 952.8l8.6 8.6M777.3 961.4l8.6 -8.6M778.1 964.4h11.8M784.0 958.5v11.8M779.7 960.1l8.6 8.6M779.7 968.7l8.6 -8.6M780.3 976.2h11.8M786.2 970.3v11.8M781.9 971.9l8.6 8.6M781.9 980.5l8.6 -8.6M782.3 966.5h11.8M788.2 960.6v11.8M783.9 962.2l8.6 8.6M783.9 970.8l8.6 -8.6M784.6 975.3h11.8M790.5 969.4v11.8M786.2 971.0l8.6 8.6M786.2 979.6l8.6 -8.6M786.7 971.5h11.8M792.6 965.6v11.8M788.3 967.2l8.6 8.6M788.3 975.8l8.6 -8.6M789.0 968.1h11.8M794.9 962.2v11.8M790.6 963.8l8.6 8.6M790.6 972.4l8.6 -8.6M791.2 966.3h11.8M797.1 960.4v11.8M792.8 962.0l8.6 8.6M792.8 970.6l8.6 -8.6M793.5 964.4h11.8M799.4 958.5v11.8M795.1 960.1l8.6 8.6M795.1 968.7l8.6 -8.6M795.7 967.4h11.8M801.6 961.5v11.8M797.3 963.1l8.6 8.6M797.3 971.7l8.6 -8.6" stroke="#00f" stroke-width="1.6" fill="none"/>
<path d="M154.8 858.0V875.9M149.0 858.0h11.6M149.0 875.9h11.6M160.6 873.4V890.6M154.8 873.4h11.6M154.8 890.6h11.6M157.7 895.9V915.5M151.9 895.9h11.6M151.9 915.5h11.6M163.0 924.6V941.4M157.2 924.6h11.6M157.2 941.4h11.6M173.1 918.2V934.8M167.3 918.2h11.6M167.3 934.8h11.6M152.4 981.0V998.2M146.6 981.0h11.6M146.6 998.2h11.6M168.3 989.1V1008.4M162.5 989.1h11.6M162.5 1008.4h11.6M165.4 950.6V970.3M159.6 950.6h11.6M159.6 970.3h11.6M170.7 959.1V977.4M164.9 959.1h11.6M164.9 977.4h11.6M176.0 848.0V865.3M170.2 848.0h11.6M170.2 865.3h11.6M181.7 834.4V853.1M175.9 834.4h11.6M175.9 853.1h11.6M184.1 850.9V870.5M178.3 850.9h11.6M178.3 870.5h11.6M178.4 873.9V890.7M172.6 873.9h11.6M172.6 890.7h11.6M186.5 943.8V962.6M180.7 943.8h11.6M180.7 962.6h11.6M188.0 967.9V987.0M182.2 967.9h11.6M182.2 987.0h11.6M197.1 973.0V990.5M191.3 973.0h11.6M191.3 990.5h11.6M197.6 963.9V980.2M191.8 963.9h11.6M191.8 980.2h11.6M202.4 948.5V967.0M196.6 948.5h11.6M196.6 967.0h11.6M212.5 943.0V959.6M206.7 943.0h11.6M206.7 959.6h11.6M210.1 980.4V997.7M204.3 980.4h11.6M204.3 997.7h11.6M216.3 966.5V984.7M210.5 966.5h11.6M210.5 984.7h11.6M223.5 947.7V967.9M217.7 947.7h11.6M217.7 967.9h11.6M228.8 922.7V939.0M223.0 922.7h11.6M223.0 939.0h11.6M241.8 903.7V919.6M236.0 903.7h11.6M236.0 919.6h11.6M230.7 944.1V962.3M224.9 944.1h11.6M224.9 962.3h11.6M233.6 951.2V971.3M227.8 951.2h11.6M227.8 971.3h11.6M238.9 975.7V991.6M233.1 975.7h11.6M233.1 991.6h11.6M233.6 985.1V1003.8M227.8 985.1h11.6M227.8 1003.8h11.6M244.2 990.1V1005.8M238.4 990.1h11.6M238.4 1005.8h11.6M244.7 948.6V966.9M238.9 948.6h11.6M238.9 966.9h11.6M248.5 932.7V948.9M242.7 932.7h11.6M242.7 948.9h11.6M254.3 924.1V942.9M248.5 924.1h11.6M248.5 942.9h11.6M252.8 936.4V953.8M247.0 936.4h11.6M247.0 953.8h11.6M257.1 978.9V997.6M251.3 978.9h11.6M251.3 997.6h11.6M261.9 1003.8V1020.7M256.1 1003.8h11.6M256.1 1020.7h11.6M265.3 960.3V976.3M259.5 960.3h11.6M259.5 976.3h11.6M270.6 931.5V947.9M264.8 931.5h11.6M264.8 947.9h11.6M282.6 1000.3V1017.2M276.8 1000.3h11.6M276.8 1017.2h11.6M275.4 931.5V947.9M269.6 931.5h11.6M269.6 947.9h11.6M287.9 923.6V940.2M282.1 923.6h11.6M282.1 940.2h11.6M281.2 939.8V958.0M275.4 939.8h11.6M275.4 958.0h11.6M272.0 952.4V970.1M266.2 952.4h11.6M266.2 970.1h11.6M266.7 958.5V978.1M260.9 958.5h11.6M260.9 978.1h11.6M307.1 926.4V944.4M301.3 926.4h11.6M301.3 944.4h11.6M293.6 946.8V965.0M287.8 946.8h11.6M287.8 965.0h11.6M300.9 942.9V961.9M295.1 942.9h11.6M295.1 961.9h11.6M301.8 954.9V974.6M296.0 954.9h11.6M296.0 974.6h11.6M311.4 949.4V967.8M305.6 949.4h11.6M305.6 967.8h11.6M314.8 977.4V993.2M309.0 977.4h11.6M309.0 993.2h11.6M317.2 963.2V981.0M311.4 963.2h11.6M311.4 981.0h11.6M322.5 960.4V976.2M316.7 960.4h11.6M316.7 976.2h11.6M329.2 966.3V984.8M323.4 966.3h11.6M323.4 984.8h11.6M333.0 929.1V945.0M327.2 929.1h11.6M327.2 945.0h11.6M340.7 908.5V926.7M334.9 908.5h11.6M334.9 926.7h11.6M342.2 931.5V947.9M336.4 931.5h11.6M336.4 947.9h11.6M336.4 953.0V972.7M330.6 953.0h11.6M330.6 972.7h11.6M337.4 960.3V976.3M331.6 960.3h11.6M331.6 976.3h11.6M346.5 982.4V1001.1M340.7 982.4h11.6M340.7 1001.1h11.6M350.8 942.9V961.9M345.0 942.9h11.6M345.0 961.9h11.6M358.0 940.4V957.3M352.2 940.4h11.6M352.2 957.3h11.6M359.0 918.9V937.3M353.2 918.9h11.6M353.2 937.3h11.6M361.4 926.8V944.0M355.6 926.8h11.6M355.6 944.0h11.6M364.3 991.4V1008.3M358.5 991.4h11.6M358.5 1008.3h11.6M368.6 975.2V992.1M362.8 975.2h11.6M362.8 992.1h11.6M371.9 960.4V976.1M366.1 960.4h11.6M366.1 976.1h11.6M374.8 986.6V1005.5M369.0 986.6h11.6M369.0 1005.5h11.6M379.1 974.9V990.8M373.3 974.9h11.6M373.3 990.8h11.6M384.4 997.8V1014.3M378.6 997.8h11.6M378.6 1014.3h11.6M388.3 954.9V970.9M382.5 954.9h11.6M382.5 970.9h11.6M390.2 927.3V946.7M384.4 927.3h11.6M384.4 946.7h11.6M408.0 939.8V957.9M402.2 939.8h11.6M402.2 957.9h11.6M416.1 930.0V947.8M410.3 930.0h11.6M410.3 947.8h11.6M424.3 927.8V946.2M418.5 927.8h11.6M418.5 946.2h11.6M434.9 931.0V950.5M429.1 931.0h11.6M429.1 950.5h11.6M421.4 953.6V972.2M415.6 953.6h11.6M415.6 972.2h11.6M438.2 951.4V969.5M432.4 951.4h11.6M432.4 969.5h11.6M395.5 963.5V980.6M389.7 963.5h11.6M389.7 980.6h11.6M399.8 968.4V986.5M394.0 968.4h11.6M394.0 986.5h11.6M407.5 959.2V979.5M401.7 959.2h11.6M401.7 979.5h11.6M413.3 980.7V999.0M407.5 980.7h11.6M407.5 999.0h11.6M419.5 985.5V1003.4M413.7 985.5h11.6M413.7 1003.4h11.6M427.7 981.8V1001.7M421.9 981.8h11.6M421.9 1001.7h11.6M432.0 977.3V993.2M426.2 977.3h11.6M426.2 993.2h11.6M443.5 974.9V990.8M437.7 974.9h11.6M437.7 990.8h11.6M448.3 976.7V996.0M442.5 976.7h11.6M442.5 996.0h11.6M455.5 854.7V874.8M449.7 854.7h11.6M449.7 874.8h11.6M452.6 884.6V900.4M446.8 884.6h11.6M446.8 900.4h11.6M457.9 903.3V919.0M452.1 903.3h11.6M452.1 919.0h11.6M460.8 940.0V955.6M455.0 940.0h11.6M455.0 955.6h11.6M472.3 920.8V939.2M466.5 920.8h11.6M466.5 939.2h11.6M465.1 970.9V987.2M459.3 970.9h11.6M459.3 987.2h11.6M469.0 986.9V1005.2M463.2 986.9h11.6M463.2 1005.2h11.6M478.6 961.6V980.4M472.8 961.6h11.6M472.8 980.4h11.6M481.5 935.6V951.3M475.7 935.6h11.6M475.7 951.3h11.6M483.9 946.8V966.6M478.1 946.8h11.6M478.1 966.6h11.6M492.0 949.4V966.2M486.2 949.4h11.6M486.2 966.2h11.6M486.8 1001.5V1019.7M480.9 1001.5h11.6M480.9 1019.7h11.6M494.9 991.2V1008.5M489.1 991.2h11.6M489.1 1008.5h11.6M499.2 980.4V997.7M493.4 980.4h11.6M493.4 997.7h11.6M501.2 941.7V959.3M495.4 941.7h11.6M495.4 959.3h11.6M504.5 931.9V947.5M498.7 931.9h11.6M498.7 947.5h11.6M509.8 964.8V982.5M504.0 964.8h11.6M504.0 982.5h11.6M513.6 891.1V908.0M507.8 891.1h11.6M507.8 908.0h11.6M514.1 944.5V961.8M508.3 944.5h11.6M508.3 961.8h11.6M506.4 930.7V947.1M500.6 930.7h11.6M500.6 947.1h11.6M518.0 944.6V961.8M512.2 944.6h11.6M512.2 961.8h11.6M531.4 940.2V959.2M525.6 940.2h11.6M525.6 959.2h11.6M546.8 936.8V957.1M541.0 936.8h11.6M541.0 957.1h11.6M555.0 914.4V931.0M549.2 914.4h11.6M549.2 931.0h11.6M567.5 908.5V928.3M561.7 908.5h11.6M561.7 928.3h11.6M580.9 909.9V928.5M575.1 909.9h11.6M575.1 928.5h11.6M583.3 928.2V944.2M577.5 928.2h11.6M577.5 944.2h11.6M569.9 935.6V951.3M564.1 935.6h11.6M564.1 951.3h11.6M576.1 944.1V963.9M570.3 944.1h11.6M570.3 963.9h11.6M597.7 927.0V943.8M591.9 927.0h11.6M591.9 943.8h11.6M602.0 931.7V947.8M596.2 931.7h11.6M596.2 947.8h11.6M511.7 961.6V980.4M505.9 961.6h11.6M505.9 980.4h11.6M525.2 978.7V997.7M519.4 978.7h11.6M519.4 997.7h11.6M532.9 954.8V974.7M527.1 954.8h11.6M527.1 974.7h11.6M535.7 970.1V988.1M529.9 970.1h11.6M529.9 988.1h11.6M544.9 976.7V993.8M539.1 976.7h11.6M539.1 993.8h11.6M541.5 994.0V1011.1M535.7 994.0h11.6M535.7 1011.1h11.6M554.5 954.6V971.2M548.7 954.6h11.6M548.7 971.2h11.6M561.7 968.9V987.6M555.9 968.9h11.6M555.9 987.6h11.6M572.7 958.2V978.3M566.9 958.2h11.6M566.9 978.3h11.6M587.1 965.7V981.7M581.3 965.7h11.6M581.3 981.7h11.6M588.6 976.5V994.0M582.8 976.5h11.6M582.8 994.0h11.6M593.4 949.9V967.2M587.6 949.9h11.6M587.6 967.2h11.6M595.8 995.3V1011.3M590.0 995.3h11.6M590.0 1011.3h11.6M609.2 992.2V1010.7M603.4 992.2h11.6M603.4 1010.7h11.6M607.8 963.5V983.8M602.0 963.5h11.6M602.0 983.8h11.6M614.5 953.6V970.5M608.7 953.6h11.6M608.7 970.5h11.6M619.8 941.8V960.8M614.0 941.8h11.6M614.0 960.8h11.6M619.3 965.6V985.5M613.5 965.6h11.6M613.5 985.5h11.6M626.1 973.3V990.2M620.3 973.3h11.6M620.3 990.2h11.6M628.0 958.3V978.3M622.2 958.3h11.6M622.2 978.3h11.6M633.3 915.8V935.0M627.5 915.8h11.6M627.5 935.0h11.6M634.2 985.1V1003.8M628.4 985.1h11.6M628.4 1003.8h11.6M635.7 917.4V934.0M629.9 917.4h11.6M629.9 934.0h11.6M616.4 954.2V971.1M610.6 954.2h11.6M610.6 971.1h11.6M635.7 949.2V965.3M629.9 949.2h11.6M629.9 965.3h11.6M633.3 957.3V977.2M627.5 957.3h11.6M627.5 977.2h11.6M611.6 963.9V983.4M605.8 963.9h11.6M605.8 983.4h11.6M624.1 974.6V990.6M618.3 974.6h11.6M618.3 990.6h11.6M621.2 968.4V986.5M615.5 968.4h11.6M615.5 986.5h11.6M638.1 985.6V1002.2M632.3 985.6h11.6M632.3 1002.2h11.6M600.1 993.4V1012.7M594.3 993.4h11.6M594.3 1012.7h11.6M645.7 948.9V967.2M639.9 948.9h11.6M639.9 967.2h11.6M651.0 970.9V991.0M645.2 970.9h11.6M645.2 991.0h11.6M656.3 949.8V968.9M650.5 949.8h11.6M650.5 968.9h11.6M664.0 948.4V964.5M658.2 948.4h11.6M658.2 964.5h11.6M666.9 927.8V945.2M661.1 927.8h11.6M661.1 945.2h11.6M674.6 934.3V952.7M668.8 934.3h11.6M668.8 952.7h11.6M676.5 951.0V971.0M670.7 951.0h11.6M670.7 971.0h11.6M671.7 969.3V986.7M665.9 969.3h11.6M665.9 986.7h11.6M679.9 981.1V997.6M674.1 981.1h11.6M674.1 997.6h11.6M683.2 1000.0V1016.9M677.4 1000.0h11.6M677.4 1016.9h11.6M689.9 975.5V992.3M684.1 975.5h11.6M684.1 992.3h11.6M687.5 942.0V958.4M681.7 942.0h11.6M681.7 958.4h11.6M692.8 919.5V936.7M687.0 919.5h11.6M687.0 936.7h11.6M696.2 935.9V952.7M690.4 935.9h11.6M690.4 952.7h11.6M700.5 946.0V964.1M694.7 946.0h11.6M694.7 964.1h11.6M711.6 931.4V951.3M705.8 931.4h11.6M705.8 951.3h11.6M716.8 917.2V937.4M711.0 917.2h11.6M711.0 937.4h11.6M713.5 969.8V986.2M707.7 969.8h11.6M707.7 986.2h11.6M717.8 979.3V997.7M712.0 979.3h11.6M712.0 997.7h11.6M723.6 996.9V1015.7M717.8 996.9h11.6M717.8 1015.7h11.6M726.4 954.5V970.8M720.6 954.5h11.6M720.6 970.8h11.6M750.0 916.9V935.0M744.2 916.9h11.6M744.2 935.0h11.6M753.8 921.4V938.0M748.0 921.4h11.6M748.0 938.0h11.6M763.0 929.4V946.8M757.2 929.4h11.6M757.2 946.8h11.6M784.6 911.2V928.3M778.8 911.2h11.6M778.8 928.3h11.6M789.9 936.2V955.7M784.1 936.2h11.6M784.1 955.7h11.6M793.2 942.1V958.9M787.4 942.1h11.6M787.4 958.9h11.6M796.1 947.6V965.8M790.3 947.6h11.6M790.3 965.8h11.6M792.7 955.0V973.4M786.9 955.0h11.6M786.9 973.4h11.6M787.0 964.8V982.0M781.2 964.8h11.6M781.2 982.0h11.6M802.8 965.5V985.6M797.0 965.5h11.6M797.0 985.6h11.6M799.9 981.5V998.7M794.1 981.5h11.6M794.1 998.7h11.6M776.9 944.9V962.0M771.1 944.9h11.6M771.1 962.0h11.6M771.6 953.2V972.1M765.8 953.2h11.6M765.8 972.1h11.6M760.6 958.2V976.2M754.8 958.2h11.6M754.8 976.2h11.6M766.8 966.8V985.9M761.0 966.8h11.6M761.0 985.9h11.6M775.4 977.4V993.7M769.6 977.4h11.6M769.6 993.7h11.6M770.6 982.0V998.3M764.8 982.0h11.6M764.8 998.3h11.6M779.3 996.7V1015.9M773.5 996.7h11.6M773.5 1015.9h11.6M745.7 946.3V963.8M739.9 946.3h11.6M739.9 963.8h11.6M740.4 949.8V969.5M734.6 949.8h11.6M734.6 969.5h11.6M727.4 954.3V971.0M721.6 954.3h11.6M721.6 971.0h11.6M738.9 962.1V978.8M733.1 962.1h11.6M733.1 978.8h11.6M747.6 971.9V991.6M741.8 971.9h11.6M741.8 991.6h11.6M719.7 976.9V994.2M713.9 976.9h11.6M713.9 994.2h11.6M718.3 983.7V999.8M712.5 983.7h11.6M712.5 999.8h11.6M731.7 986.4V1003.0M725.9 986.4h11.6M725.9 1003.0h11.6M728.9 992.9V1012.2M723.1 992.9h11.6M723.1 1012.2h11.6M738.9 996.2V1013.1M733.1 996.2h11.6M733.1 1013.1h11.6M753.3 1000.9V1019.2M747.5 1000.9h11.6M747.5 1019.2h11.6M708.7 931.5V951.1M702.9 931.5h11.6M702.9 951.1h11.6M701.0 935.8V954.4M695.2 935.8h11.6M695.2 954.4h11.6M702.9 943.6V962.8M697.1 943.6h11.6M697.1 962.8h11.6M709.6 940.3V960.6M703.8 940.3h11.6M703.8 960.6h11.6M181.3 974.2V991.2M175.5 974.2h11.6M175.5 991.2h11.6M592.3 942.1V961.9M586.5 942.1h11.6M586.5 961.9h11.6M631.9 964.1V982.3M626.1 964.1h11.6M626.1 982.3h11.6M598.4 974.0V990.5M592.6 974.0h11.6M592.6 990.5h11.6M795.8 983.0V999.2M790.0 983.0h11.6M790.0 999.2h11.6M798.9 943.4V960.6M793.1 943.4h11.6M793.1 960.6h11.6M283.2 960.6V976.9M277.4 960.6h11.6M277.4 976.9h11.6M492.9 965.5V984.8M487.1 965.5h11.6M487.1 984.8h11.6M616.5 968.1V986.4M610.7 968.1h11.6M610.7 986.4h11.6M681.2 949.4V965.2M675.4 949.4h11.6M675.4 965.2h11.6M713.8 960.2V980.0M708.0 960.2h11.6M708.0 980.0h11.6M158.2 970.1V988.6M152.4 970.1h11.6M152.4 988.6h11.6M231.7 954.6V972.3M225.9 954.6h11.6M225.9 972.3h11.6M210.7 959.0V975.2M204.9 959.0h11.6M204.9 975.2h11.6M272.0 963.9V981.8M266.2 963.9h11.6M266.2 981.8h11.6M576.7 963.4V983.4M570.9 963.4h11.6M570.9 983.4h11.6M292.0 964.1V982.5M286.2 964.1h11.6M286.2 982.5h11.6M178.7 958.2V976.0M172.9 958.2h11.6M172.9 976.0h11.6M364.8 962.5V981.0M359.0 962.5h11.6M359.0 981.0h11.6M392.3 968.4V986.7M386.5 968.4h11.6M386.5 986.7h11.6M522.8 948.5V967.1M517.0 948.5h11.6M517.0 967.1h11.6M609.9 946.2V962.8M604.1 946.2h11.6M604.1 962.8h11.6M351.9 960.5V976.8M346.1 960.5h11.6M346.1 976.8h11.6M498.4 959.1V974.8M492.6 959.1h11.6M492.6 974.8h11.6M439.0 948.0V967.6M433.2 948.0h11.6M433.2 967.6h11.6M284.0 965.3V981.0M278.2 965.3h11.6M278.2 981.0h11.6M619.0 955.3V972.2M613.2 955.3h11.6M613.2 972.2h11.6M752.5 946.3V964.7M746.7 946.3h11.6M746.7 964.7h11.6M750.7 960.3V978.3M744.9 960.3h11.6M744.9 978.3h11.6M593.3 975.2V995.1M587.5 975.2h11.6M587.5 995.1h11.6M539.0 969.8V986.4M533.2 969.8h11.6M533.2 986.4h11.6M198.9 965.6V981.8M193.1 965.6h11.6M193.1 981.8h11.6M309.3 959.1V975.5M303.5 959.1h11.6M303.5 975.5h11.6M397.9 973.5V991.5M392.1 973.5h11.6M392.1 991.5h11.6M566.5 972.1V989.1M560.7 972.1h11.6M560.7 989.1h11.6M264.9 954.3V972.1M259.1 954.3h11.6M259.1 972.1h11.6M721.9 937.9V956.8M716.1 937.9h11.6M716.1 956.8h11.6M771.0 952.5V969.6M765.2 952.5h11.6M765.2 969.6h11.6M405.8 959.1V977.9M400.0 959.1h11.6M400.0 977.9h11.6M440.3 948.4V964.1M434.5 948.4h11.6M434.5 964.1h11.6" stroke="#f00" stroke-width="1.6" fill="none"/>
<g fill="#f00"><circle cx="154.8" cy="866.9" r="6.3"/><circle cx="160.6" cy="882.0" r="6.3"/><circle cx="157.7" cy="905.7" r="6.3"/><circle cx="163.0" cy="933.0" r="6.3"/><circle cx="173.1" cy="926.5" r="6.3"/><circle cx="152.4" cy="989.6" r="6.3"/><circle cx="168.3" cy="998.8" r="6.3"/><circle cx="165.4" cy="960.5" r="6.3"/><circle cx="170.7" cy="968.3" r="6.3"/><circle cx="176.0" cy="856.7" r="6.3"/><circle cx="181.7" cy="843.7" r="6.3"/><circle cx="184.1" cy="860.7" r="6.3"/><circle cx="178.4" cy="882.3" r="6.3"/><circle cx="186.5" cy="953.2" r="6.3"/><circle cx="188.0" cy="977.5" r="6.3"/><circle cx="197.1" cy="981.8" r="6.3"/><circle cx="197.6" cy="972.1" r="6.3"/><circle cx="202.4" cy="957.8" r="6.3"/><circle cx="212.5" cy="951.3" r="6.3"/><circle cx="210.1" cy="989.0" r="6.3"/><circle cx="216.3" cy="975.6" r="6.3"/><circle cx="223.5" cy="957.8" r="6.3"/><circle cx="228.8" cy="930.8" r="6.3"/><circle cx="241.8" cy="911.7" r="6.3"/><circle cx="230.7" cy="953.2" r="6.3"/><circle cx="233.6" cy="961.3" r="6.3"/><circle cx="238.9" cy="983.7" r="6.3"/><circle cx="233.6" cy="994.4" r="6.3"/><circle cx="244.2" cy="997.9" r="6.3"/><circle cx="244.7" cy="957.8" r="6.3"/><circle cx="248.5" cy="940.8" r="6.3"/><circle cx="254.3" cy="933.5" r="6.3"/><circle cx="252.8" cy="945.1" r="6.3"/><circle cx="257.1" cy="988.2" r="6.3"/><circle cx="261.9" cy="1012.2" r="6.3"/><circle cx="265.3" cy="968.3" r="6.3"/><circle cx="270.6" cy="939.7" r="6.3"/><circle cx="282.6" cy="1008.7" r="6.3"/><circle cx="275.4" cy="939.7" r="6.3"/><circle cx="287.9" cy="931.9" r="6.3"/><circle cx="281.2" cy="948.9" r="6.3"/><circle cx="272.0" cy="961.3" r="6.3"/><circle cx="266.7" cy="968.3" r="6.3"/><circle cx="307.1" cy="935.4" r="6.3"/><circle cx="293.6" cy="955.9" r="6.3"/><circle cx="300.9" cy="952.4" r="6.3"/><circle cx="301.8" cy="964.8" r="6.3"/><circle cx="311.4" cy="958.6" r="6.3"/><circle cx="314.8" cy="985.3" r="6.3"/><circle cx="317.2" cy="972.1" r="6.3"/><circle cx="322.5" cy="968.3" r="6.3"/><circle cx="329.2" cy="975.6" r="6.3"/><circle cx="333.0" cy="937.0" r="6.3"/><circle cx="340.7" cy="917.6" r="6.3"/><circle cx="342.2" cy="939.7" r="6.3"/><circle cx="336.4" cy="962.9" r="6.3"/><circle cx="337.4" cy="968.3" r="6.3"/><circle cx="346.5" cy="991.7" r="6.3"/><circle cx="350.8" cy="952.4" r="6.3"/><circle cx="358.0" cy="948.9" r="6.3"/><circle cx="359.0" cy="928.1" r="6.3"/><circle cx="361.4" cy="935.4" r="6.3"/><circle cx="364.3" cy="999.8" r="6.3"/><circle cx="368.6" cy="983.7" r="6.3"/><circle cx="371.9" cy="968.3" r="6.3"/><circle cx="374.8" cy="996.1" r="6.3"/><circle cx="379.1" cy="982.8" r="6.3"/><circle cx="384.4" cy="1006.0" r="6.3"/><circle cx="388.3" cy="962.9" r="6.3"/><circle cx="390.2" cy="937.0" r="6.3"/><circle cx="408.0" cy="948.9" r="6.3"/><circle cx="416.1" cy="938.9" r="6.3"/><circle cx="424.3" cy="937.0" r="6.3"/><circle cx="434.9" cy="940.8" r="6.3"/><circle cx="421.4" cy="962.9" r="6.3"/><circle cx="438.2" cy="960.5" r="6.3"/><circle cx="395.5" cy="972.1" r="6.3"/><circle cx="399.8" cy="977.5" r="6.3"/><circle cx="407.5" cy="969.4" r="6.3"/><circle cx="413.3" cy="989.9" r="6.3"/><circle cx="419.5" cy="994.4" r="6.3"/><circle cx="427.7" cy="991.7" r="6.3"/><circle cx="432.0" cy="985.3" r="6.3"/><circle cx="443.5" cy="982.8" r="6.3"/><circle cx="448.3" cy="986.4" r="6.3"/><circle cx="455.5" cy="864.7" r="6.3"/><circle cx="452.6" cy="892.5" r="6.3"/><circle cx="457.9" cy="911.1" r="6.3"/><circle cx="460.8" cy="947.8" r="6.3"/><circle cx="472.3" cy="930.0" r="6.3"/><circle cx="465.1" cy="979.1" r="6.3"/><circle cx="469.0" cy="996.1" r="6.3"/><circle cx="478.6" cy="971.0" r="6.3"/><circle cx="481.5" cy="943.5" r="6.3"/><circle cx="483.9" cy="956.7" r="6.3"/><circle cx="492.0" cy="957.8" r="6.3"/><circle cx="486.8" cy="1010.6" r="6.3"/><circle cx="494.9" cy="999.8" r="6.3"/><circle cx="499.2" cy="989.0" r="6.3"/><circle cx="501.2" cy="950.5" r="6.3"/><circle cx="504.5" cy="939.7" r="6.3"/><circle cx="509.8" cy="973.7" r="6.3"/><circle cx="513.6" cy="899.5" r="6.3"/><circle cx="514.1" cy="953.2" r="6.3"/><circle cx="506.4" cy="938.9" r="6.3"/><circle cx="518.0" cy="953.2" r="6.3"/><circle cx="531.4" cy="949.7" r="6.3"/><circle cx="546.8" cy="947.0" r="6.3"/><circle cx="555.0" cy="922.7" r="6.3"/><circle cx="567.5" cy="918.4" r="6.3"/><circle cx="580.9" cy="919.2" r="6.3"/><circle cx="583.3" cy="936.2" r="6.3"/><circle cx="569.9" cy="943.5" r="6.3"/><circle cx="576.1" cy="954.0" r="6.3"/><circle cx="597.7" cy="935.4" r="6.3"/><circle cx="602.0" cy="939.7" r="6.3"/><circle cx="511.7" cy="971.0" r="6.3"/><circle cx="525.2" cy="988.2" r="6.3"/><circle cx="532.9" cy="964.8" r="6.3"/><circle cx="535.7" cy="979.1" r="6.3"/><circle cx="544.9" cy="985.3" r="6.3"/><circle cx="541.5" cy="1002.5" r="6.3"/><circle cx="554.5" cy="962.9" r="6.3"/><circle cx="561.7" cy="978.3" r="6.3"/><circle cx="572.7" cy="968.3" r="6.3"/><circle cx="587.1" cy="973.7" r="6.3"/><circle cx="588.6" cy="985.3" r="6.3"/><circle cx="593.4" cy="958.6" r="6.3"/><circle cx="595.8" cy="1003.3" r="6.3"/><circle cx="609.2" cy="1001.4" r="6.3"/><circle cx="607.8" cy="973.7" r="6.3"/><circle cx="614.5" cy="962.1" r="6.3"/><circle cx="619.8" cy="951.3" r="6.3"/><circle cx="619.3" cy="975.6" r="6.3"/><circle cx="626.1" cy="981.8" r="6.3"/><circle cx="628.0" cy="968.3" r="6.3"/><circle cx="633.3" cy="925.4" r="6.3"/><circle cx="634.2" cy="994.4" r="6.3"/><circle cx="635.7" cy="925.7" r="6.3"/><circle cx="616.4" cy="962.6" r="6.3"/><circle cx="635.7" cy="957.2" r="6.3"/><circle cx="633.3" cy="967.2" r="6.3"/><circle cx="611.6" cy="973.7" r="6.3"/><circle cx="624.1" cy="982.6" r="6.3"/><circle cx="621.2" cy="977.5" r="6.3"/><circle cx="638.1" cy="993.9" r="6.3"/><circle cx="600.1" cy="1003.1" r="6.3"/><circle cx="645.7" cy="958.0" r="6.3"/><circle cx="651.0" cy="981.0" r="6.3"/><circle cx="656.3" cy="959.4" r="6.3"/><circle cx="664.0" cy="956.4" r="6.3"/><circle cx="666.9" cy="936.5" r="6.3"/><circle cx="674.6" cy="943.5" r="6.3"/><circle cx="676.5" cy="961.0" r="6.3"/><circle cx="671.7" cy="978.0" r="6.3"/><circle cx="679.9" cy="989.3" r="6.3"/><circle cx="683.2" cy="1008.5" r="6.3"/><circle cx="689.9" cy="983.9" r="6.3"/><circle cx="687.5" cy="950.2" r="6.3"/><circle cx="692.8" cy="928.1" r="6.3"/><circle cx="696.2" cy="944.3" r="6.3"/><circle cx="700.5" cy="955.1" r="6.3"/><circle cx="711.6" cy="941.3" r="6.3"/><circle cx="716.8" cy="927.3" r="6.3"/><circle cx="713.5" cy="978.0" r="6.3"/><circle cx="717.8" cy="988.5" r="6.3"/><circle cx="723.6" cy="1006.3" r="6.3"/><circle cx="726.4" cy="962.6" r="6.3"/><circle cx="750.0" cy="926.0" r="6.3"/><circle cx="753.8" cy="929.7" r="6.3"/><circle cx="763.0" cy="938.1" r="6.3"/><circle cx="784.6" cy="919.8" r="6.3"/><circle cx="789.9" cy="945.9" r="6.3"/><circle cx="793.2" cy="950.5" r="6.3"/><circle cx="796.1" cy="956.7" r="6.3"/><circle cx="792.7" cy="964.2" r="6.3"/><circle cx="787.0" cy="973.4" r="6.3"/><circle cx="802.8" cy="975.6" r="6.3"/><circle cx="799.9" cy="990.1" r="6.3"/><circle cx="776.9" cy="953.5" r="6.3"/><circle cx="771.6" cy="962.6" r="6.3"/><circle cx="760.6" cy="967.2" r="6.3"/><circle cx="766.8" cy="976.4" r="6.3"/><circle cx="775.4" cy="985.5" r="6.3"/><circle cx="770.6" cy="990.1" r="6.3"/><circle cx="779.3" cy="1006.3" r="6.3"/><circle cx="745.7" cy="955.1" r="6.3"/><circle cx="740.4" cy="959.7" r="6.3"/><circle cx="727.4" cy="962.6" r="6.3"/><circle cx="738.9" cy="970.4" r="6.3"/><circle cx="747.6" cy="981.8" r="6.3"/><circle cx="719.7" cy="985.5" r="6.3"/><circle cx="718.3" cy="991.7" r="6.3"/><circle cx="731.7" cy="994.7" r="6.3"/><circle cx="728.9" cy="1002.5" r="6.3"/><circle cx="738.9" cy="1004.7" r="6.3"/><circle cx="753.3" cy="1010.1" r="6.3"/><circle cx="708.7" cy="941.3" r="6.3"/><circle cx="701.0" cy="945.1" r="6.3"/><circle cx="702.9" cy="953.2" r="6.3"/><circle cx="709.6" cy="950.5" r="6.3"/><circle cx="181.3" cy="982.7" r="6.3"/><circle cx="592.3" cy="952.0" r="6.3"/><circle cx="631.9" cy="973.2" r="6.3"/><circle cx="598.4" cy="982.2" r="6.3"/><circle cx="795.8" cy="991.1" r="6.3"/><circle cx="798.9" cy="952.0" r="6.3"/><circle cx="283.2" cy="968.8" r="6.3"/><circle cx="492.9" cy="975.1" r="6.3"/><circle cx="616.5" cy="977.2" r="6.3"/><circle cx="681.2" cy="957.3" r="6.3"/><circle cx="713.8" cy="970.1" r="6.3"/><circle cx="158.2" cy="979.3" r="6.3"/><circle cx="231.7" cy="963.5" r="6.3"/><circle cx="210.7" cy="967.1" r="6.3"/><circle cx="272.0" cy="972.9" r="6.3"/><circle cx="576.7" cy="973.4" r="6.3"/><circle cx="292.0" cy="973.3" r="6.3"/><circle cx="178.7" cy="967.1" r="6.3"/><circle cx="364.8" cy="971.8" r="6.3"/><circle cx="392.3" cy="977.5" r="6.3"/><circle cx="522.8" cy="957.8" r="6.3"/><circle cx="609.9" cy="954.5" r="6.3"/><circle cx="351.9" cy="968.7" r="6.3"/><circle cx="498.4" cy="966.9" r="6.3"/><circle cx="439.0" cy="957.8" r="6.3"/><circle cx="284.0" cy="973.2" r="6.3"/><circle cx="619.0" cy="963.8" r="6.3"/><circle cx="752.5" cy="955.5" r="6.3"/><circle cx="750.7" cy="969.3" r="6.3"/><circle cx="593.3" cy="985.2" r="6.3"/><circle cx="539.0" cy="978.1" r="6.3"/><circle cx="198.9" cy="973.7" r="6.3"/><circle cx="309.3" cy="967.3" r="6.3"/><circle cx="397.9" cy="982.5" r="6.3"/><circle cx="566.5" cy="980.6" r="6.3"/><circle cx="264.9" cy="963.2" r="6.3"/><circle cx="721.9" cy="947.4" r="6.3"/><circle cx="771.0" cy="961.0" r="6.3"/><circle cx="405.8" cy="968.5" r="6.3"/><circle cx="440.3" cy="956.3" r="6.3"/></g>
<path d="M504 807.7V842.2M498.1 807.7h11.8M498.1 842.2h11.8" stroke="#00f" stroke-width="1.6" fill="none"/>
<path d="M498.1 825.0h11.8M504.0 819.1v11.8M499.7 820.7l8.6 8.6M499.7 829.3l8.6 -8.6" stroke="#00f" stroke-width="1.6" fill="none"/>
<path d="M669.8 807.5V841.8M664.1 807.5h11.3M664.1 841.8h11.3" stroke="#f00" stroke-width="1.6" fill="none"/>
<circle cx="669.8" cy="824.5" r="5.7" fill="#f00"/>
<text filter="url(#gs)" x="535.18" y="833.5" font-family="Liberation Serif, serif" font-style="italic" font-size="40">&#969;</text>
<text filter="url(#gs)" x="563.17" y="851.20" font-family="Liberation Sans, sans-serif" font-size="34.2" >0</text><path transform="translate(582.19,851.20) scale(0.01670,-0.01670)" d="M763 0H583V1147Q518 1085 412.5 1023Q307 961 223 930V1104Q374 1175 487 1276Q600 1377 647 1472H763V0Z"/><text filter="url(#gs)" x="601.21" y="851.20" font-family="Liberation Sans, sans-serif" font-size="34.2" >,</text><path transform="translate(610.71,851.20) scale(0.01670,-0.01670)" d="M763 0H583V1147Q518 1085 412.5 1023Q307 961 223 930V1104Q374 1175 487 1276Q600 1377 647 1472H763V0Z"/>
<text filter="url(#gs)" x="701.78" y="833.5" font-family="Liberation Serif, serif" font-style="italic" font-size="40">&#969;</text>
<text filter="url(#gs)" x="729.67" y="851.20" font-family="Liberation Sans, sans-serif" font-size="34.2" >0</text><path transform="translate(748.69,851.20) scale(0.01670,-0.01670)" d="M763 0H583V1147Q518 1085 412.5 1023Q307 961 223 930V1104Q374 1175 487 1276Q600 1377 647 1472H763V0Z"/><text filter="url(#gs)" x="767.71" y="851.20" font-family="Liberation Sans, sans-serif" font-size="34.2" >,2</text>
<rect x="150.5" y="88.0" width="672.5" height="216.0" fill="none" stroke="#333" stroke-width="1.5"/>
<rect x="150.5" y="444.3" width="672.5" height="214.3" fill="none" stroke="#333" stroke-width="1.5"/>
<rect x="150.5" y="799.5" width="672.5" height="215.70000000000005" fill="none" stroke="#333" stroke-width="1.5"/>
<g transform="translate(61.5,329.7) rotate(-90)"><text filter="url(#gs)" x="-1.15" y="0" font-family="Liberation Serif, serif" font-size="39.5">&#915;</text><text filter="url(#gs)" x="21.64" y="5.5" font-family="Liberation Serif, serif" font-style="italic" font-size="26.5" textLength="17.16" lengthAdjust="spacingAndGlyphs">&#981;</text><line x1="43.00" y1="9.20" x2="56.40" y2="-28.40" stroke="#000" stroke-width="2.1"/><text filter="url(#gs)" x="58.81" y="0" font-family="Liberation Serif, serif" font-size="38.5">2</text><text filter="url(#gs)" x="80.42" y="0" font-family="Liberation Serif, serif" font-style="italic" font-size="36.5">&#960;</text><text filter="url(#gs)" x="101.94" y="0" font-family="Liberation Serif, serif" font-size="38.5">,</text><text filter="url(#gs)" x="124.63" y="0" font-family="Liberation Serif, serif" font-style="italic" font-size="39" textLength="15.60" lengthAdjust="spacingAndGlyphs">&#948;</text><text filter="url(#gs)" x="139.65" y="5" font-family="Liberation Sans, sans-serif" font-size="25">f</text><text filter="url(#gs)" x="150.65" y="5" font-family="Liberation Sans, sans-serif" font-size="25">,</text><path transform="translate(161.68,5.00) scale(0.01221,-0.01221)" d="M763 0H583V1147Q518 1085 412.5 1023Q307 961 223 930V1104Q374 1175 487 1276Q600 1377 647 1472H763V0Z"/><text filter="url(#gs)" x="179.41" y="0" font-family="Liberation Sans, sans-serif" font-size="37">(kHz)</text></g>
<g transform="translate(50.2,685.6) rotate(-90)"><text filter="url(#gs)" x="-1.15" y="0" font-family="Liberation Serif, serif" font-size="39.5">&#915;</text><text filter="url(#gs)" x="21.64" y="5.5" font-family="Liberation Serif, serif" font-style="italic" font-size="26.5" textLength="17.16" lengthAdjust="spacingAndGlyphs">&#981;</text><line x1="43.00" y1="9.20" x2="56.40" y2="-28.40" stroke="#000" stroke-width="2.1"/><text filter="url(#gs)" x="58.81" y="0" font-family="Liberation Serif, serif" font-size="38.5">2</text><text filter="url(#gs)" x="80.42" y="0" font-family="Liberation Serif, serif" font-style="italic" font-size="36.5">&#960;</text><text filter="url(#gs)" x="101.94" y="0" font-family="Liberation Serif, serif" font-size="38.5">,</text><text filter="url(#gs)" x="124.63" y="0" font-family="Liberation Serif, serif" font-style="italic" font-size="39" textLength="15.60" lengthAdjust="spacingAndGlyphs">&#948;</text><text filter="url(#gs)" x="139.65" y="5" font-family="Liberation Sans, sans-serif" font-size="25">f</text><text filter="url(#gs)" x="150.65" y="5" font-family="Liberation Sans, sans-serif" font-size="25">,</text><text filter="url(#gs)" x="163.15" y="5.00" font-family="Liberation Sans, sans-serif" font-size="25" >2</text><text filter="url(#gs)" x="179.41" y="0" font-family="Liberation Sans, sans-serif" font-size="37">(kHz)</text></g>
<g transform="translate(69.5,959.7) rotate(-90)"><text filter="url(#gs)" x="-1.37" y="0" font-family="Liberation Serif, serif" font-style="italic" font-size="38">&#951;</text><text filter="url(#gs)" x="18.83" y="18.10" font-family="Liberation Sans, sans-serif" font-size="29.2">p</text><text filter="url(#gs)" x="46.33" y="0" font-family="Liberation Sans, sans-serif" font-size="38.3">(%)</text></g>
<text filter="url(#gs)" x="-0.5" y="31.0" font-family="Liberation Serif, serif" font-size="45">(a)</text>
<text filter="url(#gs)" x="-0.5" y="395.2" font-family="Liberation Serif, serif" font-size="45">(b)</text>
<text filter="url(#gs)" x="-0.5" y="780.4" font-family="Liberation Serif, serif" font-size="45">(c)</text>
<text filter="url(#gs)" x="452.33" y="399.30" font-family="Liberation Sans, sans-serif" font-style="italic" font-size="37" stroke="#000" stroke-width="0.5">t</text>
<text filter="url(#gs)" x="473.54" y="399.30" font-family="Liberation Sans, sans-serif" font-size="38">(h)</text>
<text filter="url(#gs)" x="452.33" y="753.90" font-family="Liberation Sans, sans-serif" font-style="italic" font-size="37" stroke="#000" stroke-width="0.5">t</text>
<text filter="url(#gs)" x="473.54" y="753.90" font-family="Liberation Sans, sans-serif" font-size="38">(h)</text>
<text filter="url(#gs)" x="452.33" y="1110.50" font-family="Liberation Sans, sans-serif" font-style="italic" font-size="37" stroke="#000" stroke-width="0.5">t</text>
<text filter="url(#gs)" x="473.54" y="1110.50" font-family="Liberation Sans, sans-serif" font-size="38">(h)</text>
<path d="M296.5 133.3H353.3" stroke="#222" stroke-width="1.1" fill="none"/><path d="M325.3 116.6V150.4" stroke="#666" stroke-width="1.3" fill="none"/><path d="M319.6 116.6h11.6M319.6 150.4h11.6" stroke="#111" stroke-width="1.6" fill="none"/>
<path d="M411.5 133.3H467.7M440.1 116.6V150.4M434.3 116.6h11.6M434.3 150.4h11.6" stroke="#f00" stroke-width="1.3" fill="none"/>
<text filter="url(#gs)" x="357.7" y="143.2" font-family="Liberation Serif, serif" font-size="40">&#915;</text>
<text filter="url(#gs)" x="381.4" y="149.4" font-family="Liberation Serif, serif" font-style="italic" font-size="28" textLength="17" lengthAdjust="spacingAndGlyphs">&#981;</text>
<text filter="url(#gs)" x="472.8" y="143.4" font-family="Liberation Serif, serif" font-style="italic" font-size="40">&#948;</text>
<text filter="url(#gs)" x="491.2" y="147.4" font-family="Liberation Sans, sans-serif" font-size="26">f</text>
<text filter="url(#gs)" x="498.2" y="147.4" font-family="Liberation Sans, sans-serif" font-size="26">,</text>
<path transform="translate(507.17,147.40) scale(0.01270,-0.01270)" d="M763 0H583V1147Q518 1085 412.5 1023Q307 961 223 930V1104Q374 1175 487 1276Q600 1377 647 1472H763V0Z"/>
<path d="M322.3 481.40000000000003H379.1" stroke="#222" stroke-width="1.1" fill="none"/><path d="M351.1 464.70000000000005V498.5" stroke="#666" stroke-width="1.3" fill="none"/><path d="M345.40000000000003 464.70000000000005h11.6M345.40000000000003 498.5h11.6" stroke="#111" stroke-width="1.6" fill="none"/>
<path d="M437.3 481.40000000000003H493.5M465.90000000000003 464.70000000000005V498.5M460.1 464.70000000000005h11.6M460.1 498.5h11.6" stroke="#f00" stroke-width="1.3" fill="none"/>
<text filter="url(#gs)" x="383.5" y="491.3" font-family="Liberation Serif, serif" font-size="40">&#915;</text>
<text filter="url(#gs)" x="407.2" y="497.5" font-family="Liberation Serif, serif" font-style="italic" font-size="28" textLength="17" lengthAdjust="spacingAndGlyphs">&#981;</text>
<text filter="url(#gs)" x="498.6" y="491.5" font-family="Liberation Serif, serif" font-style="italic" font-size="40">&#948;</text>
<text filter="url(#gs)" x="517.0" y="495.5" font-family="Liberation Sans, sans-serif" font-size="26">f</text>
<text filter="url(#gs)" x="524.0" y="495.5" font-family="Liberation Sans, sans-serif" font-size="26">,</text>
<text filter="url(#gs)" x="534.50" y="495.50" font-family="Liberation Sans, sans-serif" font-size="26" >2</text>
</svg>
</body></html>
